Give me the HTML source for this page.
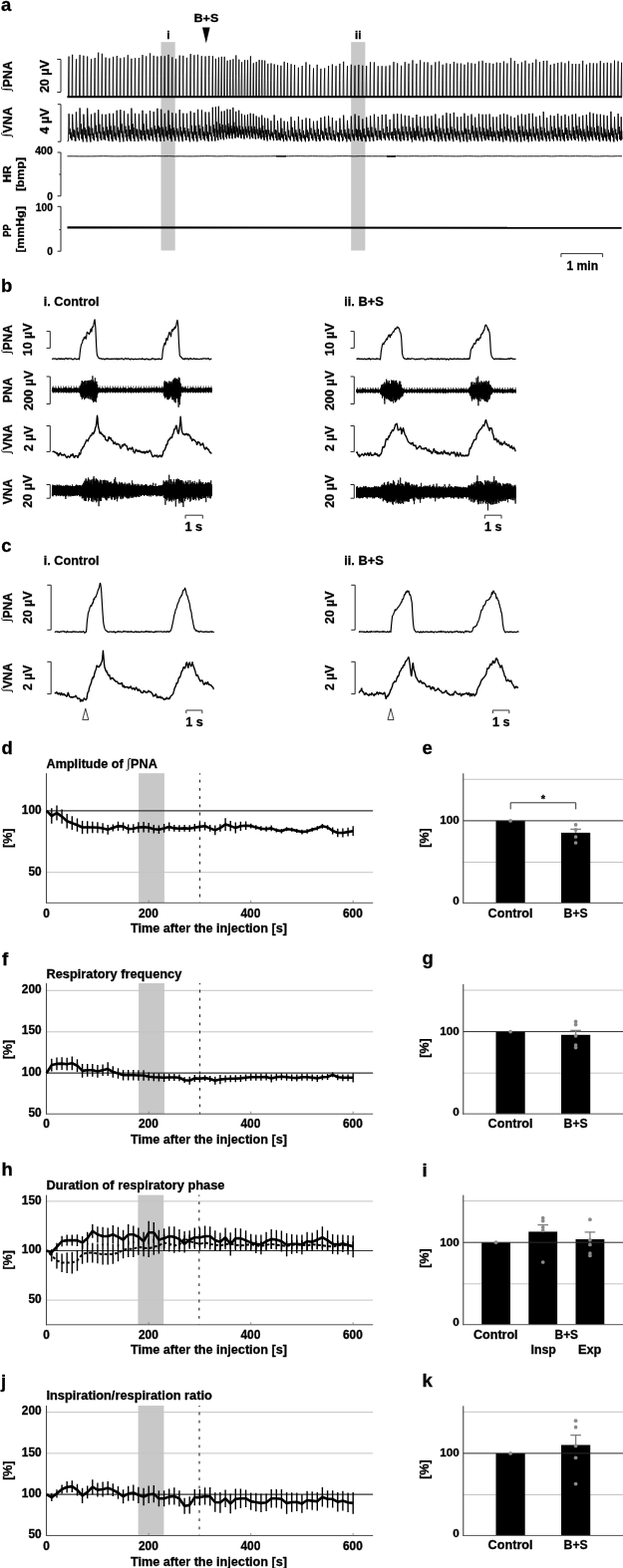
<!DOCTYPE html>
<html lang="en">
<head>
<meta charset="utf-8">
<title>Figure</title>
<style>
html,body{margin:0;padding:0;background:#fff;}
body{width:625px;height:1574px;overflow:hidden;}
svg{display:block;}
svg text{font-family:"Liberation Sans", Arial, Helvetica, sans-serif;font-weight:bold;stroke:#000;stroke-width:0.3px;}
</style>
</head>
<body>
<svg width="625" height="1574" viewBox="0 0 625 1574">
<rect x="0" y="0" width="625" height="1574" fill="#fff"/>
<rect x="161.5" y="42.2" width="14.2" height="209.3" fill="#c8c8c8"/>
<rect x="352.2" y="42.2" width="14.2" height="209.3" fill="#c8c8c8"/>
<text x="0.9" y="11.3" font-size="18.5">a</text>
<text x="194.5" y="22" font-size="11.8" textLength="24.8" lengthAdjust="spacingAndGlyphs">B+S</text>
<path d="M203 27.5H210.6L206.8 43.5Z" fill="#000" stroke="none" stroke-width="0"/>
<text x="167.3" y="38.8" font-size="11.8">i</text>
<text x="356" y="38.8" font-size="11.8">ii</text>
<text x="12.1" y="91.2" font-size="12.3" transform="rotate(-90 12.1 91.2)"><tspan font-family="'Liberation Serif', serif" font-weight="normal" stroke-width="0.15" dy="-2.0">∫</tspan><tspan dy="2.0" dx="0.4">PNA</tspan></text>
<text x="49.2" y="93.1" font-size="12.5" transform="rotate(-90 49.2 93.1)">20 µV</text>
<path d="M57.3 59.5H61V92.5H57.3" fill="none" stroke="#222" stroke-width="1"/>
<text x="12.1" y="137.2" font-size="12.3" transform="rotate(-90 12.1 137.2)"><tspan font-family="'Liberation Serif', serif" font-weight="normal" stroke-width="0.15" dy="-2.0">∫</tspan><tspan dy="2.0" dx="0.4">VNA</tspan></text>
<text x="49.2" y="134.5" font-size="12.5" transform="rotate(-90 49.2 134.5)">4 µV</text>
<path d="M57.8 104.7H61V142.2H57.8" fill="none" stroke="#222" stroke-width="1"/>
<path d="M57.6 153H61V196.8H57.6M59.3 175H61" fill="none" stroke="#222" stroke-width="1"/>
<text x="52.8" y="155.3" font-size="10.2" textLength="17.6" lengthAdjust="spacingAndGlyphs" text-anchor="end">400</text>
<text x="52.8" y="200.5" font-size="10.2" text-anchor="end">0</text>
<text x="11.4" y="183.2" font-size="11.3" transform="rotate(-90 11.4 183.2)" textLength="17" lengthAdjust="spacingAndGlyphs">HR</text>
<text x="24.3" y="192" font-size="11.3" transform="rotate(-90 24.3 192)" textLength="34" lengthAdjust="spacingAndGlyphs">[bmp]</text>
<path d="M57.6 207.3H61V252.2H57.6M59.3 230.6H61" fill="none" stroke="#222" stroke-width="1"/>
<text x="52.8" y="212.3" font-size="10.2" textLength="17" lengthAdjust="spacingAndGlyphs" text-anchor="end">100</text>
<text x="52.8" y="256.2" font-size="10.2" text-anchor="end">0</text>
<text x="11.4" y="237.8" font-size="11.3" transform="rotate(-90 11.4 237.8)" textLength="12.5" lengthAdjust="spacingAndGlyphs">PP</text>
<text x="24.3" y="253.5" font-size="11.3" transform="rotate(-90 24.3 253.5)" textLength="46.5" lengthAdjust="spacingAndGlyphs">[mmHg]</text>
<polyline points="67.5,97.1 68.5,97.1 68.7,76.9 69.1,56.6 69.3,96.8 72.1,97.1 72.3,76 72.7,54.8 72.9,96.8 75.9,97.1 76.1,78.2 76.5,59.3 76.7,96.8 79.5,97.1 79.7,76.1 80.1,55.1 80.4,96.8 83.3,97.1 83.5,76.5 83.9,55.8 84.2,96.8 87.1,97.1 87.3,76.8 87.7,56.6 88,96.8 90.9,97.1 91.1,78.1 91.5,59.2 91.7,96.8 94.6,97.1 94.8,77.6 95.2,58.1 95.4,96.8 98.1,97.1 98.3,74.9 98.7,52.7 99,96.8 101.8,97.1 102,75.4 102.4,53.8 102.6,96.8 105.5,97.1 105.7,77.4 106.1,57.7 106.3,96.8 109.2,97.1 109.4,77.8 109.8,58.5 110.1,96.8 113,97.1 113.2,77 113.6,56.9 113.9,96.8 116.7,97.1 116.9,76.5 117.3,56 117.5,96.8 120.2,97.1 120.4,77.8 120.8,58.4 121.1,96.8 123.9,97.1 124.1,77.3 124.5,57.6 124.7,96.8 127.7,97.1 127.9,76.1 128.3,55.2 128.6,96.8 131.3,97.1 131.5,78 131.9,58.8 132.2,96.8 135,97.1 135.2,77.7 135.6,58.3 135.9,96.8 138.8,97.1 139,77.6 139.4,58.1 139.7,96.8 142.4,97.1 142.6,76.1 143,55.1 143.2,96.8 146.1,97.1 146.3,76.7 146.7,56.4 147,96.8 150,97.1 150.2,75.3 150.6,53.4 150.8,96.8 153.6,97.1 153.8,76.5 154.2,55.9 154.4,96.8 157.3,97.1 157.5,76.8 157.9,56.6 158.1,96.8 161.1,97.1 161.3,76.7 161.7,56.3 162,96.8 164.7,97.1 164.9,76.7 165.3,56.3 165.5,96.8 168.4,97.1 168.6,76 169,54.9 169.3,96.8 172.2,97.1 172.4,77.2 172.8,57.4 173,96.8 175.9,97.1 176.1,78.1 176.5,59.1 176.8,96.8 179.6,97.1 179.8,76.4 180.2,55.6 180.5,96.8 183.2,97.1 183.4,76.5 183.8,55.9 184.1,96.8 186.9,97.1 187.1,77.5 187.5,57.9 187.8,96.8 190.6,97.1 190.8,75.6 191.2,54.1 191.4,96.8 194.3,97.1 194.5,76.2 194.9,55.3 195.1,96.8 197.9,97.1 198.1,75.9 198.5,54.8 198.8,96.8 201.7,97.1 201.9,76.7 202.3,56.2 202.6,96.8 205.5,97.1 205.7,76.8 206.1,56.5 206.4,96.8 209.2,97.1 209.4,76.6 209.8,56 210,96.8 212.8,97.1 213,76.6 213.4,56.2 213.6,96.8 215.9,97.1 216.1,78 216.5,58.9 216.8,96.8 218.8,97.1 219,77.4 219.4,57.6 219.7,96.8 221.7,97.1 221.9,77 222.3,56.9 222.5,96.8 224.6,97.1 224.8,77 225.2,56.9 225.5,96.8 227.5,97.1 227.7,78.9 228.1,60.8 228.3,96.8 230.4,97.1 230.6,78.6 231,60.1 231.2,96.8 233.3,97.1 233.5,78.2 233.9,59.3 234.2,96.8 236.2,97.1 236.4,76.3 236.8,55.5 237.1,96.8 239.2,97.1 239.4,78.4 239.8,59.7 240.1,96.8 242,97.1 242.2,79.7 242.6,62.3 242.9,96.8 245,97.1 245.2,78.7 245.6,60.2 245.9,96.8 247.9,97.1 248.1,78.7 248.5,60.3 248.7,96.8 250.8,97.1 251,76.7 251.4,56.3 251.6,96.8 253.7,97.1 253.9,80.2 254.3,63.3 254.6,96.8 256.6,97.1 256.8,79.6 257.2,62.1 257.5,96.8 259.5,97.1 259.7,78.6 260.1,60.1 260.3,96.8 262.3,97.1 262.5,78.7 262.9,60.3 263.1,96.8 265.1,97.1 265.3,78.9 265.7,60.7 266,96.8 268.2,97.1 268.4,80.5 268.8,63.9 269.1,96.8 271.4,97.1 271.6,80.3 272,63.5 272.2,96.8 274.6,97.1 274.8,80.7 275.2,64.4 275.4,96.8 278,97.1 278.2,81.2 278.6,65.3 278.8,96.8 281.3,97.1 281.5,81.5 281.9,65.8 282.2,96.8 284.6,97.1 284.8,79.5 285.2,61.9 285.4,96.8 287.9,97.1 288.1,80 288.5,63 288.8,96.8 291.5,97.1 291.7,80.7 292.1,64.3 292.3,96.8 295,97.1 295.2,81.1 295.6,65 295.8,96.8 298.8,97.1 299,82.4 299.4,67.7 299.6,96.8 302.6,97.1 302.8,81.6 303.2,66 303.4,96.8 306.4,97.1 306.6,79.8 307,62.4 307.2,96.8 310.1,97.1 310.3,81 310.7,64.8 310.9,96.8 313.9,97.1 314.1,82.7 314.5,68.4 314.8,96.8 317.6,97.1 317.8,81 318.2,64.9 318.4,96.8 321.3,97.1 321.5,83 321.9,68.9 322.1,96.8 325.1,97.1 325.3,82.8 325.7,68.5 325.9,96.8 329,97.1 329.2,81.6 329.6,66 329.8,96.8 332.8,97.1 333,80.8 333.4,64.5 333.7,96.8 336.5,97.1 336.7,81.7 337.1,66.2 337.4,96.8 340.3,97.1 340.5,80.5 340.9,63.9 341.2,96.8 344.1,97.1 344.3,79.5 344.7,61.8 345,96.8 347.9,97.1 348.1,81.5 348.5,66 348.8,96.8 351.7,97.1 351.9,81 352.3,64.8 352.5,96.8 355.5,97.1 355.7,81.5 356.1,65.8 356.3,96.8 359.3,97.1 359.5,81 359.9,65 360.1,96.8 363.2,97.1 363.4,81.4 363.8,65.7 364.1,96.8 367.1,97.1 367.3,81.6 367.7,66.1 368,96.8 371,97.1 371.2,79.7 371.6,62.3 371.8,96.8 374.8,97.1 375,79.8 375.4,62.5 375.6,96.8 378.7,97.1 378.9,81.7 379.3,66.3 379.6,96.8 382.6,97.1 382.8,81.7 383.2,66.2 383.5,96.8 386.5,97.1 386.7,81.7 387.1,66.4 387.4,96.8 390.4,97.1 390.6,81.4 391,65.6 391.3,96.8 394.4,97.1 394.6,79.6 395,62.1 395.2,96.8 398.1,97.1 398.3,80.2 398.7,63.4 398.9,96.8 402,97.1 402.2,81.5 402.6,65.8 402.8,96.8 405.7,97.1 405.9,79.6 406.3,62.2 406.6,96.8 409.5,97.1 409.7,80.4 410.1,63.8 410.4,96.8 413.4,97.1 413.6,78.7 414,60.4 414.3,96.8 417.3,97.1 417.5,80.5 417.9,63.9 418.2,96.8 421,97.1 421.2,78.7 421.6,60.4 421.9,96.8 424.9,97.1 425.1,79.7 425.5,62.4 425.7,96.8 428.5,97.1 428.7,79.8 429.1,62.5 429.4,96.8 432.3,97.1 432.5,81.2 432.9,65.3 433.1,96.8 436.2,97.1 436.4,79.7 436.8,62.4 437,96.8 439.9,97.1 440.1,79.4 440.5,61.6 440.7,96.8 443.6,97.1 443.8,81 444.2,64.8 444.5,96.8 447.3,97.1 447.5,80.3 447.9,63.4 448.2,96.8 451.1,97.1 451.3,80.6 451.7,64.2 451.9,96.8 454.8,97.1 455,79.6 455.4,62 455.6,96.8 458.2,97.1 458.4,80.3 458.8,63.6 459.1,96.8 461.8,97.1 462,80.4 462.4,63.6 462.6,96.8 465.4,97.1 465.6,80.9 466,64.8 466.2,96.8 468.8,97.1 469,79.9 469.4,62.6 469.7,96.8 472.4,97.1 472.6,80.2 473,63.4 473.3,96.8 476.1,97.1 476.3,80.5 476.7,63.9 476.9,96.8 479.8,97.1 480,79.4 480.4,61.6 480.6,96.8 483.5,97.1 483.7,79 484.1,60.9 484.4,96.8 487,97.1 487.2,80.1 487.6,63 487.8,96.8 490.5,97.1 490.7,80.2 491.1,63.3 491.4,96.8 494.2,97.1 494.4,80.5 494.8,63.9 495,96.8 497.7,97.1 497.9,79.9 498.3,62.7 498.5,96.8 501.2,97.1 501.4,80.1 501.8,63.1 502,96.8 504.8,97.1 505,79.3 505.4,61.5 505.6,96.8 508.3,97.1 508.5,80.3 508.9,63.5 509.1,96.8 512,97.1 512.2,77.6 512.6,58.2 512.8,96.8 515.7,97.1 515.9,79.1 516.3,61.1 516.5,96.8 519.1,97.1 519.3,80.6 519.7,64.1 520,96.8 522.8,97.1 523,79.8 523.4,62.5 523.6,96.8 526.4,97.1 526.6,79 527,60.8 527.3,96.8 530.2,97.1 530.4,80.5 530.8,63.8 531,96.8 533.7,97.1 533.9,80 534.3,62.9 534.6,96.8 537.2,97.1 537.4,78.4 537.8,59.6 538.1,96.8 540.9,97.1 541.1,79.6 541.5,62.2 541.8,96.8 544.7,97.1 544.9,79 545.3,61 545.5,96.8 548.2,97.1 548.4,79 548.8,60.9 549,96.8 551.7,97.1 551.9,81 552.3,64.9 552.6,96.8 555.4,97.1 555.6,80.5 556,63.9 556.3,96.8 559.1,97.1 559.3,80.1 559.7,63 560,96.8 562.6,97.1 562.8,79.7 563.2,62.4 563.5,96.8 566.3,97.1 566.5,80.3 566.9,63.4 567.1,96.8 570,97.1 570.2,79.2 570.6,61.4 570.8,96.8 573.6,97.1 573.8,80.5 574.2,64 574.4,96.8 577.1,97.1 577.3,80.6 577.7,64.1 577.9,96.8 580.5,97.1 580.7,80.6 581.1,64.1 581.4,96.8 584.1,97.1 584.3,79 584.7,60.9 584.9,96.8 587.8,97.1 588,80.9 588.4,64.7 588.6,96.8 591.2,97.1 591.4,80.2 591.8,63.2 592.1,96.8 594.7,97.1 594.9,80.2 595.3,63.4 595.5,96.8 598.2,97.1 598.4,80.3 598.8,63.5 599.1,96.8 601.7,97.1 601.9,79.2 602.3,61.2 602.6,96.8 605.2,97.1 605.4,80.2 605.8,63.3 606.1,96.8 608.7,97.1 608.9,79.9 609.3,62.8 609.5,96.8 612.3,97.1 612.5,80.3 612.9,63.4 613.1,96.8 615.9,97.1 616.1,78.9 616.5,60.7 616.8,96.8 619.5,97.1 619.7,79.2 620.1,61.4 620.4,96.8 623,97.1 623.2,80 623.6,62.8 623.8,96.8 624,97.1" fill="none" stroke="#000" stroke-width="0.8" stroke-linejoin="round"/>
<line x1="67.5" y1="97.2" x2="624" y2="97.2" stroke="#000" stroke-width="2"/>
<polyline points="67.5,141.8 68.5,141.5 69.1,114.2 69.6,126.3 69.9,134.9 70.3,129.2 70.7,139 71.1,132.7 71.6,139.4 71.8,134.7 72.1,141 72.7,114.7 73.2,126.6 73.6,137.2 74,129.8 74.4,137.7 74.9,131 75.3,141.5 75.6,136 75.9,141.6 76.4,112.4 77,126.2 77.3,135.6 77.7,128 78.1,138.3 78.6,132.5 79,139.4 79.3,135.6 79.5,141.1 80.1,108.4 80.7,125.1 81,134.8 81.4,124.4 81.9,139.2 82.3,129.7 82.8,140.1 83,135.7 83.3,142.4 83.9,114.7 84.5,126.8 84.8,135.5 85.2,128.2 85.7,138.5 86.1,130.2 86.6,140 86.9,135.4 87.1,142.5 87.7,108.6 88.3,125.5 88.6,135.8 89,126.6 89.4,137.4 89.9,128.3 90.3,140.4 90.6,134 90.9,142.6 91.5,114.7 92,130.1 92.3,136 92.7,128.7 93.2,139.1 93.6,133.8 94,140.4 94.3,136.1 94.6,141.2 95.1,113.3 95.6,127.7 96,134.7 96.3,125.7 96.8,138 97.2,132.5 97.6,139.8 97.9,136.6 98.1,142 98.7,110.2 99.2,127.6 99.6,133.6 99.9,124.7 100.4,139.2 100.8,132.1 101.3,139.2 101.5,135.7 101.8,141 102.4,114.7 102.9,126.7 103.2,135.2 103.6,127.8 104.1,139.8 104.5,131.8 104.9,139.5 105.2,135.2 105.5,140.9 106.1,114.8 106.6,128 107,135.9 107.3,127.3 107.8,138.2 108.2,130.5 108.7,140.8 109,135.5 109.2,141.7 109.8,113.8 110.4,126.6 110.7,135 111.1,126.3 111.6,139.3 112,130.8 112.5,141.5 112.7,135.3 113,142.1 113.6,113.8 114.1,128.7 114.5,136.8 114.8,126.3 115.3,139.3 115.7,133.2 116.2,139.9 116.4,135.5 116.7,141.2 117.2,110.8 117.7,127.8 118.1,135.6 118.5,127.7 118.9,137.9 119.3,130.7 119.7,139.5 120,134.4 120.2,142.5 120.8,110.1 121.3,124.5 121.7,133.5 122.1,124.2 122.5,137.8 122.9,131.5 123.4,139.6 123.6,134.7 123.9,142.3 124.5,111.4 125,125.3 125.4,133.7 125.8,126.7 126.2,137.7 126.7,130 127.2,140.9 127.4,135.7 127.7,141.8 128.3,114.3 128.8,129.2 129.1,137 129.5,126 129.9,139.4 130.4,130.1 130.8,140.9 131.1,136 131.3,141.9 131.9,108.6 132.4,123.5 132.8,135 133.2,124.2 133.6,138.8 134,128 134.5,139.7 134.7,135 135,142 135.6,113.8 136.1,128.6 136.5,136.3 136.9,129.3 137.4,138.2 137.8,130.3 138.3,139.8 138.6,135.3 138.8,142.1 139.4,114.4 139.9,126.4 140.3,134.5 140.6,129.9 141,139.4 141.5,131 141.9,140.1 142.1,136.8 142.4,141.3 143,110.8 143.5,126.1 143.9,136 144.3,124.3 144.7,139.6 145.1,130.9 145.6,139.5 145.9,135.9 146.1,141.5 146.7,114.3 147.3,128.3 147.7,135 148,129.6 148.5,139.1 149,130.5 149.4,139.6 149.7,134.4 150,141.1 150.5,111.1 151,126.6 151.4,136 151.8,128 152.2,137 152.6,130.1 153.1,140.1 153.3,134.7 153.6,141.6 154.2,112.1 154.7,128 155.1,134.7 155.4,126.3 155.9,137.9 156.3,129.7 156.8,140.6 157,135 157.3,142.3 157.9,108.8 158.4,124.2 158.8,133.8 159.2,126.5 159.7,138 160.1,128 160.6,140.5 160.8,134.2 161.1,142.1 161.7,109.7 162.2,127.4 162.5,135.3 162.9,127.4 163.3,137.3 163.8,129.6 164.2,139.1 164.4,135.8 164.7,141.8 165.3,113.8 165.8,127.8 166.2,136.6 166.6,127.4 167,137.4 167.4,131.3 167.9,139.3 168.1,135 168.4,140.9 169,110.7 169.5,128.2 169.9,135.1 170.3,125.5 170.7,139.1 171.2,129.2 171.7,139.8 171.9,136.3 172.2,142.1 172.8,113.2 173.3,125.8 173.7,135.6 174.1,128.2 174.5,137.5 175,130.8 175.4,140.5 175.7,135.8 175.9,141.5 176.5,113.8 177,129.8 177.4,135.1 177.8,128.9 178.2,137.5 178.7,131.6 179.1,140.4 179.4,135.9 179.6,142.2 180.2,110.1 180.7,126.8 181.1,135.8 181.4,127.5 181.9,137.5 182.3,131.7 182.7,140.3 183,134.1 183.2,142.2 183.8,113.7 184.3,128.3 184.7,134.3 185.1,128.1 185.5,137.1 186,131.2 186.4,140.6 186.7,136.1 186.9,140.9 187.5,113.8 188,128.1 188.4,136.6 188.8,129 189.2,138 189.6,132 190.1,140.9 190.3,136.8 190.6,142.4 191.2,111.6 191.7,126 192.1,134.3 192.4,125.9 192.9,138.9 193.3,132.5 193.8,140.2 194,135.7 194.3,141.7 194.9,113.1 195.4,127.2 195.7,135.3 196.1,126.2 196.6,138.7 197,132.2 197.4,140.7 197.7,136.2 197.9,142.3 198.6,109.8 199.1,126.1 199.5,135.9 199.8,125.5 200.3,138.6 200.8,129.1 201.2,139.2 201.5,136.1 201.7,140.9 202.4,110.4 202.9,126.6 203.3,136.2 203.6,127.2 204.1,139.5 204.5,132.3 205,140.1 205.3,134.1 205.5,141.3 206.1,112.5 206.6,127.7 207,136.6 207.3,125.2 207.8,139.2 208.2,132.3 208.7,140.8 208.9,134.2 209.2,142.1 209.7,112.6 210.3,127.8 210.6,135 211,126.6 211.4,136.9 211.8,133.3 212.3,141.1 212.5,136.8 212.8,141.6 213.3,107.7 213.7,126.1 214,133.4 214.4,125.4 214.7,136.9 215.1,129.1 215.5,141 215.7,134.1 215.9,141.7 216.4,107.3 216.8,123.6 217.1,133.4 217.4,122.5 217.7,137.8 218.1,130.6 218.4,139.3 218.6,134 218.8,141 219.3,106.7 219.7,125.7 220,134.6 220.3,124 220.6,137.5 220.9,127.1 221.3,139.6 221.5,134.4 221.7,139.9 222.2,111.7 222.6,124.4 222.9,133.4 223.2,125.2 223.5,138.3 223.9,130.2 224.2,139.5 224.4,133.9 224.6,140.4 225.1,111.3 225.5,126.8 225.8,133.1 226.1,125.6 226.4,137.4 226.7,131.8 227.1,138.4 227.3,133.7 227.5,139.4 228,109.6 228.4,125.3 228.6,134.8 228.9,123.9 229.3,136.4 229.6,127.6 230,138.6 230.2,134.8 230.4,139.2 230.9,109.9 231.3,124.1 231.6,133.6 231.9,126.3 232.2,136.1 232.6,129 232.9,139 233.1,132 233.3,139.3 233.8,107.9 234.2,123 234.5,133.4 234.8,122.7 235.1,134.7 235.5,127.2 235.8,138.3 236,131.4 236.2,138.7 236.7,111.9 237.1,125.8 237.4,132.2 237.7,126.7 238.1,137.3 238.5,128.7 238.8,137.6 239,133.6 239.2,138.2 239.7,110.7 240.1,125.6 240.4,133.8 240.6,126.1 241,135.5 241.3,130.2 241.6,137.8 241.8,131.9 242,139.1 242.5,114.3 242.9,126.9 243.2,134.5 243.5,127.5 243.9,135.2 244.2,129.7 244.6,138.5 244.8,133.5 245,139.7 245.5,115.5 245.9,127 246.2,133.2 246.5,127.3 246.8,135.6 247.1,129.6 247.5,138.2 247.7,134.7 247.9,138.3 248.4,114.9 248.8,126.9 249,133.4 249.3,126.7 249.7,135.4 250,131.4 250.4,137.1 250.6,132.3 250.8,139.5 251.2,113.7 251.7,125.4 251.9,132.6 252.2,126.8 252.6,137.3 252.9,129 253.3,138 253.5,132.8 253.7,139.1 254.2,114.2 254.6,126.3 254.9,134.2 255.2,126.9 255.5,135.4 255.9,129.9 256.2,139.1 256.4,134.7 256.6,139.7 257.1,116.4 257.5,126.5 257.8,134.2 258.1,129.5 258.4,135.8 258.7,133.1 259.1,139.2 259.3,135 259.5,138.9 259.9,117.6 260.3,127.9 260.6,135.6 260.9,128.4 261.2,138 261.5,130.7 261.9,139.4 262.1,136 262.3,139.4 262.7,115.6 263.1,126.8 263.4,133.4 263.7,126.1 264,137.9 264.4,131.2 264.7,139.5 264.9,134 265.1,141 265.6,118.4 266.1,131.4 266.4,134.4 266.7,130.5 267.1,137.9 267.4,130.5 267.8,139.6 268,134.9 268.2,141.6 268.7,118.7 269.2,130.7 269.5,134.6 269.8,130.5 270.2,136.7 270.5,134.4 270.9,140 271.1,136.3 271.4,140.4 271.9,121.2 272.3,131.3 272.6,136.5 273,132.5 273.4,138.2 273.7,133.6 274.1,139.4 274.4,136.9 274.6,141.2 275.1,115.4 275.6,129.7 275.9,134.9 276.3,130.1 276.7,138.6 277.1,130.8 277.5,141.1 277.7,137.1 278,141 278.5,121 279,130.4 279.3,137.3 279.6,133.2 280,140.4 280.4,133.6 280.8,139.7 281.1,137.5 281.3,141.2 281.8,118.6 282.3,130.6 282.6,138.1 282.9,128.8 283.3,138.5 283.7,134.8 284.1,139.8 284.3,135.6 284.6,142.2 285.1,121.5 285.6,130.2 285.9,136.1 286.2,132.2 286.7,140.2 287.1,135.5 287.5,140.6 287.7,138.6 287.9,141.6 288.5,122 289,131.4 289.4,137.6 289.7,130.7 290.1,138.4 290.6,136.6 291,140.3 291.2,137.4 291.5,141.3 292,117.3 292.5,129 292.9,136.6 293.2,127.8 293.6,137.4 294.1,133.5 294.5,140.3 294.7,135.2 295,142 295.6,121.3 296.1,132.6 296.5,137.3 296.9,130.4 297.3,140.4 297.8,133.2 298.2,141.4 298.5,136.2 298.8,142.2 299.4,116.9 299.9,129.3 300.3,136.1 300.7,129.6 301.1,139.3 301.6,133.1 302,141 302.3,135.1 302.6,142.2 303.2,120.1 303.7,130.7 304.1,138.4 304.5,131.1 304.9,138.6 305.4,135.5 305.8,140.5 306.1,137.2 306.4,142.3 307,118.4 307.5,129 307.8,137.8 308.2,130.4 308.7,138.6 309.1,132.7 309.6,141.8 309.8,138 310.1,141.4 310.7,118.9 311.2,132.2 311.6,135.3 312,128.5 312.5,139 312.9,133.9 313.4,139.5 313.6,135.8 313.9,141.2 314.5,121.7 315,130.5 315.4,136.3 315.7,130.3 316.2,139 316.6,133.1 317,141.5 317.3,137.1 317.6,142 318.2,121.3 318.7,132.7 319,136.9 319.4,129.6 319.9,139.8 320.3,135.4 320.8,141.7 321,137.9 321.3,141.4 321.9,118 322.4,128.9 322.8,135.3 323.2,131.2 323.6,139.1 324.1,132.4 324.5,139.7 324.8,135.9 325.1,141.2 325.7,116.8 326.2,127.5 326.6,136 327,128.7 327.5,139.4 328,133 328.4,140.5 328.7,137.7 329,141 329.6,116.2 330.1,128 330.5,135.9 330.9,127.3 331.3,139.5 331.8,133.7 332.3,140 332.5,137.4 332.8,141.2 333.4,118 333.9,130.4 334.3,137.1 334.7,130.8 335.1,140.4 335.6,134.9 336,140.4 336.3,136.4 336.5,141.6 337.2,121.3 337.7,130.3 338.1,136.2 338.4,132.8 338.9,137.9 339.4,133 339.8,141.2 340.1,137.5 340.3,142.3 340.9,118.6 341.5,129.2 341.9,135.8 342.2,130.3 342.7,137.8 343.1,134.2 343.6,141.7 343.9,137.6 344.1,140.9 344.7,115.6 345.3,128.4 345.6,137.2 346,130.1 346.5,138.9 346.9,133 347.4,139.9 347.7,135.3 347.9,142.4 348.5,120.8 349,130.5 349.4,138.7 349.8,129.3 350.2,140.2 350.7,134.3 351.1,139.7 351.4,137.7 351.7,142.1 352.3,116.6 352.8,130 353.2,136.8 353.6,130.3 354,138.4 354.5,134.5 354.9,140.5 355.2,135.6 355.5,141.3 356.1,114.6 356.6,128 357,136.4 357.4,129.4 357.8,138 358.3,130.1 358.8,140.6 359,136.1 359.3,141.3 359.9,116.2 360.5,130.3 360.9,137 361.3,130.5 361.7,139.5 362.2,133.3 362.7,140.7 362.9,137.2 363.2,142 363.8,119.4 364.4,131.8 364.8,137.7 365.2,129.1 365.6,138.6 366.1,135.5 366.6,141.3 366.9,135.8 367.1,142.3 367.7,117.6 368.3,131.2 368.7,136.5 369.1,128.1 369.5,138.1 370,131.2 370.4,139.8 370.7,135.2 371,142.1 371.6,116.1 372.1,128.7 372.5,137.3 372.9,127.5 373.3,137.8 373.8,133 374.3,140.6 374.5,135 374.8,141.9 375.4,114.7 376,128.7 376.4,135.5 376.7,128.7 377.2,137.3 377.7,131.2 378.2,140.8 378.4,136.1 378.7,140.9 379.3,117.1 379.9,128.7 380.3,137.8 380.7,131.2 381.1,139.8 381.6,131.2 382.1,139.5 382.4,135.5 382.6,141.2 383.3,115 383.8,127.3 384.2,135.2 384.6,129.3 385,138.7 385.5,133.6 386,139.4 386.2,134.6 386.5,141 387.1,114.8 387.7,129.2 388.1,136.2 388.5,127.1 388.9,137.8 389.4,133 389.9,139.3 390.2,137.2 390.4,141.1 391.1,119.9 391.6,131.4 392,135.8 392.4,132.8 392.9,139 393.4,132.2 393.8,139.9 394.1,137.1 394.4,141.3 395,114.5 395.5,127.7 395.9,136 396.2,128.7 396.7,139.2 397.1,131.3 397.5,140.1 397.8,136.9 398.1,141.6 398.7,114.1 399.2,130 399.6,134.7 400,129.3 400.5,139.7 401,132.1 401.4,140.9 401.7,134.4 402,142 402.6,114.5 403.1,128.4 403.5,136 403.9,126.8 404.3,139.6 404.8,132.1 405.2,140.7 405.5,134.8 405.7,141.2 406.3,115.8 406.9,129.8 407.3,134.7 407.6,127.3 408.1,137.8 408.6,132 409,141.4 409.3,134.6 409.5,140.9 410.2,116.1 410.7,128.5 411.1,135.5 411.5,127.6 412,138.7 412.4,131.9 412.9,139.9 413.2,136.5 413.4,142.5 414.1,118.1 414.6,128.9 415,138 415.4,128.6 415.8,140.3 416.3,131.5 416.8,139.4 417,135.4 417.3,141.2 417.9,115 418.4,127.5 418.8,136.4 419.2,126.5 419.6,138.7 420.1,131.7 420.5,139.6 420.8,137.1 421,141.3 421.6,117.1 422.2,130.2 422.6,137.4 422.9,128.4 423.4,137.7 423.9,134.8 424.3,140.4 424.6,136.5 424.9,142.3 425.5,116.4 426,128.8 426.3,137 426.7,129.2 427.1,137.5 427.6,132.7 428,141.4 428.3,136.3 428.5,140.8 429.1,116.7 429.7,130.1 430,136 430.4,128.6 430.9,138.4 431.3,132.4 431.8,140.2 432,135.7 432.3,140.9 432.9,116.2 433.5,127.9 433.8,136 434.2,130.5 434.7,138.5 435.2,132.8 435.6,141.5 435.9,137.1 436.2,141.9 436.8,114.5 437.3,128.5 437.7,134.9 438,126.7 438.5,137.2 438.9,130.3 439.4,140.7 439.6,136.1 439.9,142.3 440.5,118.8 441,130.1 441.4,136.9 441.8,128.6 442.2,140.1 442.6,131.8 443.1,140 443.4,136.6 443.6,141.8 444.2,115.7 444.7,130.5 445.1,134.7 445.5,129.5 445.9,138.5 446.4,133.7 446.8,140.9 447.1,137 447.3,142.2 447.9,113.2 448.5,126 448.8,135.6 449.2,128.6 449.7,139.2 450.1,133.2 450.6,140.2 450.8,134 451.1,141.3 451.7,114 452.2,128.5 452.5,134.3 452.9,127.3 453.4,138.9 453.8,130.3 454.2,140 454.5,134.6 454.8,142.2 455.3,112.9 455.8,127.9 456.1,135.5 456.5,129.2 456.9,137.6 457.3,132.2 457.7,139.4 458,135.8 458.2,140.8 458.8,117.3 459.3,131.2 459.6,135.8 460,131.5 460.4,139.4 460.8,133.7 461.3,141 461.5,137.9 461.8,142.6 462.4,117 462.9,128.7 463.2,135.1 463.6,131.1 464,137.6 464.4,132.8 464.9,141.4 465.1,135.7 465.4,142 465.9,113.7 466.4,128.5 466.8,134.6 467.1,128.6 467.5,139.5 467.9,130.3 468.3,141.5 468.6,137 468.8,142.5 469.4,116.3 469.9,130.8 470.3,135 470.6,130 471.1,140.1 471.5,133.9 471.9,139.6 472.2,135.9 472.4,141.5 473,114.6 473.5,127.8 473.9,134.6 474.3,126.2 474.7,138 475.1,131.7 475.6,140.6 475.8,137.2 476.1,141.4 476.7,117.7 477.2,131.2 477.6,137.5 477.9,128.2 478.4,139.4 478.8,131.5 479.3,141.7 479.5,135.8 479.8,141.6 480.4,114.3 480.9,128.1 481.3,134.9 481.6,127.5 482.1,137.9 482.5,132.4 483,140.2 483.2,136 483.5,142 484.1,114.8 484.6,130.2 484.9,136 485.3,128.5 485.7,138.9 486.1,132.3 486.5,140.2 486.8,135.1 487,141.2 487.6,114.8 488.1,128.9 488.4,137 488.8,129.5 489.2,139.4 489.6,130.9 490,139.3 490.3,135 490.5,141 491.1,114.5 491.6,126.6 492,137.3 492.3,127.6 492.8,137.2 493.2,132 493.7,140.9 493.9,135.7 494.2,141.7 494.7,117.4 495.2,127.9 495.6,137.1 495.9,131.4 496.3,137.5 496.7,133.3 497.2,141.4 497.4,136.9 497.7,140.9 498.2,117.3 498.7,129.4 499.1,135 499.4,130.9 499.8,138.9 500.3,132.2 500.7,141.2 500.9,135.5 501.2,141.7 501.8,114.9 502.3,126.8 502.6,136.8 503,129.1 503.4,137.7 503.9,131.8 504.3,140 504.5,137.2 504.8,142.5 505.4,113.9 505.8,128.9 506.2,136.5 506.5,127.1 507,139.5 507.4,131.1 507.8,141.2 508.1,136.3 508.3,141.1 508.9,114.9 509.4,128.8 509.8,136.3 510.1,129.1 510.6,137.3 511,131.1 511.5,140.6 511.7,136.9 512,142.4 512.6,116.7 513.1,131.1 513.5,135 513.8,130.1 514.3,138.5 514.7,131.3 515.2,139.9 515.4,135.9 515.7,142.1 516.2,118.1 516.7,129.8 517.1,136.1 517.4,131.4 517.8,140.4 518.2,133.1 518.7,140.2 518.9,136.9 519.1,142.4 519.7,115.6 520.2,127.8 520.6,134.9 521,126.7 521.4,137.7 521.8,130.7 522.3,141.5 522.5,136.6 522.8,142.5 523.3,114.4 523.9,128.6 524.2,136.4 524.6,126.7 525,137.9 525.5,132.4 525.9,141.2 526.2,135.1 526.4,141.3 527,115.2 527.6,127.7 527.9,136.2 528.3,130.2 528.8,140 529.2,132.5 529.7,139.3 529.9,135.3 530.2,142.5 530.8,113.9 531.2,126.4 531.6,136.6 532,129.4 532.4,137.2 532.8,133.4 533.2,140.6 533.5,136.7 533.7,142 534.3,113.8 534.8,129.3 535.1,136.4 535.5,127.4 535.9,138.1 536.3,133.6 536.7,139.8 537,135.3 537.2,141.4 537.8,117.2 538.3,129.8 538.7,135.5 539.1,129.2 539.5,139.2 540,132.5 540.4,141.2 540.7,136.4 540.9,142.1 541.5,116 542.1,129.1 542.4,136 542.8,127.6 543.2,140.2 543.7,131.2 544.1,140.2 544.4,136.4 544.7,141.3 545.2,112.1 545.7,125.4 546.1,135.9 546.4,128.7 546.8,138.1 547.3,133.1 547.7,139.9 547.9,136.4 548.2,142 548.7,118.1 549.2,131.5 549.6,135.9 550,131.4 550.4,139.3 550.8,132.6 551.2,139.5 551.5,137.1 551.7,141.8 552.3,115.7 552.8,127.5 553.2,134.6 553.6,127.1 554,139.1 554.5,130.9 554.9,140 555.2,136.3 555.4,141.7 556,116.3 556.5,128.7 556.9,137 557.3,128.7 557.7,138.1 558.2,134.6 558.6,139.7 558.9,136.6 559.1,141.4 559.7,114.1 560.2,128.9 560.5,136.5 560.9,127.8 561.3,137.9 561.7,130.3 562.1,141.3 562.4,137.1 562.6,141.4 563.2,116.3 563.7,129.6 564.1,137 564.4,130.4 564.9,139.5 565.3,133.3 565.8,140.8 566,134.7 566.3,142.1 566.9,114.9 567.4,127.6 567.7,135.1 568.1,128 568.6,138.7 569,130.2 569.4,141.1 569.7,136.5 570,141.2 570.5,116.6 571,127.9 571.4,136 571.8,131.1 572.2,138.5 572.6,134.4 573.1,139.8 573.3,135.5 573.6,141.1 574.1,114.8 574.6,126.7 575,136.4 575.3,127.7 575.7,139.2 576.2,131 576.6,140 576.8,137 577.1,141 577.6,114.3 578.1,127.7 578.5,134.6 578.8,126.3 579.2,138.7 579.6,130.3 580.1,139.7 580.3,134.5 580.5,141.6 581.1,117.3 581.6,128.2 581.9,135.9 582.3,129.3 582.7,137.9 583.2,131.5 583.6,139.7 583.8,137.7 584.1,141.6 584.7,115.8 585.2,129.8 585.5,136.9 585.9,129.6 586.4,139.9 586.8,132.6 587.2,139.7 587.5,136.4 587.8,142.3 588.3,115.1 588.8,127.4 589.1,136.5 589.5,126.5 589.9,138.2 590.3,131.6 590.7,139.5 591,136.9 591.2,141.3 591.8,112.7 592.3,128.1 592.6,136.6 593,127.6 593.4,137.9 593.8,132 594.2,140.1 594.4,135.6 594.7,141.3 595.2,113.7 595.7,128.4 596.1,135.6 596.5,128.1 596.9,137.8 597.3,132.7 597.7,139.6 598,135.6 598.2,140.8 598.8,114.6 599.3,129.4 599.6,136 600,126.5 600.4,139.6 600.8,132.8 601.2,141.4 601.5,136.4 601.7,142.2 602.3,114.7 602.8,127.7 603.1,135.7 603.5,127.7 603.9,138 604.3,133.8 604.7,140.5 605,135.9 605.2,141.4 605.8,115.5 606.2,127.6 606.6,137.4 606.9,129.6 607.3,138.6 607.8,132.7 608.2,141.3 608.4,135.6 608.7,141.7 609.2,116.2 609.7,128.8 610.1,137.2 610.5,130.6 610.9,139.8 611.3,133.3 611.8,140.6 612,135.2 612.3,142.3 612.9,111.9 613.4,127 613.7,136 614.1,128.5 614.5,137.6 615,131.3 615.4,141.4 615.7,134.4 615.9,142.5 616.5,117 617,130.9 617.4,135 617.7,129.7 618.1,139.3 618.6,133.7 619,140.8 619.3,136.5 619.5,141.9 620.1,114 620.5,126.3 620.9,134.7 621.2,127.1 621.7,139.8 622.1,131.7 622.5,140.7 622.7,137.1 623,141.1 623.2,117.3 623.3,128.7 623.4,137.7 623.5,130.4 623.6,137.8 623.7,131.3 623.9,139.8 623.9,137.7" fill="none" stroke="#000" stroke-width="0.9" stroke-linejoin="round"/>
<polyline points="67.5,156.8 73.5,156.8 79.5,156.9 85.5,156.9 91.5,156.9 97.5,156.8 103.5,156.7 109.5,156.8 115.5,156.9 121.5,156.9 127.5,156.8 133.5,156.8 139.5,156.9 145.5,156.8 151.5,156.7 157.5,156.7 163.5,156.8 169.5,156.7 175.5,156.9 181.5,156.8 187.5,156.9 193.5,156.9 199.5,156.8 205.5,156.7 211.5,156.7 217.5,156.9 223.5,156.8 229.5,156.7 235.5,156.8 241.5,156.9 247.5,156.9 253.5,156.9 259.5,156.9 265.5,156.8 271.5,156.8 277.5,156.7 283.5,156.8 289.5,156.8 295.5,156.7 301.5,156.7 307.5,156.8 313.5,156.7 319.5,156.8 325.5,156.8 331.5,156.9 337.5,156.7 343.5,156.7 349.5,156.7 355.5,156.9 361.5,156.7 367.5,156.8 373.5,156.8 379.5,156.8 385.5,156.8 391.5,156.8 397.5,156.7 403.5,156.8 409.5,156.8 415.5,156.7 421.5,156.8 427.5,156.8 433.5,156.7 439.5,156.7 445.5,156.8 451.5,156.8 457.5,156.9 463.5,156.8 469.5,156.7 475.5,156.8 481.5,156.9 487.5,156.7 493.5,156.8 499.5,156.7 505.5,156.8 511.5,156.7 517.5,156.9 523.5,156.8 529.5,156.8 535.5,156.8 541.5,156.8 547.5,156.7 553.5,156.9 559.5,156.7 565.5,156.7 571.5,156.8 577.5,156.7 583.5,156.8 589.5,156.7 595.5,156.9 601.5,156.9 607.5,156.7 613.5,156.9 619.5,156.7 624,156.8" fill="none" stroke="#1a1a1a" stroke-width="1" stroke-linejoin="round"/>
<line x1="277" y1="156.9" x2="287" y2="156.9" stroke="#000" stroke-width="1.2"/>
<line x1="388" y1="157" x2="397" y2="157" stroke="#000" stroke-width="1.4"/>
<line x1="67.5" y1="228.4" x2="623.6" y2="228.8" stroke="#000" stroke-width="2.1"/>
<path d="M562.9 258.1V254.6H604.6V258.1" fill="none" stroke="#333" stroke-width="1"/>
<text x="568.5" y="271.3" font-size="12.3" textLength="31.5" lengthAdjust="spacingAndGlyphs">1 min</text>
<text x="0.9" y="292.7" font-size="18.5">b</text>
<text x="43.7" y="306.8" font-size="12.7" textLength="55.8" lengthAdjust="spacingAndGlyphs">i. Control</text>
<text x="345.2" y="306.8" font-size="12.7" textLength="39.6" lengthAdjust="spacingAndGlyphs">ii. B+S</text>
<text x="32.5" y="357.2" font-size="12.4" transform="rotate(-90 32.5 357.2)">10 µV</text>
<path d="M46.6 332.6H50.3V349.4H46.6" fill="none" stroke="#222" stroke-width="1"/>
<text x="32.5" y="412" font-size="12.6" transform="rotate(-90 32.5 412)">200 µV</text>
<path d="M46.6 378H50.3V405.5H46.6" fill="none" stroke="#222" stroke-width="1"/>
<text x="32.5" y="453" font-size="12.3" transform="rotate(-90 32.5 453)">2 µV</text>
<path d="M46.6 427.5H50.3V453.4H46.6" fill="none" stroke="#222" stroke-width="1"/>
<text x="32.5" y="509.7" font-size="12.5" transform="rotate(-90 32.5 509.7)">20 µV</text>
<path d="M46.6 486.5H50.3V500.2H46.6" fill="none" stroke="#222" stroke-width="1"/>
<text x="334.8" y="357.2" font-size="12.4" transform="rotate(-90 334.8 357.2)">10 µV</text>
<path d="M351.6 332.6H355.3V349.4H351.6" fill="none" stroke="#222" stroke-width="1"/>
<text x="334.8" y="412" font-size="12.6" transform="rotate(-90 334.8 412)">200 µV</text>
<path d="M351.6 378H355.3V405.5H351.6" fill="none" stroke="#222" stroke-width="1"/>
<text x="334.8" y="453" font-size="12.3" transform="rotate(-90 334.8 453)">2 µV</text>
<path d="M351.6 427.5H355.3V453.4H351.6" fill="none" stroke="#222" stroke-width="1"/>
<text x="334.8" y="509.7" font-size="12.5" transform="rotate(-90 334.8 509.7)">20 µV</text>
<path d="M351.6 486.5H355.3V500.2H351.6" fill="none" stroke="#222" stroke-width="1"/>
<text x="12" y="355.1" font-size="12" transform="rotate(-90 12 355.1)"><tspan font-family="'Liberation Serif', serif" font-weight="normal" stroke-width="0.15" dy="-2.0">∫</tspan><tspan dy="2.0" dx="0.4">PNA</tspan></text>
<text x="12" y="404.2" font-size="12" transform="rotate(-90 12 404.2)">PNA</text>
<text x="12" y="455.2" font-size="12" transform="rotate(-90 12 455.2)"><tspan font-family="'Liberation Serif', serif" font-weight="normal" stroke-width="0.15" dy="-2.0">∫</tspan><tspan dy="2.0" dx="0.4">VNA</tspan></text>
<text x="12" y="506.2" font-size="12" transform="rotate(-90 12 506.2)">VNA</text>
<polyline points="52.3,360.8 52.7,360.4 53.1,359.9 53.5,359.8 53.9,360.2 54.3,360.2 54.7,360.1 55.1,360.2 55.5,360.2 55.9,359.9 56.3,360.2 56.7,360.7 57.1,360.8 57.5,360.7 57.9,360.2 58.3,360.1 58.7,359.9 59.1,360.2 59.5,360.3 59.9,359.8 60.3,360 60.7,360.6 61.1,360.7 61.5,360.1 61.9,359.9 62.3,360.3 62.7,360.4 63.1,360.1 63.5,360.1 63.9,360.4 64.3,360.9 64.7,360.5 65.1,359.9 65.5,360 65.9,359.6 66.3,359.6 66.7,359.9 67.1,360.3 67.5,360.5 67.9,359.9 68.3,360.1 68.7,360.4 69.1,359.9 69.5,359.8 69.9,360 70.3,360 70.7,360.1 71.1,359.8 71.5,359.8 71.9,360.5 72.3,360.7 72.7,360.7 73.1,360.8 73.5,360.9 73.9,360.4 74.3,360.2 74.7,360.1 75.1,359.8 75.5,359.8 75.9,360.1 76.3,360.8 76.7,360.5 77.1,360.6 77.5,360.5 77.9,360.2 78.3,360.4 78.7,360.1 79.1,360.2 79.5,360.8 79.9,357.5 80.3,353.3 80.7,350.4 81.1,348 81.5,346 81.9,345 82.3,344.5 82.7,343.5 83.1,341 83.5,341.3 83.9,340.5 84.3,338.7 84.7,339.6 85.1,338.2 85.5,338 85.9,340 86.3,340.1 86.7,338 87.1,334.5 87.5,333.3 87.9,334.2 88.3,334.5 88.7,334.3 89.1,335.2 89.5,335.6 89.9,334 90.3,333.9 90.7,332.1 91.1,330.2 91.5,332.4 91.9,333 92.3,329.6 92.7,328 93.1,328.3 93.5,328.1 93.9,326.4 94.3,323.5 94.7,321.8 95.1,320.8 95.5,324.7 95.9,329.6 96.3,339 96.7,347.6 97.1,353.5 97.5,356.7 97.9,357.3 98.3,358.3 98.7,359.1 99.1,359.3 99.5,359.6 99.9,359.9 100.3,359.8 100.7,360 101.1,359.7 101.5,360 101.9,360.4 102.3,360.3 102.7,360.3 103.1,360.2 103.5,360 103.9,360.1 104.3,360.7 104.7,360.9 105.1,360.4 105.5,360.3 105.9,360.3 106.3,360.1 106.7,360.4 107.1,360.4 107.5,359.8 107.9,359.8 108.3,360.1 108.7,360.3 109.1,360.6 109.5,360.4 109.9,360.3 110.3,360.5 110.7,360.4 111.1,360.4 111.5,360.6 111.9,360.2 112.3,360.3 112.7,360.3 113.1,360.1 113.5,360.3 113.9,360.4 114.3,360.2 114.7,360.1 115.1,360.3 115.5,360.5 115.9,360.3 116.3,360.1 116.7,360.3 117.1,360 117.5,360.6 117.9,360.9 118.3,360 118.7,360.3 119.1,360.4 119.5,360.2 119.9,360.6 120.3,360.3 120.7,360.1 121.1,360.1 121.5,360.2 121.9,359.9 122.3,359.7 122.7,360 123.1,360.5 123.5,360.7 123.9,360.8 124.3,360.8 124.7,360.3 125.1,360.2 125.5,359.8 125.9,359.7 126.3,359.9 126.7,360.1 127.1,360.5 127.5,360.3 127.9,360.1 128.3,359.8 128.7,359.9 129.1,360.3 129.5,360.4 129.9,360.2 130.3,360.6 130.7,361 131.1,360.5 131.5,360.2 131.9,360.1 132.3,360.3 132.7,360.3 133.1,360.4 133.5,360.6 133.9,360.8 134.3,360.8 134.7,360.5 135.1,360.4 135.5,360.3 135.9,360.1 136.3,360.6 136.7,360.6 137.1,360.6 137.5,360.6 137.9,360.3 138.3,360.6 138.7,360.5 139.1,360.4 139.5,360.3 139.9,360.1 140.3,360.2 140.7,360.1 141.1,360.5 141.5,360.6 141.9,360.6 142.3,360.1 142.7,359.7 143.1,360.4 143.5,360.4 143.9,360.5 144.3,360.7 144.7,360.4 145.1,360.3 145.5,361 145.9,360.9 146.3,360.4 146.7,360.3 147.1,360.2 147.5,360.1 147.9,360 148.3,360.8 148.7,361 149.1,360.7 149.5,360.7 149.9,360.9 150.3,360.8 150.7,360.9 151.1,361 151.5,360.6 151.9,360.7 152.3,360.2 152.7,359.7 153.1,360.2 153.5,360.2 153.9,360.1 154.3,360.1 154.7,360 155.1,360.7 155.5,361 155.9,360.4 156.3,360.6 156.7,360.5 157.1,360.4 157.5,360.6 157.9,360.7 158.3,360.3 158.7,360.2 159.1,360.5 159.5,360.1 159.9,360.3 160.3,360.3 160.7,360.5 161.1,360.8 161.5,360.6 161.9,360.5 162.3,360.5 162.7,359 163.1,354.2 163.5,351.1 163.9,349 164.3,346.9 164.7,345.9 165.1,344.4 165.5,344.4 165.9,346.1 166.3,343.3 166.7,340.2 167.1,339.6 167.5,339.6 167.9,341.6 168.3,340.1 168.7,337.7 169.1,336.6 169.5,335 169.9,333.3 170.3,334.3 170.7,334.9 171.1,336 171.5,337.8 171.9,334.5 172.3,331.7 172.7,330.8 173.1,332.1 173.5,332.2 173.9,330.1 174.3,330.6 174.7,330.7 175.1,328.6 175.5,328.1 175.9,329.3 176.3,328.7 176.7,326.9 177.1,324.7 177.5,322.9 177.9,321.3 178.3,323.4 178.7,327.2 179.1,336 179.5,345 179.9,350.9 180.3,356.8 180.7,357.3 181.1,358.1 181.5,358.3 181.9,358.4 182.3,358.9 182.7,359.8 183.1,360.1 183.5,360.2 183.9,360.6 184.3,360.2 184.7,360 185.1,360.8 185.5,360.6 185.9,359.7 186.3,359.8 186.7,360.2 187.1,360.3 187.5,360.2 187.9,360.1 188.3,359.8 188.7,360 189.1,360.8 189.5,360.9 189.9,360.3 190.3,360 190.7,359.7 191.1,359.7 191.5,360.3 191.9,360.1 192.3,360.2 192.7,360.4 193.1,360.5 193.5,360.5 193.9,360.4 194.3,359.9 194.7,359.6 195.1,360 195.5,360.3 195.9,360.4 196.3,360.6 196.7,360.4 197.1,360.1 197.5,360.3 197.9,360.3 198.3,360.4 198.7,360.3 199.1,360.5 199.5,360.5 199.9,360.5 200.3,360.5 200.7,360.6 201.1,360.3 201.5,360.1 201.9,360.3 202.3,360.3 202.7,360.6 203.1,360.3 203.5,359.8 203.9,359.8 204.3,360.1 204.7,360 205.1,359.9 205.5,360 205.9,359.8 206.3,360 206.7,360.3 207.1,360.2 207.5,360.1 207.9,360.2 208.3,360.2 208.7,359.7 209.1,359.6 209.5,360.2 209.9,360.6 210.3,361 210.7,360.9 211.1,360.5 211.5,360.1 211.9,360.1 212.3,360.5" fill="none" stroke="#000" stroke-width="1.2" stroke-linejoin="round"/>
<polyline points="357.5,360.4 357.9,360.2 358.3,360.2 358.7,360.4 359.1,359.9 359.5,359.8 359.9,360.3 360.3,360.5 360.7,360.1 361.1,360.2 361.5,360.4 361.9,360.4 362.3,360.5 362.7,360.1 363.1,360.1 363.5,360.2 363.9,360.5 364.3,360.8 364.7,360.5 365.1,360.1 365.5,360.1 365.9,360.3 366.3,360.1 366.7,360.5 367.1,360.9 367.5,360.7 367.9,360.4 368.3,360.4 368.7,360.4 369.1,359.9 369.5,360.3 369.9,360.4 370.3,359.8 370.7,359.6 371.1,360.2 371.5,360.9 371.9,360.9 372.3,360.4 372.7,360.4 373.1,360.2 373.5,360.2 373.9,360.1 374.3,360 374.7,360.3 375.1,360.4 375.5,360.4 375.9,360.5 376.3,360.5 376.7,360.4 377.1,360.6 377.5,360.1 377.9,359.9 378.3,360.3 378.7,360.1 379.1,360.2 379.5,360 379.9,360.1 380.3,360.5 380.7,360.5 381.1,360.9 381.5,360.9 381.9,357.4 382.3,353.2 382.7,350.6 383.1,348.4 383.5,346.4 383.9,345.6 384.3,344.4 384.7,345.6 385.1,345.7 385.5,343.8 385.9,343.5 386.3,342.9 386.7,342.1 387.1,341.8 387.5,340.2 387.9,340.1 388.3,341 388.7,340 389.1,338.2 389.5,337.7 389.9,336.3 390.3,336 390.7,336.8 391.1,338.4 391.5,338.6 391.9,335.9 392.3,336.2 392.7,336.4 393.1,335 393.5,334.5 393.9,333.8 394.3,332.9 394.7,333 395.1,333.2 395.5,331.8 395.9,330.9 396.3,330 396.7,329.7 397.1,330.3 397.5,329.9 397.9,329.2 398.3,328 398.7,328.6 399.1,329.1 399.5,328.5 399.9,329 400.3,329.7 400.7,330.6 401.1,332.7 401.5,333.4 401.9,334.2 402.3,336.2 402.7,339.7 403.1,347.1 403.5,354.8 403.9,356.3 404.3,357.9 404.7,359 405.1,359.3 405.5,360 405.9,360.1 406.3,359.8 406.7,360.2 407.1,360.6 407.5,360.6 407.9,360.7 408.3,360.4 408.7,359.7 409.1,360.1 409.5,360.4 409.9,360 410.3,359.8 410.7,360.3 411.1,360.6 411.5,360.4 411.9,360.5 412.3,360.3 412.7,359.9 413.1,359.9 413.5,359.9 413.9,360 414.3,360 414.7,360.1 415.1,360.2 415.5,360.2 415.9,360.4 416.3,360.7 416.7,360.9 417.1,360.7 417.5,360.4 417.9,360.2 418.3,360.4 418.7,360.8 419.1,360.5 419.5,360.3 419.9,360.4 420.3,360.2 420.7,360.3 421.1,360.3 421.5,360.4 421.9,360.2 422.3,359.8 422.7,360.1 423.1,360.1 423.5,360.2 423.9,360.1 424.3,360 424.7,360 425.1,360 425.5,360.4 425.9,360.9 426.3,361 426.7,360.9 427.1,360.7 427.5,360.8 427.9,360.7 428.3,360.2 428.7,360 429.1,360.1 429.5,360.6 429.9,360.4 430.3,360.1 430.7,360.1 431.1,360.1 431.5,360.1 431.9,359.9 432.3,360.3 432.7,360.2 433.1,359.7 433.5,360.2 433.9,360.6 434.3,360.5 434.7,360.2 435.1,360.3 435.5,360.3 435.9,360.4 436.3,360.4 436.7,360 437.1,360 437.5,360.2 437.9,360.6 438.3,360.9 438.7,360.6 439.1,359.9 439.5,359.7 439.9,360.5 440.3,360.7 440.7,360.3 441.1,360.8 441.5,360.6 441.9,360.1 442.3,360.1 442.7,359.9 443.1,360.2 443.5,360.7 443.9,360.1 444.3,360.1 444.7,360.5 445.1,360.3 445.5,360.4 445.9,360.1 446.3,360 446.7,360 447.1,360.5 447.5,361.2 447.9,360.8 448.3,360.1 448.7,360.3 449.1,360.5 449.5,360.6 449.9,361.1 450.3,361.1 450.7,360.6 451.1,360 451.5,359.9 451.9,360.1 452.3,360.1 452.7,360.4 453.1,360.7 453.5,360.4 453.9,360.2 454.3,360.4 454.7,360.7 455.1,360.2 455.5,359.9 455.9,360.3 456.3,360.1 456.7,360.1 457.1,360.3 457.5,360.7 457.9,360.7 458.3,360.2 458.7,359.9 459.1,360.2 459.5,360.3 459.9,360.1 460.3,360.4 460.7,360.5 461.1,360.2 461.5,360.2 461.9,360.5 462.3,360.5 462.7,360.3 463.1,360.4 463.5,360.3 463.9,360.3 464.3,360.3 464.7,360.5 465.1,360.6 465.5,360 465.9,359.9 466.3,360.5 466.7,360.5 467.1,360.2 467.5,360.4 467.9,360.3 468.3,360.1 468.7,360.4 469.1,360.6 469.5,360.3 469.9,359.8 470.3,360.4 470.7,360.5 471.1,360.1 471.5,358.2 471.9,354.6 472.3,351.5 472.7,350.5 473.1,349.7 473.5,348.4 473.9,349.2 474.3,348.4 474.7,346.8 475.1,346.2 475.5,344.6 475.9,344.7 476.3,345.1 476.7,345.1 477.1,344.9 477.5,342.8 477.9,341.1 478.3,342 478.7,341.7 479.1,339.8 479.5,340.4 479.9,341.5 480.3,341.5 480.7,340.3 481.1,339 481.5,339.2 481.9,339.6 482.3,337.5 482.7,335.7 483.1,335.6 483.5,335.6 483.9,334 484.3,334.2 484.7,334 485.1,331.5 485.5,331.9 485.9,330.8 486.3,328.7 486.7,327 487.1,326.2 487.5,326.2 487.9,326.5 488.3,327.9 488.7,328 489.1,329.5 489.5,331.3 489.9,330.1 490.3,331.4 490.7,332.9 491.1,333.8 491.5,337.9 491.9,344.9 492.3,352.3 492.7,355.2 493.1,357.2 493.5,358.1 493.9,358.7 494.3,359.4 494.7,359.8 495.1,360 495.5,360.7 495.9,360.7 496.3,360.4 496.7,360.1 497.1,360.2 497.5,360.3 497.9,360.2 498.3,360.1 498.7,360.4 499.1,360.3 499.5,360.1 499.9,360.3 500.3,360.5 500.7,360.2 501.1,359.8 501.5,360.4 501.9,360.6 502.3,360.1 502.7,360.1 503.1,360.7 503.5,360.5 503.9,360 504.3,360 504.7,360.6 505.1,360.5 505.5,360.3 505.9,360.6 506.3,360.6 506.7,360.4 507.1,360.4 507.5,360.5 507.9,360.5 508.3,360.6 508.7,360.4 509.1,360 509.5,360.1 509.9,360.4 510.3,359.8 510.7,359.9 511.1,360.4 511.5,360.3 511.9,359.8 512.3,359.6 512.7,359.9 513.1,360 513.5,359.7 513.9,359.9 514.3,360.5 514.7,360.5 515.1,360.4 515.5,360.3 515.9,360.5 516.3,360.6 516.7,360.3 517.1,360.3 517.5,360.5" fill="none" stroke="#000" stroke-width="1.2" stroke-linejoin="round"/>
<polyline points="52.3,392.9 52.5,390.5 52.7,393.2 52.9,388.8 53.1,393.2 53.3,390 53.5,392.7 53.7,389.9 53.9,393.8 54.1,389.5 54.3,393.6 54.5,389.9 54.7,393.8 54.9,389.5 55.1,392.8 55.3,389.8 55.5,392.7 55.7,390.4 55.9,393 56.1,390.4 56.3,393.6 56.5,389.5 56.7,393.1 56.9,390.2 57.1,392.8 57.3,390.5 57.5,393.5 57.7,389.8 57.9,392.7 58.1,390 58.3,393.1 58.5,389.5 58.7,393.5 58.9,389.8 59.1,393.3 59.3,389.4 59.5,393.9 59.7,390.1 59.9,392.9 60.1,389.6 60.3,393.2 60.5,390.1 60.7,392.7 60.9,390.2 61.1,392.7 61.3,390.2 61.5,393.6 61.7,389.4 61.9,393.6 62.1,389.9 62.3,393.4 62.5,390.1 62.7,392.8 62.9,390 63.1,393.6 63.3,390.5 63.5,392.7 63.7,389.6 63.9,393 64.1,389.7 64.3,393.6 64.5,389.4 64.7,393.1 64.9,390.1 65.1,393.7 65.3,389.6 65.5,393.5 65.7,388.6 65.9,393.4 66.1,389.4 66.3,393.1 66.5,389.6 66.7,393.8 66.9,389.5 67.1,394.2 67.3,390.1 67.5,393.2 67.7,390.5 67.9,392.7 68.1,389.6 68.3,393.2 68.5,389.8 68.7,393.6 68.9,390 69.1,393.1 69.3,390.4 69.5,393.6 69.7,389.5 69.9,394.4 70.1,389.5 70.3,393.5 70.5,389.7 70.7,392.9 70.9,389.6 71.1,393.1 71.3,390 71.5,393 71.7,389.8 71.9,393.5 72.1,389.8 72.3,393 72.5,390.3 72.7,393.7 72.9,390.2 73.1,393.2 73.3,390.4 73.5,393 73.7,390.5 73.9,393.1 74.1,389.7 74.3,393.9 74.5,389.8 74.7,393 74.9,389.7 75.1,393.4 75.3,389.5 75.5,393.3 75.7,389.4 75.9,393.2 76.1,390.2 76.3,393.3 76.5,389.4 76.7,393.6 76.9,389.9 77.1,393.3 77.3,389.7 77.5,393.2 77.7,389.9 77.9,393.9 78.1,389.4 78.3,393.7 78.5,390.4 78.7,393.3 78.9,390.1 79.1,393.8 79.3,390.2 79.5,393.8 79.7,390.3 79.9,393.2 80.1,388.9 80.3,394.5 80.5,387.1 80.7,395.8 80.9,387.8 81.1,398 81.3,385.3 81.5,398.5 81.7,386.6 81.9,396.6 82.1,382.4 82.3,400.9 82.5,382.2 82.7,397.8 82.9,387 83.1,398.8 83.3,383.4 83.5,399.4 83.7,387 83.9,397.2 84.1,383.5 84.3,396.2 84.5,382.7 84.7,401.2 84.9,385.9 85.1,396.3 85.3,382 85.5,400.1 85.7,384.8 85.9,398.6 86.1,382.3 86.3,397.9 86.5,386.9 86.7,399.3 86.9,385.5 87.1,399.7 87.3,382 87.5,398 87.7,385.8 87.9,396.3 88.1,382.6 88.3,396.5 88.5,381.9 88.7,399.9 88.9,382.1 89.1,400.5 89.3,386.1 89.5,397.1 89.7,381.8 89.9,397.7 90.1,382.7 90.3,397.2 90.5,382.2 90.7,400.4 90.9,385.2 91.1,401.2 91.3,381.1 91.5,398.8 91.7,384.4 91.9,397.1 92.1,383.3 92.3,397.6 92.5,382 92.7,402.1 92.9,377.3 93.1,401.8 93.3,381.5 93.5,403.9 93.7,382 93.9,403.6 94.1,383.2 94.3,398.5 94.5,384.2 94.7,403.1 94.9,384.1 95.1,403 95.3,379.3 95.5,401.3 95.7,384.7 95.9,401.9 96.1,383 96.3,403.9 96.5,384.2 96.7,399.1 96.9,382.8 97.1,399.5 97.3,386.3 97.5,397.1 97.7,385.9 97.9,395.6 98.1,389.3 98.3,394.5 98.5,389 98.7,394 98.9,390.2 99.1,393.8 99.3,389.4 99.5,393.8 99.7,389.4 99.9,393.6 100.1,390 100.3,393.8 100.5,390.2 100.7,393.4 100.9,389.8 101.1,393.2 101.3,390.2 101.5,393.7 101.7,389.8 101.9,393 102.1,390.1 102.3,393.1 102.5,390.2 102.7,393.7 102.9,389.9 103.1,392.7 103.3,389.6 103.5,393.3 103.7,389.6 103.9,393.3 104.1,390.2 104.3,393.7 104.5,390.3 104.7,393 104.9,390 105.1,393.7 105.3,389.9 105.5,393.1 105.7,389.9 105.9,394.3 106.1,390.4 106.3,393.6 106.5,389.1 106.7,393.3 106.9,390.1 107.1,393.7 107.3,389.4 107.5,393.9 107.7,390.3 107.9,392.9 108.1,389.7 108.3,393.6 108.5,389.5 108.7,393 108.9,390.3 109.1,392.7 109.3,390.1 109.5,393.3 109.7,389.5 109.9,392.7 110.1,390.5 110.3,393.5 110.5,389.7 110.7,392.8 110.9,390.4 111.1,392.7 111.3,389.7 111.5,393 111.7,390.3 111.9,393.5 112.1,390.4 112.3,393.3 112.5,390.4 112.7,392.7 112.9,389.7 113.1,393.6 113.3,390 113.5,393.1 113.7,388.8 113.9,392.7 114.1,390.2 114.3,393.8 114.5,389.4 114.7,392.7 114.9,390.6 115.1,393.6 115.3,390 115.5,393.6 115.7,389.8 115.9,393.2 116.1,389.7 116.3,393.4 116.5,390.5 116.7,393.2 116.9,389.4 117.1,393.6 117.3,389.7 117.5,393.4 117.7,389.5 117.9,393 118.1,390.1 118.3,393.4 118.5,389.5 118.7,393 118.9,390.4 119.1,393 119.3,390 119.5,392.8 119.7,389.8 119.9,393.8 120.1,390.1 120.3,393.8 120.5,389.3 120.7,393.3 120.9,389.3 121.1,393.5 121.3,389.9 121.5,393.6 121.7,390 121.9,393.5 122.1,390.3 122.3,392.7 122.5,389.8 122.7,393.3 122.9,390 123.1,392.8 123.3,389.4 123.5,392.8 123.7,389.3 123.9,393 124.1,390.2 124.3,393.8 124.5,389.3 124.7,393.5 124.9,389.4 125.1,392.9 125.3,389.5 125.5,393.4 125.7,389.6 125.9,394.2 126.1,390.4 126.3,393.6 126.5,389.8 126.7,392.8 126.9,390.3 127.1,393 127.3,390 127.5,392.9 127.7,390.2 127.9,393.3 128.1,390.4 128.3,393.6 128.5,390 128.7,393.1 128.9,389.8 129.1,392.8 129.3,389.4 129.5,392.8 129.7,389.9 129.9,393.9 130.1,390.4 130.3,393.5 130.5,389.3 130.7,393.9 130.9,390.1 131.1,393.4 131.3,389.4 131.5,393.4 131.7,389.5 131.9,394.4 132.1,390.5 132.3,393.1 132.5,389.4 132.7,393.2 132.9,390 133.1,393 133.3,390.4 133.5,393.5 133.7,390.1 133.9,393.8 134.1,390.5 134.3,393.7 134.5,390.4 134.7,393.7 134.9,390 135.1,393.6 135.3,390 135.5,392.8 135.7,389.4 135.9,393.4 136.1,390.3 136.3,393.4 136.5,390.3 136.7,393.1 136.9,389.8 137.1,393.4 137.3,390.4 137.5,392.9 137.7,390 137.9,393.3 138.1,389.5 138.3,394.2 138.5,389.5 138.7,393.1 138.9,390.3 139.1,393 139.3,390.5 139.5,393.8 139.7,389.8 139.9,393.7 140.1,390.3 140.3,393.5 140.5,389.6 140.7,393.5 140.9,389.3 141.1,393.4 141.3,389.3 141.5,393.3 141.7,390.6 141.9,392.6 142.1,389.9 142.3,393.1 142.5,390.4 142.7,393.1 142.9,389.8 143.1,393.3 143.3,390.1 143.5,393.6 143.7,390.5 143.9,393.8 144.1,389.7 144.3,393.2 144.5,389.7 144.7,393.8 144.9,389.7 145.1,393.5 145.3,389.7 145.5,393.8 145.7,389.4 145.9,393 146.1,390.5 146.3,393 146.5,390.1 146.7,392.9 146.9,390 147.1,393.8 147.3,390.3 147.5,393.1 147.7,389.5 147.9,392.8 148.1,390.1 148.3,393.3 148.5,389.6 148.7,393.7 148.9,390.2 149.1,393.8 149.3,390 149.5,392.8 149.7,390.4 149.9,393.2 150.1,389.5 150.3,392.7 150.5,390.3 150.7,393.6 150.9,389.5 151.1,392.9 151.3,390.5 151.5,393.5 151.7,389.6 151.9,392.7 152.1,389.9 152.3,392.8 152.5,389.8 152.7,392.8 152.9,389.9 153.1,393.3 153.3,389.4 153.5,392.7 153.7,389.9 153.9,392.9 154.1,389.5 154.3,392.9 154.5,390.2 154.7,393.2 154.9,389.5 155.1,393 155.3,390 155.5,393.2 155.7,389.9 155.9,393.2 156.1,389.5 156.3,392.9 156.5,389.9 156.7,392.8 156.9,388.5 157.1,393.9 157.3,389.3 157.5,393.5 157.7,390.3 157.9,393.8 158.1,390.2 158.3,393.4 158.5,389.6 158.7,392.8 158.9,390.3 159.1,393.2 159.3,389.4 159.5,393 159.7,390.2 159.9,393.1 160.1,389.3 160.3,393.2 160.5,390 160.7,393.6 160.9,390.3 161.1,393 161.3,389.4 161.5,393.8 161.7,390.3 161.9,393.1 162.1,389.8 162.3,393.3 162.5,390.3 162.7,393.2 162.9,389.6 163.1,392.8 163.3,390.1 163.5,393.6 163.7,389.7 163.9,393.5 164.1,388.3 164.3,396.3 164.5,387.6 164.7,397.8 164.9,383.5 165.1,397.3 165.3,382.2 165.5,399.9 165.7,386.6 165.9,398.7 166.1,385.3 166.3,398.5 166.5,383.3 166.7,397.7 166.9,384.1 167.1,397.2 167.3,384.9 167.5,400.7 167.7,383.3 167.9,397.9 168.1,385.8 168.3,399.2 168.5,384.7 168.7,401.3 168.9,385.6 169.1,400.9 169.3,385.9 169.5,400.3 169.7,382.5 169.9,397 170.1,384.8 170.3,399.9 170.5,384.9 170.7,396.6 170.9,383 171.1,398.7 171.3,386.1 171.5,396.3 171.7,384.3 171.9,397.7 172.1,382.7 172.3,396.9 172.5,387 172.7,401.1 172.9,384.8 173.1,400.9 173.3,383.7 173.5,401.4 173.7,381.3 173.9,397 174.1,384.9 174.3,397.8 174.5,380.4 174.7,401.3 174.9,380.2 175.1,403.6 175.3,380.7 175.5,403.2 175.7,379.3 175.9,401.7 176.1,379.9 176.3,404.4 176.5,382.4 176.7,399 176.9,381 177.1,397.8 177.3,383.5 177.5,400.1 177.7,380 177.9,397.6 178.1,383.4 178.3,399.6 178.5,381 178.7,403.7 178.9,382.3 179.1,408.8 179.3,378.7 179.5,401 179.7,383.5 179.9,398.9 180.1,379.4 180.3,406.3 180.5,383.8 180.7,400.3 180.9,384.6 181.1,395.8 181.3,385.2 181.5,397.5 181.7,387.7 181.9,394 182.1,388.9 182.3,393.6 182.5,389.9 182.7,393.2 182.9,388.5 183.1,393.7 183.3,389.6 183.5,393.8 183.7,390.4 183.9,392.9 184.1,390.5 184.3,392.6 184.5,388.9 184.7,393.2 184.9,389.8 185.1,393.7 185.3,390.2 185.5,392.9 185.7,389.5 185.9,392.7 186.1,388.4 186.3,393.1 186.5,390.5 186.7,392.9 186.9,390.5 187.1,393.7 187.3,390.5 187.5,392.7 187.7,389.8 187.9,392.9 188.1,390.1 188.3,393.6 188.5,390 188.7,393.6 188.9,390.2 189.1,392.8 189.3,390.5 189.5,393.7 189.7,390.4 189.9,392.7 190.1,390.4 190.3,393.3 190.5,389.7 190.7,393.3 190.9,389.8 191.1,393.3 191.3,389.6 191.5,393.4 191.7,390.3 191.9,393.1 192.1,389.3 192.3,393.2 192.5,388.9 192.7,392.9 192.9,389.7 193.1,393.5 193.3,390.4 193.5,393.8 193.7,389.4 193.9,393.1 194.1,389.7 194.3,393.8 194.5,389.5 194.7,393.3 194.9,390.5 195.1,393.2 195.3,389.8 195.5,393.7 195.7,390.3 195.9,394 196.1,389.8 196.3,393.5 196.5,390.5 196.7,393.7 196.9,390.4 197.1,393.7 197.3,389.5 197.5,393.4 197.7,389.9 197.9,393.1 198.1,390.1 198.3,393.8 198.5,389.7 198.7,393.2 198.9,390.1 199.1,393.9 199.3,389.4 199.5,393.8 199.7,389.4 199.9,393.1 200.1,389.5 200.3,393.5 200.5,389.4 200.7,393.6 200.9,389.5 201.1,393.6 201.3,389.8 201.5,393.5 201.7,390.5 201.9,393.1 202.1,389.5 202.3,392.8 202.5,390.1 202.7,393.4 202.9,390 203.1,392.7 203.3,390.3 203.5,393.5 203.7,389.9 203.9,393.4 204.1,389.4 204.3,393.8 204.5,390.2 204.7,393.8 204.9,389.9 205.1,393.4 205.3,390.4 205.5,393.1 205.7,389.4 205.9,393.8 206.1,390 206.3,392.9 206.5,389.4 206.7,393.3 206.9,389.4 207.1,392.7 207.3,389.8 207.5,393 207.7,390.6 207.9,393.3 208.1,389.4 208.3,393.2 208.5,389.7 208.7,393.5 208.9,389.5 209.1,393.6 209.3,390.2 209.5,393.6 209.7,389.6 209.9,393.2 210.1,389.6 210.3,392.7 210.5,389.7 210.7,393.1 210.9,389.4 211.1,393.5 211.3,389.7 211.5,393.7 211.7,389.7 211.9,393.2 212.1,389.4 212.3,393.6" fill="none" stroke="#000" stroke-width="0.8" stroke-linejoin="round"/>
<line x1="52.3" y1="391.6" x2="212.5" y2="391.6" stroke="#000" stroke-width="3.4"/>
<polyline points="357.5,393.4 357.7,390.8 357.9,393.5 358.1,391 358.3,393.3 358.5,390.6 358.7,394.2 358.9,391.5 359.1,394.3 359.3,391.4 359.5,393.6 359.7,390.9 359.9,394.2 360.1,390.7 360.3,393.3 360.5,391 360.7,393.8 360.9,391 361.1,394.1 361.3,391.4 361.5,394.1 361.7,391.5 361.9,393.4 362.1,391.4 362.3,393.6 362.5,390.8 362.7,394.4 362.9,390.7 363.1,394.1 363.3,390.8 363.5,394 363.7,391.2 363.9,394.1 364.1,389.7 364.3,393.9 364.5,390.6 364.7,394.1 364.9,390.7 365.1,393.7 365.3,391.1 365.5,393.7 365.7,390.5 365.9,393.4 366.1,390.5 366.3,393.7 366.5,391.1 366.7,393.7 366.9,391.2 367.1,393.7 367.3,391.5 367.5,393.3 367.7,390.8 367.9,393.9 368.1,391.1 368.3,393.6 368.5,391.3 368.7,393.3 368.9,391 369.1,393.7 369.3,391.5 369.5,393.9 369.7,390.7 369.9,393.4 370.1,391.3 370.3,393.9 370.5,391 370.7,393.8 370.9,391.1 371.1,394.2 371.3,390.9 371.5,393.9 371.7,391.1 371.9,393.8 372.1,390.6 372.3,393.5 372.5,390.6 372.7,393.3 372.9,390.9 373.1,393.3 373.3,390.8 373.5,393.9 373.7,390.6 373.9,394.2 374.1,391.1 374.3,394 374.5,390.6 374.7,393.9 374.9,391.2 375.1,393.6 375.3,391.2 375.5,394.3 375.7,391.1 375.9,394.2 376.1,390.6 376.3,394 376.5,391.5 376.7,394.2 376.9,389.8 377.1,393.3 377.3,390.9 377.5,393.7 377.7,390.9 377.9,393.9 378.1,390.9 378.3,393.6 378.5,391.5 378.7,394.1 378.9,390.6 379.1,393.5 379.3,391.3 379.5,393.6 379.7,391.1 379.9,394.2 380.1,391.3 380.3,393.7 380.5,390.9 380.7,393.8 380.9,391.2 381.1,394.1 381.3,391.4 381.5,393.8 381.7,390.3 381.9,395.8 382.1,389.8 382.3,395 382.5,386.8 382.7,395.7 382.9,386.9 383.1,397.1 383.3,385.8 383.5,399.7 383.7,388 383.9,398.3 384.1,386.6 384.3,397.4 384.5,388.2 384.7,396.6 384.9,385.1 385.1,397.1 385.3,386.5 385.5,401.7 385.7,383.5 385.9,405.6 386.1,387.2 386.3,398.4 386.5,386.7 386.7,399.4 386.9,385.1 387.1,399 387.3,383.9 387.5,400.4 387.7,380.6 387.9,397.7 388.1,383.7 388.3,400.5 388.5,386.2 388.7,399.1 388.9,382.2 389.1,399 389.3,385.8 389.5,400.6 389.7,384.1 389.9,397.2 390.1,384.3 390.3,401.7 390.5,382 390.7,401.3 390.9,386.9 391.1,398.7 391.3,385 391.5,401.1 391.7,386.9 391.9,403 392.1,385.5 392.3,403.2 392.5,381.6 392.7,401.8 392.9,384.4 393.1,398.3 393.3,381.8 393.5,402.8 393.7,382.2 393.9,397.6 394.1,382.9 394.3,397.9 394.5,382.1 394.7,404.6 394.9,381.6 395.1,399.8 395.3,383.8 395.5,401.9 395.7,386 395.9,401 396.1,382.7 396.3,400.3 396.5,385.1 396.7,404 396.9,382 397.1,403.1 397.3,383.6 397.5,401.9 397.7,381.8 397.9,398 398.1,387.4 398.3,401.6 398.5,384 398.7,397.8 398.9,384.6 399.1,400.1 399.3,386 399.5,398.6 399.7,386.6 399.9,400.5 400.1,386.8 400.3,401.3 400.5,382.7 400.7,401.1 400.9,386.1 401.1,399.3 401.3,385.2 401.5,398.4 401.7,382.7 401.9,399.4 402.1,387.4 402.3,396.7 402.5,386 402.7,398.3 402.9,389.4 403.1,397.1 403.3,389.6 403.5,397.8 403.7,389.6 403.9,397.9 404.1,390.5 404.3,395.6 404.5,390.5 404.7,393.7 404.9,390.9 405.1,393.3 405.3,390.8 405.5,393.6 405.7,391.2 405.9,393.4 406.1,391.4 406.3,393.8 406.5,391.4 406.7,393.8 406.9,390.6 407.1,393.7 407.3,391.4 407.5,394.1 407.7,390.9 407.9,394.6 408.1,391.4 408.3,393.6 408.5,391.1 408.7,393.7 408.9,391.3 409.1,393.5 409.3,391.4 409.5,394 409.7,391.4 409.9,393.6 410.1,391.1 410.3,393.3 410.5,391.4 410.7,393.9 410.9,390.7 411.1,393.5 411.3,390.8 411.5,393.6 411.7,390.9 411.9,393.9 412.1,391.3 412.3,393.7 412.5,390.1 412.7,393.9 412.9,390.9 413.1,393.3 413.3,390.6 413.5,394.2 413.7,391.4 413.9,393.7 414.1,390.6 414.3,393.7 414.5,391.1 414.7,394 414.9,391.4 415.1,394.2 415.3,391.5 415.5,393.3 415.7,391.2 415.9,393.5 416.1,391 416.3,393.4 416.5,390.9 416.7,393.8 416.9,390.7 417.1,393.5 417.3,391.4 417.5,393.8 417.7,391.3 417.9,393.7 418.1,391.4 418.3,393.9 418.5,390.7 418.7,394.2 418.9,390.6 419.1,393.9 419.3,391 419.5,394.1 419.7,390.8 419.9,393.4 420.1,390.5 420.3,393.4 420.5,391 420.7,393.8 420.9,391.1 421.1,394.3 421.3,390.6 421.5,393.4 421.7,390.9 421.9,393.8 422.1,390.7 422.3,394.2 422.5,390.7 422.7,393.3 422.9,390.6 423.1,393.4 423.3,391.2 423.5,393.6 423.7,390.7 423.9,393.5 424.1,391.4 424.3,394.3 424.5,391.5 424.7,393.6 424.9,391.1 425.1,393.5 425.3,391.3 425.5,393.4 425.7,390.7 425.9,393.5 426.1,390.9 426.3,393.6 426.5,391.5 426.7,394 426.9,390.7 427.1,393.7 427.3,391.5 427.5,394.3 427.7,390.9 427.9,393.9 428.1,390.6 428.3,394.2 428.5,390.6 428.7,393.7 428.9,391.3 429.1,393.8 429.3,390.8 429.5,393.8 429.7,391.2 429.9,393.9 430.1,390.9 430.3,394.3 430.5,390.9 430.7,393.7 430.9,390.6 431.1,394 431.3,391.1 431.5,393.7 431.7,390.5 431.9,394.3 432.1,391.5 432.3,394.1 432.5,391.2 432.7,393.7 432.9,391.2 433.1,393.9 433.3,391.4 433.5,393.5 433.7,391.3 433.9,393.8 434.1,391.4 434.3,393.6 434.5,390.7 434.7,393.8 434.9,390.5 435.1,394 435.3,391.4 435.5,393.7 435.7,391 435.9,394.2 436.1,390.6 436.3,393.3 436.5,390.6 436.7,394 436.9,390.9 437.1,394.2 437.3,391.1 437.5,394 437.7,390.7 437.9,394.1 438.1,391 438.3,394.5 438.5,390.6 438.7,393.5 438.9,390.8 439.1,394.1 439.3,391.4 439.5,394.1 439.7,391.4 439.9,393.3 440.1,391.1 440.3,394.2 440.5,390.6 440.7,393.9 440.9,390.7 441.1,393.5 441.3,390.9 441.5,393.4 441.7,391.3 441.9,394.2 442.1,390.6 442.3,394 442.5,391.1 442.7,394.2 442.9,391.4 443.1,393.8 443.3,390.9 443.5,393.3 443.7,390.7 443.9,393.5 444.1,390.6 444.3,394.2 444.5,390.7 444.7,394.9 444.9,391.2 445.1,393.4 445.3,391.2 445.5,393.7 445.7,390.6 445.9,394.1 446.1,390.7 446.3,394.7 446.5,390.7 446.7,393.7 446.9,390.6 447.1,394.3 447.3,391.1 447.5,394.2 447.7,390.8 447.9,393.9 448.1,391 448.3,394.2 448.5,391.2 448.7,393.4 448.9,391.5 449.1,394.1 449.3,391 449.5,393.5 449.7,391.2 449.9,393.9 450.1,390.8 450.3,393.3 450.5,390.9 450.7,393.9 450.9,390.7 451.1,393.5 451.3,391.4 451.5,394 451.7,391.1 451.9,393.4 452.1,391.1 452.3,394.1 452.5,391.2 452.7,393.5 452.9,390.7 453.1,393.3 453.3,391.4 453.5,393.3 453.7,390.7 453.9,393.6 454.1,391.3 454.3,393.3 454.5,390.8 454.7,393.4 454.9,390.6 455.1,393.4 455.3,390.7 455.5,393.8 455.7,391.5 455.9,393.5 456.1,391.2 456.3,393.6 456.5,391.2 456.7,393.9 456.9,391.4 457.1,393.3 457.3,390.3 457.5,393.6 457.7,390.8 457.9,393.5 458.1,390.8 458.3,394.2 458.5,390.6 458.7,393.5 458.9,390.8 459.1,393.4 459.3,391 459.5,394.2 459.7,391.2 459.9,394 460.1,391.1 460.3,394.1 460.5,390.8 460.7,393.7 460.9,390.6 461.1,393.4 461.3,390.6 461.5,393.7 461.7,391.5 461.9,394.2 462.1,390.9 462.3,393.6 462.5,390.6 462.7,393.5 462.9,391.2 463.1,393.8 463.3,390.2 463.5,393.7 463.7,390.7 463.9,393.8 464.1,390.9 464.3,393.8 464.5,390.6 464.7,393.3 464.9,390.8 465.1,393.9 465.3,391.3 465.5,394.3 465.7,390.6 465.9,393.8 466.1,390.5 466.3,393.7 466.5,391.1 466.7,394 466.9,391.3 467.1,393.7 467.3,390.8 467.5,393.5 467.7,391.1 467.9,393.4 468.1,390.6 468.3,393.9 468.5,391.4 468.7,393.8 468.9,391.5 469.1,393.7 469.3,390.7 469.5,393.9 469.7,391.1 469.9,393.9 470.1,390.6 470.3,393.5 470.5,390.6 470.7,394.5 470.9,390 471.1,394.3 471.3,389.4 471.5,397 471.7,388.7 471.9,397.4 472.1,387.8 472.3,395.8 472.5,387 472.7,397.3 472.9,383.8 473.1,400.4 473.3,383.9 473.5,402.5 473.7,383.4 473.9,401.1 474.1,385.9 474.3,399.6 474.5,386.7 474.7,398.8 474.9,387.9 475.1,400.4 475.3,383.6 475.5,399 475.7,386 475.9,401.3 476.1,386.6 476.3,400 476.5,386.8 476.7,398.5 476.9,384 477.1,399.7 477.3,385.6 477.5,398.3 477.7,387.5 477.9,397.1 478.1,379.2 478.3,400.8 478.5,383.5 478.7,400.5 478.9,387.5 479.1,400.9 479.3,386.9 479.5,402.6 479.7,377.7 479.9,407.3 480.1,385.2 480.3,400.9 480.5,387.2 480.7,402.3 480.9,383.4 481.1,399.1 481.3,384.7 481.5,398.3 481.7,383.9 481.9,403 482.1,386 482.3,397.6 482.5,387 482.7,400.2 482.9,382.3 483.1,397.6 483.3,384.6 483.5,399.8 483.7,383.4 483.9,401 484.1,383.9 484.3,400.4 484.5,384.3 484.7,397.9 484.9,384.6 485.1,399 485.3,385.1 485.5,400.9 485.7,382.6 485.9,401.6 486.1,385.9 486.3,402.7 486.5,384 486.7,398.4 486.9,383.4 487.1,402.9 487.3,383.7 487.5,402.7 487.7,382 487.9,402.8 488.1,386.8 488.3,399.7 488.5,386 488.7,403.7 488.9,383.1 489.1,403.2 489.3,383.8 489.5,399.2 489.7,383.9 489.9,400.4 490.1,383.6 490.3,401.3 490.5,382.3 490.7,397.3 490.9,386.2 491.1,400.6 491.3,386.4 491.5,398.7 491.7,385.9 491.9,397.2 492.1,386.9 492.3,395.5 492.5,388.2 492.7,395.4 492.9,388.5 493.1,395 493.3,389.3 493.5,395.5 493.7,389.5 493.9,394.1 494.1,389.9 494.3,393.4 494.5,391.1 494.7,393.6 494.9,390.5 495.1,393.8 495.3,390.8 495.5,393.6 495.7,391.4 495.9,393.3 496.1,391.4 496.3,393.6 496.5,390.8 496.7,393.7 496.9,390.8 497.1,393.9 497.3,391.2 497.5,393.8 497.7,390.4 497.9,393.9 498.1,391 498.3,394.2 498.5,390.9 498.7,394.1 498.9,390.6 499.1,393.3 499.3,390.9 499.5,393.7 499.7,390.6 499.9,393.9 500.1,390.6 500.3,393.4 500.5,391.5 500.7,394 500.9,390.6 501.1,393.7 501.3,391.3 501.5,393.3 501.7,390.8 501.9,393.8 502.1,391 502.3,393.8 502.5,391.3 502.7,394.2 502.9,391.1 503.1,393.7 503.3,390.7 503.5,394.1 503.7,390.5 503.9,393.5 504.1,390.8 504.3,393.8 504.5,390.8 504.7,395.1 504.9,390.8 505.1,393.4 505.3,391.1 505.5,394.2 505.7,391.3 505.9,394.1 506.1,390.9 506.3,393.5 506.5,390.8 506.7,393.3 506.9,391.3 507.1,393.5 507.3,391.3 507.5,393.5 507.7,391.3 507.9,394.3 508.1,391.2 508.3,393.6 508.5,390.8 508.7,393.7 508.9,391 509.1,394.1 509.3,391.4 509.5,393.8 509.7,391.5 509.9,393.5 510.1,391.3 510.3,393.6 510.5,391.2 510.7,393.6 510.9,390.5 511.1,393.9 511.3,391.2 511.5,393.8 511.7,390.6 511.9,394.1 512.1,391.1 512.3,393.4 512.5,391.5 512.7,393.3 512.9,389.8 513.1,393.4 513.3,390.8 513.5,394.3 513.7,390.9 513.9,394.1 514.1,390.7 514.3,394.2 514.5,390.8 514.7,393.7 514.9,391.2 515.1,393.8 515.3,391.2 515.5,394.2 515.7,391.5 515.9,393.5 516.1,391.1 516.3,393.8 516.5,390.9 516.7,394.1 516.9,391.2 517.1,394.1 517.3,391.2" fill="none" stroke="#000" stroke-width="0.8" stroke-linejoin="round"/>
<line x1="357.5" y1="392.4" x2="517.5" y2="392.4" stroke="#000" stroke-width="2.8"/>
<path d="M53.3 387.4V394.8M55.9 387.4V394.8M58.5 387.4V394.8M61.1 387.4V394.8M63.7 387.4V394.8M66.3 387.4V394.8M68.9 387.4V394.8M71.5 387.4V394.8M74.1 387.4V394.8M76.7 387.4V394.8M79.3 387.4V394.8M81.9 387.4V394.8M84.5 387.4V394.8M87.1 387.4V394.8M89.7 387.4V394.8M92.3 387.4V394.8M94.9 387.4V394.8M97.5 387.4V394.8M100.1 387.4V394.8M102.7 387.4V394.8M105.3 387.4V394.8M107.9 387.4V394.8M110.5 387.4V394.8M113.1 387.4V394.8M115.7 387.4V394.8M118.3 387.4V394.8M120.9 387.4V394.8M123.5 387.4V394.8M126.1 387.4V394.8M128.7 387.4V394.8M131.3 387.4V394.8M133.9 387.4V394.8M136.5 387.4V394.8M139.1 387.4V394.8M141.7 387.4V394.8M144.3 387.4V394.8M146.9 387.4V394.8M149.5 387.4V394.8M152.1 387.4V394.8M154.7 387.4V394.8M157.3 387.4V394.8M159.9 387.4V394.8M162.5 387.4V394.8M165.1 387.4V394.8M167.7 387.4V394.8M170.3 387.4V394.8M172.9 387.4V394.8M175.5 387.4V394.8M178.1 387.4V394.8M180.7 387.4V394.8M183.3 387.4V394.8M185.9 387.4V394.8M188.5 387.4V394.8M191.1 387.4V394.8M193.7 387.4V394.8M196.3 387.4V394.8M198.9 387.4V394.8M201.5 387.4V394.8M204.1 387.4V394.8M206.7 387.4V394.8M209.3 387.4V394.8M211.9 387.4V394.8" fill="none" stroke="#000" stroke-width="0.7"/>
<path d="M358.6 388.8V395.1M361.2 388.8V395.1M363.8 388.8V395.1M366.4 388.8V395.1M369 388.8V395.1M371.6 388.8V395.1M374.2 388.8V395.1M376.8 388.8V395.1M379.4 388.8V395.1M382 388.8V395.1M384.6 388.8V395.1M387.2 388.8V395.1M389.8 388.8V395.1M392.4 388.8V395.1M395 388.8V395.1M397.6 388.8V395.1M400.2 388.8V395.1M402.8 388.8V395.1M405.4 388.8V395.1M408 388.8V395.1M410.6 388.8V395.1M413.2 388.8V395.1M415.8 388.8V395.1M418.4 388.8V395.1M421 388.8V395.1M423.6 388.8V395.1M426.2 388.8V395.1M428.8 388.8V395.1M431.4 388.8V395.1M434 388.8V395.1M436.6 388.8V395.1M439.2 388.8V395.1M441.8 388.8V395.1M444.4 388.8V395.1M447 388.8V395.1M449.6 388.8V395.1M452.2 388.8V395.1M454.8 388.8V395.1M457.4 388.8V395.1M460 388.8V395.1M462.6 388.8V395.1M465.2 388.8V395.1M467.8 388.8V395.1M470.4 388.8V395.1M473 388.8V395.1M475.6 388.8V395.1M478.2 388.8V395.1M480.8 388.8V395.1M483.4 388.8V395.1M486 388.8V395.1M488.6 388.8V395.1M491.2 388.8V395.1M493.8 388.8V395.1M496.4 388.8V395.1M499 388.8V395.1M501.6 388.8V395.1M504.2 388.8V395.1M506.8 388.8V395.1M509.4 388.8V395.1M512 388.8V395.1M514.6 388.8V395.1M517.2 388.8V395.1" fill="none" stroke="#000" stroke-width="0.7"/>
<polyline points="52.7,452.9 53.1,453.4 53.5,453.2 53.9,453.4 54.3,453.6 54.7,453.4 55.1,454.3 55.5,454.3 55.9,454.2 56.3,454.4 56.7,455.6 57.1,454.9 57.5,454.8 57.9,455.4 58.3,457.6 58.7,457.3 59.1,457.1 59.5,455.5 59.9,455.8 60.3,454.7 60.7,454.8 61.1,455.7 61.5,456.6 61.9,457.1 62.3,456.6 62.7,456.5 63.1,456.5 63.5,457.1 63.9,456.5 64.3,456.5 64.7,456.1 65.1,456.7 65.5,457.2 65.9,457.8 66.3,458.8 66.7,458.8 67.1,459.6 67.5,458.7 67.9,458.5 68.3,457.8 68.7,458.2 69.1,458.6 69.5,459 69.9,459 70.3,458.7 70.7,457.4 71.1,456.5 71.5,457 71.9,457.4 72.3,456.9 72.7,455.9 73.1,455.7 73.5,457.4 73.9,457.8 74.3,459.3 74.7,458.9 75.1,459 75.5,457.4 75.9,457.7 76.3,457.6 76.7,457.6 77.1,457.6 77.5,458.1 77.9,459.4 78.3,459.2 78.7,457.5 79.1,457 79.5,454.8 79.9,456.3 80.3,455.8 80.7,455.9 81.1,453.7 81.5,451.1 81.9,451.1 82.3,450.8 82.7,450.3 83.1,448.7 83.5,448.9 83.9,448.3 84.3,447.8 84.7,446.1 85.1,445.6 85.5,445 85.9,443.7 86.3,442.8 86.7,441.7 87.1,441.7 87.5,442.6 87.9,442.6 88.3,442.7 88.7,441.1 89.1,440.3 89.5,439.8 89.9,439 90.3,438.2 90.7,437.2 91.1,437.1 91.5,437.3 91.9,436.8 92.3,435.2 92.7,434.8 93.1,434.7 93.5,435.8 93.9,434.3 94.3,434.8 94.7,432.8 95.1,432.7 95.5,429.9 95.9,429.1 96.3,427.9 96.7,425.2 97.1,421.3 97.5,417.3 97.9,419.5 98.3,425.6 98.7,428.8 99.1,430.2 99.5,431.4 99.9,434.3 100.3,435.1 100.7,434.3 101.1,433.9 101.5,434.6 101.9,435.9 102.3,436 102.7,435.8 103.1,436.4 103.5,437.6 103.9,438.1 104.3,437.6 104.7,437.3 105.1,438.2 105.5,439.5 105.9,441.4 106.3,441.7 106.7,441.8 107.1,441.8 107.5,442.5 107.9,442.8 108.3,442.3 108.7,440.6 109.1,438.8 109.5,438.7 109.9,439.3 110.3,440.6 110.7,439.9 111.1,439.6 111.5,440.7 111.9,441.8 112.3,442.3 112.7,442.2 113.1,442.5 113.5,443.8 113.9,445.3 114.3,445.5 114.7,444.8 115.1,444 115.5,443.9 115.9,445.3 116.3,445.6 116.7,446.3 117.1,445.7 117.5,445.8 117.9,445.3 118.3,446.1 118.7,445.9 119.1,445.9 119.5,446.3 119.9,446.6 120.3,448.7 120.7,449.2 121.1,450.2 121.5,449.5 121.9,449.1 122.3,447.2 122.7,447.4 123.1,446.5 123.5,447.9 123.9,446.5 124.3,446.6 124.7,445.9 125.1,445.8 125.5,446 125.9,446.8 126.3,447.6 126.7,447.6 127.1,447.6 127.5,448.6 127.9,450.5 128.3,451.7 128.7,451.9 129.1,450.6 129.5,450.4 129.9,449.9 130.3,450.1 130.7,450 131.1,450.5 131.5,451.2 131.9,450.3 132.3,449.9 132.7,449 133.1,450.2 133.5,451.2 133.9,453.4 134.3,453.9 134.7,454.1 135.1,454.8 135.5,453.8 135.9,452.9 136.3,451.1 136.7,451.8 137.1,452.5 137.5,452.7 137.9,452 138.3,453.3 138.7,453.3 139.1,453.3 139.5,452.3 139.9,452.1 140.3,452.6 140.7,453.6 141.1,453.8 141.5,454 141.9,453.2 142.3,453.5 142.7,454 143.1,454.5 143.5,454.5 143.9,453.5 144.3,453.3 144.7,454.2 145.1,454.9 145.5,455 145.9,453.5 146.3,454.2 146.7,453.4 147.1,453.7 147.5,452.8 147.9,453.6 148.3,454.3 148.7,453.9 149.1,453.5 149.5,452.9 149.9,452.2 150.3,452.2 150.7,452.2 151.1,453.7 151.5,454 151.9,455.5 152.3,456.3 152.7,457.6 153.1,458.3 153.5,458.6 153.9,458.1 154.3,458.2 154.7,457.3 155.1,457.4 155.5,457.1 155.9,457.6 156.3,458.1 156.7,457.3 157.1,457.1 157.5,457 157.9,457.9 158.3,459 158.7,458.6 159.1,458.2 159.5,457.7 159.9,458.1 160.3,457.4 160.7,457 161.1,457.9 161.5,458 161.9,458.7 162.3,457.3 162.7,458 163.1,456.5 163.5,455.6 163.9,452.9 164.3,452.5 164.7,452.3 165.1,451.7 165.5,451.4 165.9,449.5 166.3,449.5 166.7,446.5 167.1,446.9 167.5,445.8 167.9,446.1 168.3,443.5 168.7,442.2 169.1,441.9 169.5,441.2 169.9,441.5 170.3,440.2 170.7,440.3 171.1,439.1 171.5,439 171.9,439.6 172.3,439.5 172.7,438.9 173.1,436.4 173.5,435.7 173.9,435.3 174.3,433.6 174.7,431.2 175.1,430.6 175.5,430.8 175.9,430.7 176.3,428.3 176.7,427.2 177.1,427.2 177.5,429.1 177.9,432 178.3,433.7 178.7,435 179.1,435.2 179.5,433.3 179.9,430.6 180.3,427.5 180.7,423.9 181.1,418.3 181.5,422.2 181.9,426.9 182.3,431.6 182.7,433.5 183.1,434.4 183.5,435.7 183.9,435.8 184.3,435.8 184.7,436.1 185.1,436 185.5,436.7 185.9,435.7 186.3,436.1 186.7,435.5 187.1,435.3 187.5,436.2 187.9,436.3 188.3,437 188.7,435.6 189.1,436.4 189.5,436.5 189.9,436.5 190.3,437.5 190.7,437.8 191.1,439.8 191.5,439 191.9,440.2 192.3,441.4 192.7,442.5 193.1,441.9 193.5,441 193.9,441.1 194.3,441.5 194.7,441.5 195.1,441.6 195.5,442.4 195.9,442.8 196.3,443.1 196.7,443.7 197.1,444.1 197.5,446.3 197.9,445.8 198.3,445.4 198.7,443.5 199.1,443.9 199.5,444 199.9,443.9 200.3,445.1 200.7,445.2 201.1,447.1 201.5,446.4 201.9,446.5 202.3,446.4 202.7,446 203.1,445.8 203.5,444.9 203.9,446 204.3,447.6 204.7,448.8 205.1,449.9 205.5,450.5 205.9,451 206.3,450.3 206.7,449.5 207.1,449.1 207.5,450.1 207.9,450 208.3,451.1 208.7,450.7 209.1,451.6 209.5,451.4 209.9,452.8 210.3,453.4 210.7,454.2 211.1,454.1 211.5,454.4 211.9,455 212.3,455.5" fill="none" stroke="#000" stroke-width="1.4" stroke-linejoin="round"/>
<polyline points="357.7,455 358.1,453.6 358.5,454.5 358.9,456 359.3,456.7 359.7,457.2 360.1,456.2 360.5,458.6 360.9,457.9 361.3,458 361.7,457.1 362.1,456.6 362.5,456.7 362.9,455.9 363.3,455.8 363.7,456.1 364.1,456.6 364.5,456.8 364.9,457.5 365.3,456.2 365.7,455.6 366.1,455 366.5,455.1 366.9,456.4 367.3,456.3 367.7,456.9 368.1,456.1 368.5,455.3 368.9,454.7 369.3,455.1 369.7,456.3 370.1,457.4 370.5,457.1 370.9,455.3 371.3,454.7 371.7,454.3 372.1,455.6 372.5,457 372.9,457.1 373.3,456.8 373.7,456.8 374.1,457.1 374.5,456.7 374.9,456.7 375.3,456 375.7,456.1 376.1,454.6 376.5,455.1 376.9,456 377.3,456.4 377.7,456.4 378.1,455.4 378.5,456.9 378.9,457.6 379.3,457.7 379.7,456.9 380.1,457 380.5,457.9 380.9,457.4 381.3,456.3 381.7,456 382.1,456.1 382.5,455.1 382.9,453.9 383.3,451.9 383.7,449.9 384.1,448.5 384.5,448.6 384.9,449.1 385.3,449 385.7,448.5 386.1,447.3 386.5,444.9 386.9,442.9 387.3,441 387.7,440.8 388.1,440.4 388.5,441 388.9,441.4 389.3,439.8 389.7,439.5 390.1,437.7 390.5,438.6 390.9,437.4 391.3,436.3 391.7,435.5 392.1,434.3 392.5,434.5 392.9,432.9 393.3,432.5 393.7,431.6 394.1,432.5 394.5,432.5 394.9,431.7 395.3,430.7 395.7,429.5 396.1,428.5 396.5,426.4 396.9,426 397.3,425.9 397.7,425.9 398.1,425.2 398.5,427.2 398.9,429.6 399.3,431.9 399.7,431.8 400.1,431.5 400.5,431.3 400.9,431.4 401.3,430.9 401.7,429.1 402.1,429.9 402.5,431.5 402.9,435.6 403.3,434.4 403.7,433.1 404.1,430.5 404.5,429.7 404.9,431.3 405.3,432.9 405.7,434.4 406.1,435.8 406.5,436.7 406.9,437.2 407.3,438.2 407.7,438.8 408.1,440 408.5,440.8 408.9,441.9 409.3,443.1 409.7,443.6 410.1,444 410.5,444.3 410.9,444.6 411.3,444.9 411.7,445.3 412.1,445 412.5,445.9 412.9,445.7 413.3,444.6 413.7,444.6 414.1,444.2 414.5,447 414.9,446.3 415.3,447 415.7,447.1 416.1,447.6 416.5,447.3 416.9,447 417.3,448.4 417.7,449.8 418.1,450.9 418.5,450.4 418.9,449.9 419.3,449.6 419.7,449.5 420.1,448.6 420.5,448.3 420.9,447.7 421.3,447.9 421.7,447.9 422.1,448.5 422.5,449.9 422.9,450.5 423.3,450.7 423.7,450.5 424.1,450.2 424.5,450.1 424.9,450.7 425.3,451 425.7,450.8 426.1,449.8 426.5,449.4 426.9,449.8 427.3,449.6 427.7,450.7 428.1,450.9 428.5,452.2 428.9,452.4 429.3,452.8 429.7,452 430.1,451 430.5,451.7 430.9,453.2 431.3,453.5 431.7,452.7 432.1,452.9 432.5,453.6 432.9,455.1 433.3,454.6 433.7,455 434.1,453.6 434.5,453.1 434.9,451.8 435.3,450.4 435.7,451.4 436.1,452.9 436.5,454.3 436.9,454.3 437.3,453 437.7,454.2 438.1,453.8 438.5,455.6 438.9,453.8 439.3,454.5 439.7,454.3 440.1,455.7 440.5,454.7 440.9,454.8 441.3,455.1 441.7,455.6 442.1,454.7 442.5,453.9 442.9,453.6 443.3,454.5 443.7,455.2 444.1,455.9 444.5,455.4 444.9,454 445.3,452.9 445.7,452.3 446.1,453.2 446.5,454.5 446.9,455.1 447.3,454.9 447.7,454.3 448.1,454.8 448.5,455.8 448.9,455.2 449.3,454.7 449.7,454.3 450.1,455.6 450.5,456.6 450.9,456.3 451.3,456.8 451.7,455.9 452.1,455.8 452.5,454.3 452.9,454 453.3,454.1 453.7,454.3 454.1,455 454.5,455.1 454.9,454.6 455.3,453.7 455.7,454.1 456.1,454.6 456.5,456.2 456.9,456.2 457.3,458.1 457.7,457.5 458.1,456.1 458.5,454.1 458.9,454.6 459.3,456.5 459.7,457.8 460.1,457.7 460.5,457.7 460.9,456.3 461.3,455.8 461.7,454.5 462.1,455.6 462.5,456.8 462.9,457.6 463.3,457.8 463.7,457.1 464.1,457 464.5,456.7 464.9,457.7 465.3,457.9 465.7,457.9 466.1,457.4 466.5,457.6 466.9,456.9 467.3,457.4 467.7,457.1 468.1,457.7 468.5,456.9 468.9,457.5 469.3,457.6 469.7,457 470.1,456.5 470.5,454.7 470.9,451.8 471.3,450.2 471.7,449.6 472.1,450.2 472.5,449.2 472.9,448.3 473.3,447.6 473.7,445.7 474.1,445.2 474.5,444.2 474.9,443.6 475.3,442.3 475.7,441.4 476.1,441.6 476.5,441.3 476.9,441.5 477.3,441 477.7,440.7 478.1,437.9 478.5,436.2 478.9,434.9 479.3,434.9 479.7,434.5 480.1,433.4 480.5,432.7 480.9,432 481.3,431.8 481.7,431.4 482.1,430.6 482.5,430.3 482.9,429.9 483.3,429.6 483.7,428.7 484.1,427.8 484.5,426.7 484.9,427.1 485.3,427.1 485.7,427.7 486.1,426 486.5,424.6 486.9,422.7 487.3,421.8 487.7,421.8 488.1,423.9 488.5,424.9 488.9,426.4 489.3,427.8 489.7,428.6 490.1,429.3 490.5,430.7 490.9,432 491.3,432.1 491.7,429.8 492.1,429.7 492.5,429.7 492.9,429.6 493.3,430.4 493.7,431.5 494.1,434.8 494.5,435.5 494.9,436.6 495.3,438.6 495.7,441 496.1,441.4 496.5,441.4 496.9,440.5 497.3,441.7 497.7,440.1 498.1,441.3 498.5,441.3 498.9,443.9 499.3,443 499.7,443 500.1,442 500.5,443.1 500.9,443.6 501.3,445.6 501.7,446 502.1,444.8 502.5,444.2 502.9,444.2 503.3,446.5 503.7,446.8 504.1,446.3 504.5,445.4 504.9,445.3 505.3,445 505.7,444.8 506.1,443.3 506.5,444.3 506.9,444.9 507.3,446.2 507.7,445.8 508.1,445.5 508.5,445.9 508.9,446.6 509.3,447.4 509.7,447 510.1,446.7 510.5,446.3 510.9,447.8 511.3,448.1 511.7,449 512.1,449.4 512.5,449.6 512.9,448.8 513.3,447.4 513.7,448.6 514.1,449.8 514.5,450.7 514.9,449.7 515.3,449.6 515.7,449.1 516.1,450.4 516.5,451 516.9,452.3 517.3,453.3" fill="none" stroke="#000" stroke-width="1.4" stroke-linejoin="round"/>
<polyline points="52.3,497.7 52.5,488.9 52.7,497.8 52.9,486.5 53.1,498.3 53.3,488.2 53.5,497.1 53.7,487.1 53.9,497.2 54.1,487.3 54.3,495.2 54.5,488.7 54.7,495.3 54.9,486.9 55.1,496.3 55.3,487.5 55.5,495.9 55.7,488.6 55.9,495.1 56.1,488.5 56.3,498.2 56.5,489 56.7,496.2 56.9,486.7 57.1,495.2 57.3,489.5 57.5,497.2 57.7,486.8 57.9,495.1 58.1,487.2 58.3,497.8 58.5,489.5 58.7,497.3 58.9,488 59.1,496.7 59.3,486.5 59.5,495.1 59.7,488.9 59.9,497.5 60.1,488.6 60.3,496 60.5,487.4 60.7,498.1 60.9,488.9 61.1,496.6 61.3,487.3 61.5,496.4 61.7,487.7 61.9,497.6 62.1,489.5 62.3,497.4 62.5,487.9 62.7,495.6 62.9,489.4 63.1,495.9 63.3,489.2 63.5,498.2 63.7,487.5 63.9,495.9 64.1,487.8 64.3,496.9 64.5,489.5 64.7,497.9 64.9,488.4 65.1,495.6 65.3,489.1 65.5,498.7 65.7,487.4 65.9,501 66.1,486.8 66.3,496.7 66.5,489.3 66.7,498.1 66.9,488.5 67.1,495.8 67.3,486.8 67.5,495.5 67.7,488.9 67.9,497.1 68.1,487.8 68.3,498.3 68.5,488.2 68.7,495.5 68.9,487.2 69.1,495.8 69.3,489.1 69.5,496.5 69.7,488.6 69.9,498.3 70.1,489.2 70.3,497.9 70.5,487.5 70.7,495.5 70.9,489.4 71.1,498.3 71.3,489.1 71.5,495.4 71.7,488.8 71.9,497.2 72.1,487.9 72.3,497.4 72.5,486.5 72.7,497.6 72.9,488.9 73.1,497.9 73.3,489 73.5,497.4 73.7,489.2 73.9,495.8 74.1,489.5 74.3,497.6 74.5,489.1 74.7,495.5 74.9,489 75.1,497.7 75.3,489.6 75.5,495.9 75.7,487.5 75.9,497.6 76.1,489 76.3,497.1 76.5,486.7 76.7,496.9 76.9,486.7 77.1,495.1 77.3,487 77.5,497.8 77.7,489.4 77.9,495.7 78.1,486.9 78.3,497 78.5,488.5 78.7,497 78.9,489.4 79.1,496.9 79.3,487.4 79.5,498.2 79.7,487.2 79.9,496.3 80.1,487.1 80.3,495.6 80.5,487.1 80.7,498.4 80.9,488.9 81.1,497.5 81.3,488.1 81.5,497.4 81.7,487.5 81.9,497.9 82.1,487.6 82.3,500.3 82.5,487.7 82.7,500.1 82.9,486.7 83.1,500.1 83.3,486 83.5,499.3 83.7,484.7 83.9,497.9 84.1,486.8 84.3,502.2 84.5,485.3 84.7,498.2 84.9,482.8 85.1,502.7 85.3,482.6 85.5,501.5 85.7,486.9 85.9,502.8 86.1,480.2 86.3,502.8 86.5,484 86.7,497.4 86.9,481.4 87.1,498.2 87.3,483.2 87.5,499.5 87.7,486.3 87.9,498.3 88.1,483.2 88.3,499.3 88.5,479.5 88.7,503.3 88.9,486 89.1,498.3 89.3,484.8 89.5,501.9 89.7,481.3 89.9,498.6 90.1,484.3 90.3,499.4 90.5,485.9 90.7,499.6 90.9,482.1 91.1,498.2 91.3,481.6 91.5,503 91.7,482.7 91.9,499.6 92.1,486 92.3,503.7 92.5,486.6 92.7,500.9 92.9,481.2 93.1,498.8 93.3,480.6 93.5,499.2 93.7,482.3 93.9,503.7 94.1,478.1 94.3,501.7 94.5,481.6 94.7,499.3 94.9,480.5 95.1,498.5 95.3,482.6 95.5,502.1 95.7,483.6 95.9,499.1 96.1,485.1 96.3,503 96.5,480.3 96.7,504.3 96.9,481.7 97.1,499.6 97.3,481.6 97.5,500 97.7,481.6 97.9,503.1 98.1,482.3 98.3,499.7 98.5,485.9 98.7,498.5 98.9,483.8 99.1,508.2 99.3,484.9 99.5,501.6 99.7,485.9 99.9,503.1 100.1,482.6 100.3,500.9 100.5,481.6 100.7,502.9 100.9,485.3 101.1,497.7 101.3,483.2 101.5,503 101.7,482 101.9,497.6 102.1,486.4 102.3,498.5 102.5,485.7 102.7,499.3 102.9,486.9 103.1,499.6 103.3,482 103.5,498.1 103.7,482.8 103.9,497.6 104.1,487.1 104.3,499.8 104.5,481.8 104.7,498.6 104.9,481.9 105.1,497.5 105.3,482.3 105.5,500.6 105.7,482.8 105.9,500 106.1,486.1 106.3,502.1 106.5,485.6 106.7,501.4 106.9,482.1 107.1,502.4 107.3,484.7 107.5,498.5 107.7,483.1 107.9,497.4 108.1,482.6 108.3,500.3 108.5,487.6 108.7,500 108.9,484.9 109.1,498.2 109.3,484.3 109.5,497 109.7,486.5 109.9,500 110.1,484.1 110.3,498.3 110.5,485.4 110.7,497.3 110.9,484.1 111.1,497.3 111.3,483.5 111.5,499.7 111.7,486.5 111.9,501.3 112.1,487.1 112.3,501.6 112.5,485.4 112.7,499.9 112.9,486.3 113.1,498.2 113.3,486.5 113.5,498.8 113.7,484.9 113.9,497 114.1,486 114.3,498.6 114.5,481.2 114.7,501.4 114.9,484 115.1,502 115.3,485.9 115.5,497.8 115.7,479.1 115.9,501 116.1,483.3 116.3,497.8 116.5,485.7 116.7,498.3 116.9,485.8 117.1,500.4 117.3,484.4 117.5,503.3 117.7,486.5 117.9,497.7 118.1,485.8 118.3,500.4 118.5,487.3 118.7,496.7 118.9,487.7 119.1,497.2 119.3,485.9 119.5,498.3 119.7,483.7 119.9,497.5 120.1,486.4 120.3,496.6 120.5,488 120.7,500.6 120.9,484.9 121.1,496.9 121.3,484.5 121.5,498.3 121.7,487.7 121.9,501.2 122.1,487.8 122.3,497 122.5,484.3 122.7,499.8 122.9,488.1 123.1,499.3 123.3,486.4 123.5,500.5 123.7,485.6 123.9,499.4 124.1,486.3 124.3,496.3 124.5,486.7 124.7,497.6 124.9,486 125.1,498.5 125.3,484.5 125.5,496.9 125.7,488.3 125.9,498.4 126.1,488.1 126.3,499.4 126.5,487.7 126.7,497.2 126.9,485.9 127.1,499.7 127.3,485.6 127.5,498.5 127.7,486.8 127.9,500.5 128.1,486 128.3,500.1 128.5,488.1 128.7,499.5 128.9,485.6 129.1,496.7 129.3,484.8 129.5,500.3 129.7,487.9 129.9,496.8 130.1,488.7 130.3,498 130.5,485.5 130.7,498.7 130.9,488.4 131.1,499.9 131.3,487.5 131.5,497.8 131.7,487.4 131.9,497.9 132.1,486.6 132.3,498.4 132.5,482.4 132.7,499.7 132.9,485.7 133.1,499.3 133.3,487.7 133.5,497 133.7,485.5 133.9,499.4 134.1,487.6 134.3,496.6 134.5,488.1 134.7,498.3 134.9,486.5 135.1,498.6 135.3,487.4 135.5,498.2 135.7,485.9 135.9,496.3 136.1,489.2 136.3,498.8 136.5,488.2 136.7,499.2 136.9,486.4 137.1,497.2 137.3,489.2 137.5,498.4 137.7,488 137.9,497.6 138.1,485.7 138.3,497.6 138.5,487.5 138.7,496.6 138.9,487.1 139.1,499 139.3,487.4 139.5,498.5 139.7,486.3 139.9,498.9 140.1,488.4 140.3,496 140.5,488.4 140.7,495.4 140.9,488.7 141.1,497.4 141.3,487.1 141.5,497.6 141.7,486.5 141.9,497.8 142.1,486.6 142.3,496.6 142.5,489.1 142.7,495.9 142.9,486.5 143.1,496.3 143.3,488.8 143.5,495.6 143.7,487.9 143.9,495.7 144.1,487.3 144.3,496.2 144.5,487.4 144.7,498 144.9,487.6 145.1,495.2 145.3,488.9 145.5,496.2 145.7,486.8 145.9,495.9 146.1,486.2 146.3,496.9 146.5,486.8 146.7,496.7 146.9,486.3 147.1,497.1 147.3,488.6 147.5,498 147.7,487.3 147.9,497.5 148.1,488.8 148.3,495.9 148.5,488.5 148.7,497 148.9,489.3 149.1,497.6 149.3,488.2 149.5,497.6 149.7,487.5 149.9,498.4 150.1,488.5 150.3,495.4 150.5,486.8 150.7,495.5 150.9,488.2 151.1,496.6 151.3,488.9 151.5,498.4 151.7,486.7 151.9,497.3 152.1,487.5 152.3,496.9 152.5,488.9 152.7,495.8 152.9,487.4 153.1,495.3 153.3,488 153.5,498 153.7,484.7 153.9,495.2 154.1,489 154.3,496.2 154.5,489.6 154.7,497 154.9,489.5 155.1,495.1 155.3,489.5 155.5,496.8 155.7,488.2 155.9,496.1 156.1,485.4 156.3,495.3 156.5,489.3 156.7,498.2 156.9,488.5 157.1,495.8 157.3,489 157.5,498.2 157.7,488.2 157.9,496.9 158.1,489 158.3,495.9 158.5,487.7 158.7,497.7 158.9,488 159.1,495.1 159.3,488.1 159.5,496.4 159.7,487.2 159.9,497.8 160.1,488.2 160.3,496.5 160.5,487.6 160.7,498.2 160.9,488.6 161.1,497.1 161.3,487.1 161.5,497.8 161.7,487.2 161.9,496.8 162.1,488.5 162.3,497.6 162.5,487.5 162.7,498.1 162.9,486.9 163.1,495.9 163.3,487.4 163.5,495.8 163.7,486 163.9,497 164.1,482.4 164.3,499.5 164.5,487 164.7,499.4 164.9,483.6 165.1,499.2 165.3,485.7 165.5,500.7 165.7,483.8 165.9,506.8 166.1,485.3 166.3,501 166.5,482.3 166.7,500.5 166.9,486.2 167.1,497.2 167.3,483.4 167.5,502.5 167.7,484 167.9,501.8 168.1,482.2 168.3,499.2 168.5,487.4 168.7,498.7 168.9,484.2 169.1,500.3 169.3,485.6 169.5,503.3 169.7,476.7 169.9,498.1 170.1,486.2 170.3,502 170.5,486.4 170.7,502.9 170.9,481.1 171.1,499.8 171.3,485.9 171.5,500.7 171.7,481.3 171.9,502.1 172.1,486.1 172.3,503.6 172.5,486.1 172.7,498.5 172.9,483.3 173.1,501.8 173.3,486.6 173.5,498.4 173.7,485.7 173.9,500.5 174.1,483.8 174.3,502.7 174.5,481.1 174.7,499.7 174.9,483.7 175.1,501 175.3,486.8 175.5,499.8 175.7,486.5 175.9,501.5 176.1,484.3 176.3,508.5 176.5,481.6 176.7,501.7 176.9,481.1 177.1,500.4 177.3,486.7 177.5,500.5 177.7,482.2 177.9,500.4 178.1,480.4 178.3,500.9 178.5,481.2 178.7,499.4 178.9,485 179.1,499.2 179.3,481.8 179.5,503.5 179.7,481 179.9,505.4 180.1,483.1 180.3,503 180.5,483.6 180.7,499.9 180.9,482 181.1,500 181.3,482 181.5,504.4 181.7,482.1 181.9,498.9 182.1,484.9 182.3,504.1 182.5,482 182.7,504.3 182.9,482.4 183.1,501 183.3,485.6 183.5,505 183.7,486.2 183.9,509 184.1,483.5 184.3,499.8 184.5,485.4 184.7,499.8 184.9,486 185.1,499.2 185.3,486.5 185.5,503.2 185.7,486.4 185.9,498.5 186.1,483.5 186.3,499.9 186.5,482.7 186.7,500.7 186.9,486.8 187.1,498.6 187.3,486.1 187.5,498.6 187.7,484.5 187.9,499.1 188.1,483.9 188.3,501.7 188.5,486 188.7,500.6 188.9,482.2 189.1,497.6 189.3,487.4 189.5,499.7 189.7,486 189.9,498.6 190.1,486.1 190.3,500.9 190.5,487.3 190.7,503.7 190.9,482.1 191.1,499.7 191.3,486.9 191.5,502.6 191.7,484.6 191.9,498.6 192.1,486.5 192.3,498.6 192.5,485.7 192.7,497.5 192.9,484.2 193.1,501.4 193.3,483.3 193.5,501.2 193.7,487.4 193.9,500.1 194.1,487.6 194.3,502 194.5,485.1 194.7,501.5 194.9,486.2 195.1,500.8 195.3,482.8 195.5,498.8 195.7,486.2 195.9,500.2 196.1,487.8 196.3,500.3 196.5,485.8 196.7,502.3 196.9,487.7 197.1,497 197.3,484.4 197.5,497.6 197.7,484.3 197.9,499.4 198.1,486.2 198.3,499.3 198.5,487.6 198.7,498.1 198.9,485.3 199.1,500.7 199.3,486.7 199.5,502.3 199.7,483.8 199.9,501.8 200.1,481.3 200.3,499.8 200.5,485.5 200.7,498.9 200.9,484.5 201.1,499.7 201.3,483.5 201.5,500.9 201.7,486 201.9,500.9 202.1,487.8 202.3,500.7 202.5,484.7 202.7,497.7 202.9,484.5 203.1,498.3 203.3,486.4 203.5,497.2 203.7,484 203.9,500.2 204.1,487.6 204.3,499.8 204.5,486 204.7,498.8 204.9,487.2 205.1,499.6 205.3,485.5 205.5,499.5 205.7,487.8 205.9,498.1 206.1,485.7 206.3,499.3 206.5,484 206.7,504.1 206.9,486.7 207.1,496.7 207.3,485.8 207.5,498.1 207.7,484.9 207.9,498.3 208.1,486 208.3,498.1 208.5,484.4 208.7,499.8 208.9,484.3 209.1,497.6 209.3,485.1 209.5,496.5 209.7,487.4 209.9,498.6 210.1,484.2 210.3,500.2 210.5,485.1 210.7,499.6 210.9,488.4 211.1,498.2 211.3,487.6 211.5,500.3 211.7,482.3 211.9,498.4 212.1,486.1 212.3,497.9" fill="none" stroke="#000" stroke-width="0.8" stroke-linejoin="round"/>
<line x1="52.3" y1="492.4" x2="212.5" y2="492.4" stroke="#000" stroke-width="9"/>
<polyline points="357.5,498.8 357.7,488.7 357.9,500.1 358.1,490 358.3,498.1 358.5,488 358.7,498.8 358.9,490.3 359.1,498.9 359.3,490.6 359.5,499.8 359.7,490.2 359.9,498.9 360.1,491.3 360.3,499.4 360.5,490.6 360.7,500.3 360.9,490.1 361.1,499.6 361.3,488.7 361.5,500.1 361.7,491 361.9,498.1 362.1,489.7 362.3,499.4 362.5,490.5 362.7,499.5 362.9,489.1 363.1,497.7 363.3,490.2 363.5,500.1 363.7,491.1 363.9,499.6 364.1,491.1 364.3,499.6 364.5,488.8 364.7,498.4 364.9,487.9 365.1,498.6 365.3,490.7 365.5,498.3 365.7,488.9 365.9,498.3 366.1,491.2 366.3,498.1 366.5,487.9 366.7,498 366.9,489.8 367.1,499.6 367.3,488.1 367.5,497.6 367.7,490.6 367.9,497.5 368.1,490.6 368.3,500.5 368.5,490.5 368.7,497.4 368.9,489.6 369.1,498.6 369.3,488.8 369.5,499.2 369.7,489.2 369.9,497.6 370.1,489.5 370.3,497.5 370.5,489.3 370.7,498.6 370.9,489.9 371.1,499.6 371.3,491.1 371.5,498 371.7,490.8 371.9,498.8 372.1,489.4 372.3,499.2 372.5,490.6 372.7,498.5 372.9,489.7 373.1,498.7 373.3,489.4 373.5,497.8 373.7,491.2 373.9,500.4 374.1,491.1 374.3,499.6 374.5,489.6 374.7,497.4 374.9,489.5 375.1,498.5 375.3,489.5 375.5,500.3 375.7,487.9 375.9,499.3 376.1,490.1 376.3,498.6 376.5,488.7 376.7,499.2 376.9,491 377.1,499.3 377.3,488 377.5,497.9 377.7,490 377.9,497.3 378.1,488.5 378.3,498 378.5,490.8 378.7,497.6 378.9,490.4 379.1,497.1 379.3,488.8 379.5,500 379.7,488.2 379.9,498.1 380.1,489.7 380.3,499.6 380.5,489.1 380.7,498 380.9,490 381.1,500.3 381.3,488.6 381.5,497.5 381.7,490.3 381.9,500.9 382.1,489.2 382.3,498.4 382.5,489.3 382.7,499.5 382.9,487.2 383.1,498.5 383.3,486.4 383.5,499.9 383.7,487.9 383.9,498.9 384.1,488.7 384.3,503.3 384.5,487.4 384.7,501.7 384.9,486.7 385.1,502.1 385.3,485 385.5,501.1 385.7,484.3 385.9,499.9 386.1,486.7 386.3,501.1 386.5,488 386.7,502.3 386.9,489 387.1,501.8 387.3,486.7 387.5,503.2 387.7,487.7 387.9,500.3 388.1,488.2 388.3,504.8 388.5,486.7 388.7,504.8 388.9,483.9 389.1,501.8 389.3,486.8 389.5,503.2 389.7,483.5 389.9,504.1 390.1,486.3 390.3,502.3 390.5,487.6 390.7,503.1 390.9,488.7 391.1,502.9 391.3,488.5 391.5,502.7 391.7,485.2 391.9,504.3 392.1,485.6 392.3,503.5 392.5,485.5 392.7,501.2 392.9,486.9 393.1,502.4 393.3,486.4 393.5,503.3 393.7,486.1 393.9,505.9 394.1,484.8 394.3,506.7 394.5,482.1 394.7,501.2 394.9,485.6 395.1,502.7 395.3,483.5 395.5,503.7 395.7,483.9 395.9,502.6 396.1,487.1 396.3,500.8 396.5,486.8 396.7,502.5 396.9,488.1 397.1,505.3 397.3,488.1 397.5,500 397.7,487.3 397.9,501.3 398.1,486.8 398.3,499.9 398.5,486 398.7,504.4 398.9,485.2 399.1,504.4 399.3,488 399.5,505.7 399.7,481.8 399.9,503.5 400.1,485.9 400.3,505.1 400.5,486.4 400.7,501.9 400.9,487.9 401.1,505.2 401.3,488.1 401.5,500.3 401.7,479.5 401.9,505.9 402.1,488.1 402.3,501.6 402.5,487.9 402.7,502.3 402.9,485 403.1,505.1 403.3,485.9 403.5,504.8 403.7,486.2 403.9,502.7 404.1,485.8 404.3,501.1 404.5,486.8 404.7,505.8 404.9,488.4 405.1,503.4 405.3,488.1 405.5,502.6 405.7,487.9 405.9,499.4 406.1,486 406.3,501.9 406.5,485.1 406.7,503.5 406.9,483.5 407.1,501.6 407.3,485.5 407.5,503.1 407.7,483.9 407.9,502.8 408.1,488.4 408.3,502.6 408.5,484.9 408.7,503.5 408.9,487 409.1,502.5 409.3,484.6 409.5,501.4 409.7,487.3 409.9,503.8 410.1,484.6 410.3,503.5 410.5,484.8 410.7,499.8 410.9,486.8 411.1,500.9 411.3,487.6 411.5,500 411.7,487.8 411.9,500.8 412.1,489.8 412.3,499.9 412.5,488.8 412.7,500 412.9,486.2 413.1,500.7 413.3,489.2 413.5,499.4 413.7,485.9 413.9,498.8 414.1,488.5 414.3,500.3 414.5,487.7 414.7,502.6 414.9,488.4 415.1,499.5 415.3,486.6 415.5,506.1 415.7,490.2 415.9,502.5 416.1,487.2 416.3,498.7 416.5,490 416.7,498.2 416.9,487.8 417.1,499.2 417.3,488.3 417.5,498.6 417.7,486.4 417.9,500.3 418.1,487 418.3,499.2 418.5,486.8 418.7,499.6 418.9,489 419.1,501 419.3,489 419.5,501.3 419.7,489.1 419.9,498 420.1,488.8 420.3,500.7 420.5,490.3 420.7,498.3 420.9,488.1 421.1,501.5 421.3,490.3 421.5,504.7 421.7,489.2 421.9,500.5 422.1,488.4 422.3,501.2 422.5,484.8 422.7,498.8 422.9,489.9 423.1,499.5 423.3,489.4 423.5,498.3 423.7,489.2 423.9,499.1 424.1,488.6 424.3,501 424.5,489.1 424.7,501 424.9,488 425.1,498.6 425.3,489.1 425.5,500.6 425.7,489.8 425.9,498 426.1,487.6 426.3,498.1 426.5,487.9 426.7,497.5 426.9,490.6 427.1,499.9 427.3,487.8 427.5,498.2 427.7,489.8 427.9,498.9 428.1,489.5 428.3,499.4 428.5,487.8 428.7,499.4 428.9,488 429.1,499.1 429.3,491.1 429.5,498.8 429.7,488.9 429.9,498.9 430.1,487.6 430.3,497.3 430.5,489.1 430.7,498.4 430.9,488.8 431.1,500.3 431.3,486.8 431.5,498.5 431.7,488.9 431.9,498 432.1,489.1 432.3,500.4 432.5,489.4 432.7,499.2 432.9,489.5 433.1,498.7 433.3,487.9 433.5,497.6 433.7,490.9 433.9,499.5 434.1,488.3 434.3,498.5 434.5,488.6 434.7,499.5 434.9,486.1 435.1,500.1 435.3,488.9 435.5,498.6 435.7,488 435.9,497.8 436.1,489.7 436.3,498.6 436.5,490.9 436.7,503.3 436.9,491.1 437.1,499.8 437.3,488.5 437.5,497.4 437.7,490.1 437.9,497.8 438.1,485.5 438.3,499.3 438.5,490.6 438.7,498.6 438.9,488.3 439.1,500.5 439.3,490.1 439.5,498.7 439.7,490.6 439.9,497.7 440.1,489.6 440.3,500.7 440.5,488 440.7,497.2 440.9,490.8 441.1,498 441.3,488.6 441.5,499.9 441.7,491.3 441.9,498.4 442.1,491.3 442.3,497.1 442.5,488.6 442.7,498 442.9,488.9 443.1,499.6 443.3,489.6 443.5,497.5 443.7,489.8 443.9,499.3 444.1,488.8 444.3,497.2 444.5,488.2 444.7,500.2 444.9,491 445.1,500.8 445.3,490.4 445.5,498.6 445.7,490.5 445.9,499.6 446.1,486.1 446.3,498.3 446.5,490.3 446.7,497.9 446.9,491.2 447.1,499 447.3,488.6 447.5,499.6 447.7,491.3 447.9,498.9 448.1,491.3 448.3,498.4 448.5,489.9 448.7,498.9 448.9,490.5 449.1,499.3 449.3,490.7 449.5,499.1 449.7,488.2 449.9,498 450.1,490.6 450.3,498.8 450.5,491.1 450.7,498.9 450.9,485.8 451.1,498.9 451.3,489 451.5,497.9 451.7,490 451.9,498.1 452.1,490.1 452.3,500.2 452.5,488.3 452.7,498.2 452.9,488.1 453.1,499 453.3,489 453.5,497.8 453.7,488.9 453.9,499.7 454.1,490.8 454.3,497.3 454.5,489.4 454.7,499.4 454.9,491.1 455.1,500.4 455.3,491.2 455.5,500.2 455.7,491.2 455.9,499.5 456.1,488.3 456.3,497.7 456.5,490.9 456.7,499 456.9,488.1 457.1,497.5 457.3,488.3 457.5,498.3 457.7,490.4 457.9,499.6 458.1,489.3 458.3,498 458.5,488.6 458.7,499.1 458.9,489.8 459.1,497.6 459.3,488.5 459.5,500.3 459.7,489.1 459.9,500.3 460.1,490.4 460.3,500.4 460.5,488.8 460.7,499.9 460.9,490.8 461.1,498.6 461.3,488.8 461.5,498.8 461.7,489.2 461.9,497.2 462.1,489.4 462.3,500.3 462.5,488.8 462.7,500.1 462.9,489.6 463.1,499.4 463.3,491.1 463.5,499.7 463.7,490.6 463.9,500.2 464.1,491.3 464.3,497.8 464.5,490.7 464.7,500.4 464.9,488.7 465.1,498.4 465.3,489.7 465.5,497.1 465.7,489.4 465.9,497.9 466.1,490.3 466.3,497.2 466.5,490.2 466.7,498.9 466.9,489.3 467.1,497.2 467.3,489.8 467.5,497.8 467.7,489.5 467.9,500.4 468.1,490.3 468.3,499.1 468.5,490.6 468.7,498.6 468.9,490.1 469.1,498.6 469.3,490.8 469.5,497.5 469.7,488.6 469.9,499 470.1,487.2 470.3,499.8 470.5,487 470.7,502.1 470.9,489.2 471.1,500.6 471.3,487.7 471.5,500 471.7,487.8 471.9,500.1 472.1,489.5 472.3,503.5 472.5,486.7 472.7,500.7 472.9,488.1 473.1,500.3 473.3,485.5 473.5,498.9 473.7,489.5 473.9,503.6 474.1,487.1 474.3,501 474.5,487.5 474.7,500.1 474.9,486.4 475.1,504.6 475.3,486.2 475.5,500.3 475.7,484.2 475.9,503 476.1,488.7 476.3,503.7 476.5,488.8 476.7,501.8 476.9,485.4 477.1,501.2 477.3,484.1 477.5,499.6 477.7,488 477.9,502.1 478.1,482.9 478.3,500.7 478.5,487.9 478.7,500.8 478.9,477.3 479.1,503.9 479.3,483.3 479.5,505.5 479.7,484.2 479.9,506.3 480.1,483 480.3,501.2 480.5,486.7 480.7,505.7 480.9,486.4 481.1,502 481.3,482.9 481.5,503 481.7,486.3 481.9,502.3 482.1,486.6 482.3,505.7 482.5,483.1 482.7,502.8 482.9,484.3 483.1,502.8 483.3,485.5 483.5,502.4 483.7,484.3 483.9,502.1 484.1,488.4 484.3,505.6 484.5,485.2 484.7,503.9 484.9,487.3 485.1,504.2 485.3,486.8 485.5,500.1 485.7,488.5 485.9,502.7 486.1,486.4 486.3,501.3 486.5,482.1 486.7,501.8 486.9,487.6 487.1,505 487.3,483.7 487.5,504.5 487.7,484 487.9,506.1 488.1,482.5 488.3,503.3 488.5,486.8 488.7,504 488.9,484.4 489.1,502.7 489.3,482.6 489.5,512.3 489.7,488.5 489.9,502.7 490.1,482.5 490.3,505 490.5,486.7 490.7,499.9 490.9,484.6 491.1,505.5 491.3,483.4 491.5,505.9 491.7,488.4 491.9,501.3 492.1,485.9 492.3,500.9 492.5,486.7 492.7,506.5 492.9,483.6 493.1,506.4 493.3,485.3 493.5,500.6 493.7,484 493.9,503.8 494.1,487.2 494.3,506.1 494.5,486 494.7,506.4 494.9,483.7 495.1,502.8 495.3,482.4 495.5,504.2 495.7,478.1 495.9,506.1 496.1,486.1 496.3,502.7 496.5,484.5 496.7,499.7 496.9,483.5 497.1,506 497.3,482.1 497.5,504.9 497.7,483.6 497.9,503.7 498.1,482.7 498.3,501.5 498.5,487.9 498.7,505.6 498.9,487.3 499.1,501 499.3,484.7 499.5,500.5 499.7,487.2 499.9,503.9 500.1,485.1 500.3,501.2 500.5,487.9 500.7,505.1 500.9,484.5 501.1,502.1 501.3,486.7 501.5,502.7 501.7,485 501.9,502.7 502.1,485.8 502.3,501.4 502.5,486.1 502.7,503.1 502.9,487.6 503.1,503.4 503.3,487.8 503.5,500.6 503.7,489.3 503.9,501 504.1,488.2 504.3,502.8 504.5,485.2 504.7,501.9 504.9,486.1 505.1,502.7 505.3,487.5 505.5,501.1 505.7,485.8 505.9,498.7 506.1,489.4 506.3,502.7 506.5,486.4 506.7,499.2 506.9,485.8 507.1,502.5 507.3,485.8 507.5,502.3 507.7,489.7 507.9,501.4 508.1,489.4 508.3,500.6 508.5,485.3 508.7,501.2 508.9,487.7 509.1,498.4 509.3,485.2 509.5,504.3 509.7,487.2 509.9,500.7 510.1,485.6 510.3,500.9 510.5,487.8 510.7,500.5 510.9,487 511.1,501 511.3,485.4 511.5,500.2 511.7,487.1 511.9,498.5 512.1,485.8 512.3,501.5 512.5,488.3 512.7,501 512.9,486.6 513.1,500 513.3,488.3 513.5,498.7 513.7,489.5 513.9,501.8 514.1,487.4 514.3,499.7 514.5,489.7 514.7,502.2 514.9,488.8 515.1,498.4 515.3,488.3 515.5,499.4 515.7,488.9 515.9,502.3 516.1,487.1 516.3,499.8 516.5,488.2 516.7,500.7 516.9,486.7 517.1,505.6 517.3,488.5" fill="none" stroke="#000" stroke-width="0.8" stroke-linejoin="round"/>
<line x1="357.5" y1="494.2" x2="517.5" y2="494.2" stroke="#000" stroke-width="9.4"/>
<path d="M186 520.6V517.2H203.3V520.6" fill="none" stroke="#333" stroke-width="1"/>
<text x="185.5" y="533" font-size="12.3" textLength="17.5" lengthAdjust="spacingAndGlyphs">1 s</text>
<path d="M486.3 520.6V517.2H503V520.6" fill="none" stroke="#333" stroke-width="1"/>
<text x="486" y="533" font-size="12.3" textLength="17.5" lengthAdjust="spacingAndGlyphs">1 s</text>
<text x="1.3" y="553.5" font-size="18.5">c</text>
<text x="43.7" y="566.7" font-size="12.7" textLength="55.8" lengthAdjust="spacingAndGlyphs">i. Control</text>
<text x="345.2" y="566.7" font-size="12.7" textLength="39.6" lengthAdjust="spacingAndGlyphs">ii. B+S</text>
<text x="32.5" y="626.2" font-size="12.4" transform="rotate(-90 32.5 626.2)">20 µV</text>
<path d="M47.3 587.3H51.2V632.3H47.3" fill="none" stroke="#222" stroke-width="1"/>
<text x="32.5" y="692.9" font-size="12.1" transform="rotate(-90 32.5 692.9)">2 µV</text>
<path d="M47.3 664.3H51.2V696.6H47.3" fill="none" stroke="#222" stroke-width="1"/>
<text x="334.8" y="626.2" font-size="12.4" transform="rotate(-90 334.8 626.2)">20 µV</text>
<path d="M352.3 587.3H356.2V632.3H352.3" fill="none" stroke="#222" stroke-width="1"/>
<text x="334.8" y="692.9" font-size="12.1" transform="rotate(-90 334.8 692.9)">2 µV</text>
<path d="M352.3 664.3H356.2V696.6H352.3" fill="none" stroke="#222" stroke-width="1"/>
<text x="12" y="624.1" font-size="12" transform="rotate(-90 12 624.1)"><tspan font-family="'Liberation Serif', serif" font-weight="normal" stroke-width="0.15" dy="-2.0">∫</tspan><tspan dy="2.0" dx="0.4">PNA</tspan></text>
<text x="12" y="694.6" font-size="12" transform="rotate(-90 12 694.6)"><tspan font-family="'Liberation Serif', serif" font-weight="normal" stroke-width="0.15" dy="-2.0">∫</tspan><tspan dy="2.0" dx="0.4">VNA</tspan></text>
<polyline points="54.8,634.2 55.2,634.4 55.6,634.2 56,634.1 56.4,634 56.8,633.8 57.2,634.1 57.6,634.4 58,634.4 58.4,634.1 58.8,634.4 59.2,634.8 59.6,634.4 60,634.2 60.4,634.3 60.8,634.1 61.2,634.3 61.6,634 62,633.9 62.4,634 62.8,633.8 63.2,633.9 63.6,633.7 64,633.5 64.4,633.9 64.8,634.4 65.2,634.5 65.6,634.3 66,634.2 66.4,634.7 66.8,634.8 67.2,634.2 67.6,633.5 68,633.9 68.4,634.5 68.8,634.5 69.2,634.4 69.6,634.5 70,634.3 70.4,634.3 70.8,634.3 71.2,634.2 71.6,634.5 72,634.8 72.4,634.3 72.8,634 73.2,633.9 73.6,634.1 74,634 74.4,633.8 74.8,634.3 75.2,634.5 75.6,634.4 76,634.1 76.4,634.1 76.8,634.3 77.2,634.5 77.6,634.4 78,634.5 78.4,634.6 78.8,634.4 79.2,634.3 79.6,634 80,634 80.4,634.3 80.8,634.3 81.2,634.1 81.6,634.4 82,634.6 82.4,634.3 82.8,634.2 83.2,634 83.6,633.6 84,634 84.4,634.9 84.8,635.2 85.2,635.2 85.6,634.9 86,634.2 86.4,634.3 86.8,631.7 87.2,625.8 87.6,621.9 88,619.1 88.4,615.6 88.8,614.5 89.2,613.6 89.6,612.2 90,610.4 90.4,609.3 90.8,608.5 91.2,607.5 91.6,608.5 92,608 92.4,606.3 92.8,605 93.2,605.5 93.6,604 94,601.2 94.4,602 94.8,601.3 95.2,599.5 95.6,599.4 96,599.5 96.4,598.8 96.8,597.1 97.2,596.3 97.6,595.3 98,593.4 98.4,592.2 98.8,591.7 99.2,590.8 99.6,588.8 100,587.3 100.4,585.4 100.8,585.9 101.2,589 101.6,592 102,598.7 102.4,605.3 102.8,612.1 103.2,617.7 103.6,623.4 104,626.6 104.4,628.4 104.8,630.2 105.2,631.2 105.6,632 106,632.7 106.4,633.2 106.8,633.2 107.2,633.3 107.6,633.9 108,634.4 108.4,634.2 108.8,634.5 109.2,634.6 109.6,634.2 110,634.2 110.4,634.1 110.8,634 111.2,634 111.6,634.1 112,634.5 112.4,634.3 112.8,634.4 113.2,634.3 113.6,634.2 114,634.3 114.4,633.9 114.8,634.1 115.2,634.7 115.6,635.2 116,634.9 116.4,634.3 116.8,634.7 117.2,634.3 117.6,634.3 118,634.2 118.4,633.6 118.8,633.9 119.2,634.1 119.6,634.3 120,634.2 120.4,633.9 120.8,634.1 121.2,634.2 121.6,634.4 122,634.5 122.4,634.5 122.8,634.3 123.2,634.3 123.6,633.9 124,633.5 124.4,633.9 124.8,634 125.2,633.7 125.6,634.1 126,634.2 126.4,634 126.8,633.8 127.2,634 127.6,634.5 128,634.2 128.4,633.8 128.8,634.4 129.2,634.5 129.6,634.1 130,634.1 130.4,634.3 130.8,634.5 131.2,634.1 131.6,633.7 132,634.1 132.4,634.4 132.8,634.3 133.2,634.3 133.6,634.5 134,634.5 134.4,634.8 134.8,634.6 135.2,634 135.6,633.8 136,634 136.4,634.4 136.8,634.2 137.2,633.9 137.6,634.4 138,634.7 138.4,634.5 138.8,634.1 139.2,634 139.6,634.4 140,634.7 140.4,634.7 140.8,634.6 141.2,634.1 141.6,633.8 142,634.2 142.4,634.2 142.8,634.1 143.2,634.1 143.6,634.4 144,634.4 144.4,634.3 144.8,634.5 145.2,634.3 145.6,634.2 146,633.7 146.4,633.6 146.8,634.3 147.2,634.3 147.6,633.6 148,634 148.4,634.1 148.8,634.2 149.2,634.5 149.6,633.9 150,633.8 150.4,634.4 150.8,634.6 151.2,634.2 151.6,634.2 152,634.2 152.4,634 152.8,634.2 153.2,634.6 153.6,634.5 154,634.6 154.4,634.8 154.8,634.1 155.2,634 155.6,634.6 156,634.1 156.4,633.7 156.8,634.2 157.2,634.1 157.6,634 158,634.1 158.4,633.9 158.8,633.9 159.2,634 159.6,634.1 160,634.1 160.4,634 160.8,633.8 161.2,633.8 161.6,634.1 162,634 162.4,634.2 162.8,634.2 163.2,634.4 163.6,634.5 164,634 164.4,633.9 164.8,634.1 165.2,634.3 165.6,634 166,634 166.4,634.3 166.8,634.3 167.2,634.5 167.6,633.9 168,633.6 168.4,634 168.8,634.1 169.2,634.7 169.6,634.3 170,633.7 170.4,633.9 170.8,633.7 171.2,633.2 171.6,632.1 172,631.2 172.4,629.5 172.8,627.7 173.2,625.8 173.6,623.9 174,622 174.4,619.7 174.8,617.2 175.2,616.3 175.6,615 176,612.7 176.4,611.6 176.8,611 177.2,610.2 177.6,608.4 178,606.7 178.4,606.2 178.8,604.8 179.2,603.9 179.6,603.3 180,601.2 180.4,600.5 180.8,599.9 181.2,599.4 181.6,598.5 182,597.5 182.4,597.9 182.8,596.3 183.2,594.5 183.6,593.2 184,592.2 184.4,592 184.8,592.2 185.2,591.5 185.6,590.2 186,591.5 186.4,592.9 186.8,594.6 187.2,597.1 187.6,597.8 188,597.8 188.4,599.5 188.8,601.4 189.2,602.2 189.6,604.1 190,605.2 190.4,607.1 190.8,610.1 191.2,612.3 191.6,613.6 192,614.6 192.4,618 192.8,620.7 193.2,622.3 193.6,624.4 194,626.9 194.4,628.5 194.8,630.3 195.2,631.6 195.6,631.8 196,632.1 196.4,633 196.8,633.5 197.2,632.8 197.6,632.8 198,633.5 198.4,633.6 198.8,634.1 199.2,634.3 199.6,633.8 200,634.1 200.4,634.3 200.8,634 201.2,633.5 201.6,633.5 202,634 202.4,634.2 202.8,634.2 203.2,634.1 203.6,634.2 204,634.4 204.4,634.2 204.8,634.3 205.2,634.3 205.6,634.3 206,633.9 206.4,633.9 206.8,634.2 207.2,634.2 207.6,634.3 208,634.2 208.4,634.2 208.8,634.6 209.2,634.6 209.6,634.3 210,634.2 210.4,634.5 210.8,634.3 211.2,634.1 211.6,634.1 212,633.8 212.4,634.1 212.8,634.6 213.2,634.3 213.6,634.1 214,634.3 214.4,634.7 214.8,634.6" fill="none" stroke="#000" stroke-width="1.2" stroke-linejoin="round"/>
<polyline points="360,633.9 360.4,634.1 360.8,634.4 361.2,634 361.6,633.9 362,634.2 362.4,634.2 362.8,634.1 363.2,634.2 363.6,634.1 364,634.2 364.4,634.3 364.8,634.5 365.2,634.1 365.6,634.2 366,634.6 366.4,634.6 366.8,634.7 367.2,634.2 367.6,634.3 368,634.3 368.4,633.7 368.8,634.1 369.2,634.5 369.6,634.6 370,634.4 370.4,634.4 370.8,634.1 371.2,634 371.6,634.7 372,634.2 372.4,633.6 372.8,634.1 373.2,634 373.6,634 374,634.2 374.4,634.2 374.8,634.1 375.2,634 375.6,634.1 376,634.2 376.4,633.8 376.8,634.4 377.2,634.5 377.6,634 378,633.7 378.4,633.9 378.8,634.1 379.2,633.8 379.6,634.2 380,634.5 380.4,634.2 380.8,634.2 381.2,634.4 381.6,634.3 382,634 382.4,634.1 382.8,634 383.2,634 383.6,634.3 384,633.9 384.4,633.7 384.8,634.5 385.2,634.3 385.6,633.8 386,634.2 386.4,634.2 386.8,634.4 387.2,634.5 387.6,634.6 388,634.4 388.4,633.9 388.8,633.9 389.2,634.3 389.6,634.4 390,634.6 390.4,634.4 390.8,633.9 391.2,633.8 391.6,634.1 392,634.5 392.4,630.1 392.8,625.6 393.2,621.9 393.6,618.3 394,617.9 394.4,617.2 394.8,616.4 395.2,615.3 395.6,614.5 396,613 396.4,611.8 396.8,612.8 397.2,612.3 397.6,612.1 398,611.7 398.4,610.6 398.8,610.6 399.2,609.5 399.6,609.4 400,609 400.4,608 400.8,608 401.2,606.9 401.6,606.3 402,605.8 402.4,604.5 402.8,604.6 403.2,603.5 403.6,601.4 404,601.8 404.4,601.3 404.8,600.5 405.2,598.5 405.6,596.9 406,596.9 406.4,596.8 406.8,595.4 407.2,594 407.6,594.9 408,594.5 408.4,593 408.8,593.2 409.2,594.1 409.6,593.6 410,593.1 410.4,594.8 410.8,596.3 411.2,597.5 411.6,597.1 412,598.4 412.4,600.6 412.8,603 413.2,604.4 413.6,610.4 414,618.3 414.4,624 414.8,628 415.2,630.7 415.6,632.2 416,632.7 416.4,633.2 416.8,633.9 417.2,634.4 417.6,634.4 418,634.4 418.4,634.3 418.8,634 419.2,634.2 419.6,634.1 420,634.4 420.4,634.6 420.8,635 421.2,634.9 421.6,634.1 422,634.4 422.4,634.6 422.8,634.2 423.2,634.5 423.6,634.9 424,634.3 424.4,633.9 424.8,634.4 425.2,634.4 425.6,634.5 426,634.6 426.4,634.3 426.8,634.4 427.2,634.1 427.6,634 428,634.1 428.4,634 428.8,634.4 429.2,634.6 429.6,634.4 430,634.3 430.4,634.7 430.8,634.6 431.2,634.2 431.6,634.3 432,634.3 432.4,633.9 432.8,634.4 433.2,634.4 433.6,634.1 434,634.4 434.4,634.3 434.8,634.6 435.2,635.1 435.6,634.8 436,634 436.4,634 436.8,634 437.2,634 437.6,634.6 438,634.5 438.4,634.6 438.8,634.6 439.2,634.1 439.6,634 440,634.4 440.4,634 440.8,633.8 441.2,634 441.6,634.4 442,634.4 442.4,633.4 442.8,633.9 443.2,634.6 443.6,634.2 444,634 444.4,633.8 444.8,633.8 445.2,634.3 445.6,634.4 446,634.2 446.4,634 446.8,634.3 447.2,634.8 447.6,634.9 448,634.2 448.4,634 448.8,634.1 449.2,634 449.6,634.2 450,634.9 450.4,634.9 450.8,634.3 451.2,634.1 451.6,634.3 452,634 452.4,634 452.8,634.6 453.2,634.2 453.6,634.4 454,635.1 454.4,634.6 454.8,634.3 455.2,634.3 455.6,634 456,634.3 456.4,634.5 456.8,634 457.2,633.6 457.6,634 458,634 458.4,633.6 458.8,633.9 459.2,634.1 459.6,634.2 460,634.8 460.4,634.4 460.8,634.3 461.2,634.3 461.6,633.9 462,634.5 462.4,635 462.8,634.4 463.2,634.2 463.6,634.6 464,634.3 464.4,634.4 464.8,634.8 465.2,635.2 465.6,634.9 466,634.2 466.4,633.9 466.8,633.6 467.2,633.4 467.6,634.1 468,634.1 468.4,633.6 468.8,633.8 469.2,633.9 469.6,633.9 470,633.8 470.4,633.9 470.8,634.4 471.2,634.7 471.6,634.4 472,634.1 472.4,634.1 472.8,634.3 473.2,634.1 473.6,633.8 474,632.7 474.4,631.5 474.8,629.9 475.2,629.8 475.6,629.6 476,629.2 476.4,629.3 476.8,629.3 477.2,628.5 477.6,628.1 478,627.9 478.4,627.3 478.8,625.9 479.2,624.8 479.6,624.1 480,623.2 480.4,622.3 480.8,621.2 481.2,619.4 481.6,617.9 482,616.1 482.4,614.6 482.8,612.7 483.2,612.4 483.6,612.5 484,611.4 484.4,610.7 484.8,608.6 485.2,607.9 485.6,608.1 486,607.6 486.4,607 486.8,606.4 487.2,605.3 487.6,603.2 488,602.9 488.4,602.7 488.8,602.5 489.2,602.7 489.6,602.5 490,601.9 490.4,601.6 490.8,601.6 491.2,600.9 491.6,600.1 492,599.4 492.4,599.2 492.8,598.2 493.2,595.7 493.6,594.6 494,596.4 494.4,594.7 494.8,593.1 495.2,593.4 495.6,593.6 496,595.3 496.4,595.3 496.8,596.1 497.2,596.2 497.6,598.3 498,600.7 498.4,599.8 498.8,599.9 499.2,601.7 499.6,602.6 500,602.6 500.4,604.5 500.8,606.3 501.2,607.5 501.6,609.6 502,610.4 502.4,612.3 502.8,614.3 503.2,615.2 503.6,617.6 504,621.9 504.4,626.3 504.8,628.6 505.2,630.8 505.6,632.5 506,633.1 506.4,633.9 506.8,634.7 507.2,635 507.6,634.5 508,634.1 508.4,634.1 508.8,634.1 509.2,634.2 509.6,634.5 510,634.8 510.4,634.3 510.8,634.4 511.2,634.4 511.6,634.1 512,634.4 512.4,634.3 512.8,634 513.2,634.2 513.6,634.5 514,634.4 514.4,634.6 514.8,634.8 515.2,634.3 515.6,634.3 516,634.4 516.4,634.3 516.8,634.5 517.2,634.5 517.6,634.7 518,634.6 518.4,634.4 518.8,634.3 519.2,633.9 519.6,633.8 520,634.2 520.4,633.7" fill="none" stroke="#000" stroke-width="1.2" stroke-linejoin="round"/>
<polyline points="55,695.2 55.4,695.8 55.8,695.9 56.2,695.6 56.6,694.8 57,694.8 57.4,695.9 57.8,696.1 58.2,696.9 58.6,696.1 59,696.5 59.4,696 59.8,695.8 60.2,696.3 60.6,697.7 61,697.3 61.4,696.5 61.8,695.6 62.2,696.8 62.6,697.3 63,697.8 63.4,697.4 63.8,696.7 64.2,696.4 64.6,697.2 65,698 65.4,697.7 65.8,697.9 66.2,698.1 66.6,699.1 67,699.2 67.4,698.5 67.8,697.6 68.2,695.3 68.6,695.9 69,696.9 69.4,698.7 69.8,699 70.2,699.5 70.6,699.8 71,700 71.4,699.6 71.8,699.4 72.2,700 72.6,700.2 73,700.2 73.4,699.5 73.8,699.4 74.2,699.5 74.6,699.7 75,699.6 75.4,699.2 75.8,698.2 76.2,698.6 76.6,698.6 77,699.8 77.4,700.6 77.8,701.6 78.2,701.4 78.6,701.2 79,700.9 79.4,701.1 79.8,701.4 80.2,701.9 80.6,704.1 81,703.2 81.4,703.3 81.8,702.3 82.2,703.7 82.6,703.5 83,703.8 83.4,702.7 83.8,702 84.2,700.9 84.6,701 85,701.8 85.4,702.2 85.8,702.5 86.2,702.5 86.6,701.9 87,701.3 87.4,698.7 87.8,696.2 88.2,694.9 88.6,694.3 89,693.9 89.4,691.2 89.8,689.9 90.2,688.5 90.6,687.7 91,686.9 91.4,685.4 91.8,684.3 92.2,681.8 92.6,681.5 93,680 93.4,681 93.8,679.2 94.2,679.6 94.6,677.1 95,675.8 95.4,673.8 95.8,673.1 96.2,672.3 96.6,670.5 97,668.3 97.4,668.2 97.8,668.9 98.2,669.2 98.6,669.3 99,669.7 99.4,669.2 99.8,668.9 100.2,667.8 100.6,667.9 101,667.4 101.4,665.4 101.8,664.8 102.2,664.1 102.6,661.9 103,658.2 103.4,653.2 103.8,657.5 104.2,662.2 104.6,667 105,670.2 105.4,670.5 105.8,672.7 106.2,673 106.6,674.4 107,673.4 107.4,675.3 107.8,675.2 108.2,677.3 108.6,677.6 109,678.1 109.4,677.7 109.8,677.5 110.2,679.5 110.6,681.2 111,682 111.4,680.7 111.8,680.4 112.2,680.6 112.6,680.9 113,680.5 113.4,681 113.8,681.5 114.2,682.3 114.6,682.5 115,683.3 115.4,683.1 115.8,683.9 116.2,684.1 116.6,684.3 117,684.1 117.4,684.1 117.8,684.5 118.2,685.2 118.6,686.4 119,686.2 119.4,686.3 119.8,686 120.2,686.4 120.6,686.6 121,686.4 121.4,686.6 121.8,685.7 122.2,685.4 122.6,686.3 123,688.6 123.4,689.4 123.8,688.4 124.2,688.2 124.6,688.5 125,690.2 125.4,689.3 125.8,689.9 126.2,689.8 126.6,689.8 127,689.5 127.4,689.5 127.8,689.7 128.2,690.4 128.6,690.1 129,690.9 129.4,690.1 129.8,690.5 130.2,690.3 130.6,689.4 131,689 131.4,689.2 131.8,690.2 132.2,691.2 132.6,691.7 133,691.6 133.4,691 133.8,690.7 134.2,690.8 134.6,691.7 135,692 135.4,692.5 135.8,691.3 136.2,690.5 136.6,690.1 137,691 137.4,691.1 137.8,692.2 138.2,693.2 138.6,693.1 139,692.4 139.4,691.9 139.8,693 140.2,693.3 140.6,693.1 141,693.5 141.4,695 141.8,695.1 142.2,695.4 142.6,695.1 143,695.6 143.4,695.4 143.8,694.5 144.2,693.3 144.6,693.7 145,694 145.4,694.7 145.8,694.1 146.2,694.6 146.6,695.2 147,695.1 147.4,695.3 147.8,694.8 148.2,694.8 148.6,693.7 149,693.2 149.4,693.7 149.8,694.3 150.2,694.7 150.6,694.4 151,694.3 151.4,694.5 151.8,695.2 152.2,695.8 152.6,696 153,696.7 153.4,698 153.8,699 154.2,698.2 154.6,698.4 155,698.6 155.4,698.3 155.8,697.4 156.2,696.8 156.6,696.9 157,698.4 157.4,700.2 157.8,700.4 158.2,700 158.6,699.1 159,700.1 159.4,699.9 159.8,700.2 160.2,699.9 160.6,699.2 161,699.3 161.4,700.6 161.8,700.8 162.2,700.7 162.6,700.1 163,700.5 163.4,700.8 163.8,701.4 164.2,702.1 164.6,702.3 165,702 165.4,701.6 165.8,702.1 166.2,701.8 166.6,701.3 167,700.3 167.4,700.3 167.8,701.4 168.2,701.6 168.6,701.2 169,701.3 169.4,701.1 169.8,701.7 170.2,700.5 170.6,700.5 171,699 171.4,698.7 171.8,698.1 172.2,698.1 172.6,697.8 173,697.1 173.4,696.8 173.8,696.2 174.2,694.3 174.6,693.5 175,691.3 175.4,690.6 175.8,689.4 176.2,689 176.6,687.6 177,686.2 177.4,685.3 177.8,685.9 178.2,685.4 178.6,684.2 179,681.9 179.4,680.5 179.8,680 180.2,680.2 180.6,679.7 181,678.4 181.4,677.2 181.8,675.5 182.2,674.3 182.6,673.4 183,673.3 183.4,672 183.8,670.7 184.2,669.6 184.6,670.1 185,670 185.4,670.9 185.8,670.1 186.2,669 186.6,666.8 187,665.5 187.4,664.9 187.8,665.8 188.2,668 188.6,670 189,670.2 189.4,667.7 189.8,666 190.2,665 190.6,666.3 191,667.1 191.4,668.2 191.8,668.9 192.2,667.7 192.6,666.7 193,664.7 193.4,666.7 193.8,667.6 194.2,669.3 194.6,669.7 195,671.7 195.4,672.1 195.8,673.6 196.2,675.2 196.6,676.6 197,678.2 197.4,677.8 197.8,678.4 198.2,677.6 198.6,678.5 199,679.3 199.4,680.7 199.8,681.8 200.2,682.1 200.6,683.6 201,683.8 201.4,683.9 201.8,683 202.2,683 202.6,683.1 203,683 203.4,684.2 203.8,685.4 204.2,686.7 204.6,687.1 205,687.3 205.4,686.5 205.8,685.8 206.2,685.1 206.6,686.1 207,685.9 207.4,686.8 207.8,685.8 208.2,684.8 208.6,684.7 209,685.9 209.4,687.3 209.8,687.3 210.2,687.1 210.6,687.1 211,687.8 211.4,687.6 211.8,687.9 212.2,688.2 212.6,689.2 213,689.4 213.4,689.4 213.8,690.3 214.2,691.5 214.6,691.3" fill="none" stroke="#000" stroke-width="1.4" stroke-linejoin="round"/>
<polyline points="360,695.7 360.4,695 360.8,693.9 361.2,694.1 361.6,693.9 362,692.9 362.4,691.8 362.8,691 363.2,693 363.6,694 364,694.6 364.4,694.4 364.8,695.1 365.2,696.3 365.6,697.4 366,697.3 366.4,696.9 366.8,695.6 367.2,695.7 367.6,696.2 368,697 368.4,697 368.8,697.2 369.2,697.4 369.6,698.2 370,697.6 370.4,698 370.8,696.8 371.2,696.9 371.6,697.3 372,697 372.4,697.6 372.8,695.8 373.2,696.5 373.6,696.1 374,697 374.4,697.4 374.8,697.9 375.2,698.4 375.6,697.1 376,696.6 376.4,696.6 376.8,697.4 377.2,696.7 377.6,696 378,695 378.4,694.7 378.8,695.4 379.2,696.6 379.6,697 380,695.9 380.4,695.3 380.8,695.3 381.2,695.8 381.6,696 382,695.5 382.4,696 382.8,696 383.2,696.4 383.6,696.8 384,696.4 384.4,696.8 384.8,695.9 385.2,695.8 385.6,695.2 386,695.7 386.4,698.1 386.8,699.5 387.2,701.4 387.6,700.5 388,699.6 388.4,698.1 388.8,699 389.2,698.9 389.6,698.4 390,696.7 390.4,696.9 390.8,695.5 391.2,695 391.6,692.8 392,693 392.4,691.4 392.8,691.1 393.2,689.6 393.6,688.8 394,686.7 394.4,685.9 394.8,685.2 395.2,685.2 395.6,684 396,684 396.4,684.1 396.8,684.3 397.2,684.1 397.6,683 398,681.1 398.4,680.4 398.8,678.9 399.2,679.4 399.6,678.5 400,678 400.4,676.9 400.8,674.8 401.2,674.1 401.6,673.1 402,673.1 402.4,672.3 402.8,670.9 403.2,670.7 403.6,670.5 404,670.3 404.4,668.2 404.8,667.9 405.2,667.7 405.6,668.1 406,666.4 406.4,665.2 406.8,664 407.2,663.6 407.6,663.5 408,663.1 408.4,662.1 408.8,661.6 409.2,660.7 409.6,659.9 410,659.8 410.4,661.4 410.8,664.5 411.2,666.8 411.6,671 412,673.7 412.4,677.6 412.8,678.6 413.2,675.3 413.6,670.6 414,666.3 414.4,665.8 414.8,668.9 415.2,671.9 415.6,673.4 416,674.2 416.4,675.6 416.8,678 417.2,679.2 417.6,680.5 418,680.7 418.4,681.1 418.8,682.5 419.2,683 419.6,683.7 420,683.9 420.4,684.7 420.8,685.1 421.2,684.1 421.6,683.3 422,683.2 422.4,684.2 422.8,684.6 423.2,685.8 423.6,685.4 424,686.3 424.4,685.3 424.8,685.6 425.2,685.3 425.6,686 426,686.3 426.4,686.5 426.8,686.9 427.2,688.2 427.6,688.7 428,689.5 428.4,689.3 428.8,689.4 429.2,689.4 429.6,689 430,689.1 430.4,688.7 430.8,688.6 431.2,688.8 431.6,690.4 432,691.3 432.4,692 432.8,691.6 433.2,690 433.6,690 434,689.5 434.4,691 434.8,690.5 435.2,690.2 435.6,690.9 436,692.3 436.4,693.4 436.8,693.4 437.2,693.1 437.6,692.9 438,692.3 438.4,692.3 438.8,691.7 439.2,691.2 439.6,690.9 440,691.3 440.4,692.4 440.8,692.9 441.2,693 441.6,693.4 442,693.7 442.4,693.8 442.8,694.3 443.2,695 443.6,695.7 444,695.5 444.4,695.2 444.8,695.6 445.2,695.3 445.6,695.3 446,694.8 446.4,694.4 446.8,693.8 447.2,693.2 447.6,693.4 448,694 448.4,695.7 448.8,696.1 449.2,695.7 449.6,696 450,696.1 450.4,697.3 450.8,696.9 451.2,697.8 451.6,697.7 452,697.2 452.4,697.6 452.8,697.6 453.2,697.7 453.6,697.2 454,696.5 454.4,697.8 454.8,697.5 455.2,697 455.6,695.5 456,694.7 456.4,694.5 456.8,694.1 457.2,694.5 457.6,695.3 458,696 458.4,696.1 458.8,696.3 459.2,696.8 459.6,696.5 460,696.9 460.4,697.1 460.8,696.9 461.2,696.5 461.6,696 462,697 462.4,698 462.8,698.7 463.2,697.9 463.6,697.1 464,696.4 464.4,697.5 464.8,697.2 465.2,697 465.6,696.4 466,696.7 466.4,696.6 466.8,696.4 467.2,696.1 467.6,696 468,695.6 468.4,695.9 468.8,696.3 469.2,697.4 469.6,696.7 470,696.3 470.4,695.4 470.8,697 471.2,697.5 471.6,698.8 472,696.7 472.4,696.4 472.8,696.7 473.2,697.7 473.6,698.6 474,697 474.4,696.7 474.8,696.5 475.2,697 475.6,697.8 476,698.6 476.4,697.9 476.8,697.6 477.2,696.7 477.6,697.1 478,695.7 478.4,694.2 478.8,692.5 479.2,691.2 479.6,690.5 480,689.5 480.4,689.4 480.8,688.1 481.2,687.9 481.6,686.4 482,685.8 482.4,684.2 482.8,683.6 483.2,682.3 483.6,681.9 484,682 484.4,681.1 484.8,680.8 485.2,680.3 485.6,679.8 486,679.4 486.4,678.9 486.8,678.1 487.2,677.6 487.6,677.1 488,675.1 488.4,673.3 488.8,671 489.2,670.9 489.6,671 490,671 490.4,670.9 490.8,669.8 491.2,668.9 491.6,667.5 492,666.5 492.4,667 492.8,667.5 493.2,667.7 493.6,666.6 494,665.3 494.4,663.6 494.8,663.5 495.2,664.1 495.6,665.5 496,665.5 496.4,665 496.8,664.3 497.2,662.2 497.6,661.3 498,660.8 498.4,661.2 498.8,662.1 499.2,662.4 499.6,664.2 500,665.4 500.4,666.3 500.8,667 501.2,667.7 501.6,668.5 502,670.2 502.4,669.5 502.8,669 503.2,667.9 503.6,668.7 504,670.6 504.4,672.7 504.8,673.3 505.2,674.8 505.6,675.7 506,677.7 506.4,678.8 506.8,679 507.2,679.9 507.6,681.9 508,683.4 508.4,683.7 508.8,683.4 509.2,682.8 509.6,682.1 510,683 510.4,683.3 510.8,683.7 511.2,683.3 511.6,684.1 512,683.8 512.4,683.7 512.8,683.1 513.2,684.8 513.6,685.6 514,686.6 514.4,687.1 514.8,687.6 515.2,688.4 515.6,688.9 516,689.9 516.4,690.9 516.8,690.1 517.2,689.6 517.6,689.1 518,690 518.4,689.6 518.8,689.4 519.2,690 519.6,690.9" fill="none" stroke="#000" stroke-width="1.4" stroke-linejoin="round"/>
<path d="M85.8 711.3L88.8 722.6H82.8Z" fill="none" stroke="#222" stroke-width="0.9"/>
<path d="M392 711.3L395 722.6H389Z" fill="none" stroke="#222" stroke-width="0.9"/>
<path d="M186.8 716.2V713H202.8V716.2" fill="none" stroke="#333" stroke-width="1"/>
<text x="186.3" y="728.8" font-size="12.3" textLength="17.5" lengthAdjust="spacingAndGlyphs">1 s</text>
<path d="M494.4 716.2V713H510.8V716.2" fill="none" stroke="#333" stroke-width="1"/>
<text x="494" y="728.8" font-size="12.3" textLength="17.5" lengthAdjust="spacingAndGlyphs">1 s</text>
<text x="1.4" y="757.3" font-size="18.5">d</text>
<text x="46.5" y="770.5" font-size="12.6" textLength="111.3" lengthAdjust="spacingAndGlyphs">Amplitude of <tspan font-family="'Liberation Serif', serif" font-weight="normal" stroke-width="0.15" dy="-1">∫</tspan><tspan dy="1" dx="0.3">PNA</tspan></text>
<rect x="139.1" y="776.2" width="25.8" height="130.1" fill="#c8c8c8"/>
<line x1="46.6" y1="813.8" x2="374.2" y2="813.8" stroke="#333" stroke-width="1.2"/>
<line x1="46.6" y1="875.7" x2="374.2" y2="875.7" stroke="#c4c4c4" stroke-width="1"/>
<line x1="200.5" y1="776.2" x2="200.5" y2="906.3" stroke="#222" stroke-width="1.1" stroke-dasharray="2.8 5.4" stroke-dashoffset="1.6"/>
<line x1="46.6" y1="776.2" x2="46.6" y2="906.8" stroke="#333" stroke-width="1"/>
<line x1="46.1" y1="906.3" x2="374.2" y2="906.3" stroke="#555" stroke-width="1"/>
<line x1="149.2" y1="906.3" x2="149.2" y2="903.7" stroke="#777" stroke-width="0.8"/>
<line x1="251.7" y1="906.3" x2="251.7" y2="903.7" stroke="#777" stroke-width="0.8"/>
<line x1="354.2" y1="906.3" x2="354.2" y2="903.7" stroke="#777" stroke-width="0.8"/>
<text x="46.5" y="920.8" font-size="11.9" text-anchor="middle">0</text>
<text x="148.9" y="920.8" font-size="11.9" text-anchor="middle">200</text>
<text x="251.4" y="920.8" font-size="11.9" text-anchor="middle">400</text>
<text x="353.9" y="920.8" font-size="11.9" text-anchor="middle">600</text>
<text x="131" y="935.9" font-size="12.3" textLength="157" lengthAdjust="spacingAndGlyphs">Time after the injection [s]</text>
<text x="41.7" y="817.1" font-size="11.9" text-anchor="end">100</text>
<text x="41.7" y="879" font-size="11.9" text-anchor="end">50</text>
<text x="12.4" y="841.3" font-size="12.4" transform="rotate(-90 12.4 841.3)" text-anchor="middle">[%]</text>
<path d="M51.8 811.2V826.8M57 808.6V823.6M62.1 812.4V826.8M67.2 817V831.4M72.3 819.3V833.1M77.5 821.6V834.8M82.6 823.9V837.1M87.7 824.2V836.8M92.8 824.7V836.3M97.9 825.3V836.3M103.1 826.2V836.5M108.2 827.9V837.7M113.3 827.6V834.5M118.5 824.7V834M123.6 825.6V833.7M128.7 827.6V836.8M133.8 827.3V836M138.9 825.3V835.7M144.1 825V835.4M149.2 825.9V835.7M154.3 827.9V836.5M159.4 828.5V837.1M164.6 827V835.7M169.7 825.6V834.2M174.8 827.9V834.8M179.9 828.2V835.1M185.1 827.9V834.8M190.2 828.2V835.1M195.3 827V834.5M200.4 825.6V834.2M205.6 825.3V833.4M210.7 827.9V834.8M215.8 828.5V838.3M220.9 827.3V834.8M226.1 821.3V834M231.2 823.9V834.2M236.3 825.6V836.5M241.4 824.7V834M246.6 824.5V833.1M251.7 826.8V831.4M256.8 828.2V832.8M261.9 829.3V834M267.1 829.6V834.8M272.2 828.5V834.2M277.3 831.4V835.4M282.4 831.9V836.5M287.6 830.2V834.2M292.7 830.8V834.8M297.8 831.9V836M302.9 832.8V837.4M308.1 832.2V836.8M313.2 830.8V834.8M318.3 829.3V833.4M323.4 827V831.7M328.6 828.2V832.8M333.7 830.5V837.4M338.8 831.7V840.3M343.9 831.4V840.6M349.1 830.8V839.4M354.2 829.3V839.1" fill="none" stroke="#000" stroke-width="1.4"/>
<polyline points="46.7,813.8 51.8,819 57,816.1 62.1,819.6 67.2,824.2 72.3,826.2 77.5,828.2 82.6,830.5 87.7,830.5 92.8,830.5 97.9,830.8 103.1,831.4 108.2,832.8 113.3,831.1 118.5,829.3 123.6,829.6 128.7,832.2 133.8,831.7 138.9,830.5 144.1,830.2 149.2,830.8 154.3,832.2 159.4,832.8 164.6,831.4 169.7,829.9 174.8,831.4 179.9,831.7 185.1,831.4 190.2,831.7 195.3,830.8 200.4,829.9 205.6,829.3 210.7,831.4 215.8,833.4 220.9,831.1 226.1,827.6 231.2,829.1 236.3,831.1 241.4,829.3 246.6,828.8 251.7,829.1 256.8,830.5 261.9,831.7 267.1,832.2 272.2,831.4 277.3,833.4 282.4,834.2 287.6,832.2 292.7,832.8 297.8,834 302.9,835.1 308.1,834.5 313.2,832.8 318.3,831.4 323.4,829.3 328.6,830.5 333.7,834 338.8,836 343.9,836 349.1,835.1 354.2,834.2" fill="none" stroke="#000" stroke-width="2.6" stroke-linejoin="round"/>
<text x="2" y="968.9" font-size="18.5">f</text>
<text x="46.5" y="981.9" font-size="12.6" textLength="135.8" lengthAdjust="spacingAndGlyphs">Respiratory frequency</text>
<rect x="139.1" y="987" width="25.8" height="131.2" fill="#c8c8c8"/>
<line x1="46.6" y1="994.3" x2="374.2" y2="994.3" stroke="#c4c4c4" stroke-width="1"/>
<line x1="46.6" y1="1035.8" x2="374.2" y2="1035.8" stroke="#c4c4c4" stroke-width="1"/>
<line x1="46.6" y1="1077.2" x2="374.2" y2="1077.2" stroke="#333" stroke-width="1.2"/>
<line x1="200.5" y1="987" x2="200.5" y2="1118.2" stroke="#222" stroke-width="1.1" stroke-dasharray="2.8 5.4" stroke-dashoffset="1.6"/>
<line x1="46.6" y1="987" x2="46.6" y2="1118.7" stroke="#333" stroke-width="1"/>
<line x1="46.1" y1="1118.2" x2="374.2" y2="1118.2" stroke="#555" stroke-width="1"/>
<line x1="149.2" y1="1118.2" x2="149.2" y2="1115.6" stroke="#777" stroke-width="0.8"/>
<line x1="251.7" y1="1118.2" x2="251.7" y2="1115.6" stroke="#777" stroke-width="0.8"/>
<line x1="354.2" y1="1118.2" x2="354.2" y2="1115.6" stroke="#777" stroke-width="0.8"/>
<text x="46.5" y="1132.2" font-size="11.9" text-anchor="middle">0</text>
<text x="148.9" y="1132.2" font-size="11.9" text-anchor="middle">200</text>
<text x="251.4" y="1132.2" font-size="11.9" text-anchor="middle">400</text>
<text x="353.9" y="1132.2" font-size="11.9" text-anchor="middle">600</text>
<text x="131" y="1147.7" font-size="12.3" textLength="157" lengthAdjust="spacingAndGlyphs">Time after the injection [s]</text>
<text x="41.7" y="996.9" font-size="11.9" text-anchor="end">200</text>
<text x="41.7" y="1038.3" font-size="11.9" text-anchor="end">150</text>
<text x="41.7" y="1079.8" font-size="11.9" text-anchor="end">100</text>
<text x="41.7" y="1121.2" font-size="11.9" text-anchor="end">50</text>
<text x="12.4" y="1053.5" font-size="12.4" transform="rotate(-90 12.4 1053.5)" text-anchor="middle">[%]</text>
<path d="M51.8 1062.7V1075.5M57 1061.5V1074.3M62.1 1061.3V1074M67.2 1061.8V1074.6M72.3 1060.4V1074.3M77.5 1063.3V1076M82.6 1067.9V1081.8M87.7 1067.9V1080.7M92.8 1067.9V1080.7M97.9 1069.1V1081.8M103.1 1068.5V1080.1M108.2 1066.2V1080.1M113.3 1070.2V1081.8M118.5 1072.3V1082.7M123.6 1074V1084.4M128.7 1074V1084.4M133.8 1074V1084.4M138.9 1074.3V1084.7M144.1 1074.3V1084.7M149.2 1076.6V1084.7M154.3 1077.2V1085.3M159.4 1077.5V1085.6M164.6 1077.8V1085.9M169.7 1078.1V1085M174.8 1078.1V1085M179.9 1078.4V1085.3M185.1 1081.3V1087.1M190.2 1080.7V1088.8M195.3 1078.9V1085.9M200.4 1079.2V1086.2M205.6 1079.2V1085M210.7 1080.1V1085.9M215.8 1080.7V1088.8M220.9 1078.9V1088.2M226.1 1079.5V1086.5M231.2 1079.2V1086.2M236.3 1079.2V1086.2M241.4 1078.9V1085.9M246.6 1078.4V1085.3M251.7 1077.8V1084.7M256.8 1077.8V1084.7M261.9 1077.8V1084.7M267.1 1077.5V1084.4M272.2 1078.4V1086.5M277.3 1077.8V1084.7M282.4 1077.2V1084.2M287.6 1077.8V1084.7M292.7 1078.4V1085.3M297.8 1078.6V1085.6M302.9 1077.8V1084.7M308.1 1077.8V1084.7M313.2 1078.4V1085.3M318.3 1078.9V1085.9M323.4 1078.4V1084.2M328.6 1078.1V1083.9M333.7 1076.6V1081.3M338.8 1078.4V1084.2M343.9 1078.4V1085.3M349.1 1078.4V1085.3M354.2 1077.2V1086.5" fill="none" stroke="#000" stroke-width="1.4"/>
<polyline points="46.7,1077.2 51.8,1069.1 57,1067.9 62.1,1067.6 67.2,1068.2 72.3,1067.3 77.5,1069.7 82.6,1074.9 87.7,1074.3 92.8,1074.3 97.9,1075.5 103.1,1074.3 108.2,1073.1 113.3,1076 118.5,1077.5 123.6,1079.2 128.7,1079.2 133.8,1079.2 138.9,1079.5 144.1,1079.5 149.2,1080.7 154.3,1081.3 159.4,1081.5 164.6,1081.8 169.7,1081.5 174.8,1081.5 179.9,1081.8 185.1,1084.2 190.2,1084.7 195.3,1082.4 200.4,1082.7 205.6,1082.1 210.7,1083 215.8,1084.7 220.9,1083.6 226.1,1083 231.2,1082.7 236.3,1082.7 241.4,1082.4 246.6,1081.8 251.7,1081.3 256.8,1081.3 261.9,1081.3 267.1,1081 272.2,1082.4 277.3,1081.3 282.4,1080.7 287.6,1081.3 292.7,1081.8 297.8,1082.1 302.9,1081.3 308.1,1081.3 313.2,1081.8 318.3,1082.4 323.4,1081.3 328.6,1081 333.7,1078.9 338.8,1081.3 343.9,1081.8 349.1,1081.8 354.2,1081.8" fill="none" stroke="#000" stroke-width="2.6" stroke-linejoin="round"/>
<text x="1.5" y="1180" font-size="18.5">h</text>
<text x="46.5" y="1193.7" font-size="12.6" textLength="178.9" lengthAdjust="spacingAndGlyphs">Duration of respiratory phase</text>
<rect x="138.4" y="1199.6" width="25.8" height="130.2" fill="#c8c8c8"/>
<line x1="46.6" y1="1205.9" x2="374.2" y2="1205.9" stroke="#c4c4c4" stroke-width="1"/>
<line x1="46.6" y1="1255.5" x2="374.2" y2="1255.5" stroke="#333" stroke-width="1.2"/>
<line x1="46.6" y1="1305.1" x2="374.2" y2="1305.1" stroke="#c4c4c4" stroke-width="1"/>
<line x1="199.8" y1="1199.6" x2="199.8" y2="1329.8" stroke="#222" stroke-width="1.1" stroke-dasharray="2.8 5.4" stroke-dashoffset="1.6"/>
<line x1="46.6" y1="1199.6" x2="46.6" y2="1330.3" stroke="#333" stroke-width="1"/>
<line x1="46.1" y1="1329.8" x2="374.2" y2="1329.8" stroke="#555" stroke-width="1"/>
<line x1="149.2" y1="1329.8" x2="149.2" y2="1327.2" stroke="#777" stroke-width="0.8"/>
<line x1="251.7" y1="1329.8" x2="251.7" y2="1327.2" stroke="#777" stroke-width="0.8"/>
<line x1="354.2" y1="1329.8" x2="354.2" y2="1327.2" stroke="#777" stroke-width="0.8"/>
<text x="46.5" y="1343.6" font-size="11.9" text-anchor="middle">0</text>
<text x="148.9" y="1343.6" font-size="11.9" text-anchor="middle">200</text>
<text x="251.4" y="1343.6" font-size="11.9" text-anchor="middle">400</text>
<text x="353.9" y="1343.6" font-size="11.9" text-anchor="middle">600</text>
<text x="131" y="1359.4" font-size="12.3" textLength="157" lengthAdjust="spacingAndGlyphs">Time after the injection [s]</text>
<text x="41.7" y="1208.5" font-size="11.9" text-anchor="end">150</text>
<text x="41.7" y="1258.1" font-size="11.9" text-anchor="end">100</text>
<text x="41.7" y="1307.7" font-size="11.9" text-anchor="end">50</text>
<text x="12.4" y="1264.8" font-size="12.4" transform="rotate(-90 12.4 1264.8)" text-anchor="middle">[%]</text>
<path d="M51.8 1254.6V1266.2M57 1257.2V1273.4M62.1 1258.4V1276.9M67.2 1257.2V1278.1M72.3 1256.7V1278.6M77.5 1254.9V1275.7M82.6 1249.1V1268.8M87.7 1247.7V1267.4M92.8 1247.7V1267.4M97.9 1248.6V1268.2M103.1 1248.6V1269.4M108.2 1248.6V1269.4M113.3 1249.1V1268.8M118.5 1248.8V1266.2M123.6 1246V1263.3M128.7 1245.7V1261.9M133.8 1245.7V1261.9M138.9 1243.6V1259.8M144.1 1243.9V1261.3M149.2 1244.5V1261.9M154.3 1243.6V1259.8M159.4 1242.2V1258.4M164.6 1239.3V1255.5M169.7 1241.3V1256.4M174.8 1242.8V1257.8M179.9 1242.8V1256.7M185.1 1236.1V1250M190.2 1239.6V1252.3M195.3 1241V1253.8M200.4 1242.5V1255.2M205.6 1241.6V1253.2M210.7 1243.1V1254.6M215.8 1243.9V1255.5M220.9 1244.5V1256.1M226.1 1243.9V1254.3M231.2 1243.4V1253.8M236.3 1244.5V1254.9M241.4 1245.1V1255.5M246.6 1244.5V1254.9M251.7 1244.5V1253.8M256.8 1245.7V1254.9M261.9 1246.2V1255.5M267.1 1245.1V1254.3M272.2 1244.2V1253.5M277.3 1245.1V1254.3M282.4 1245.7V1254.9M287.6 1246.2V1255.5M292.7 1245.1V1254.3M297.8 1244.5V1253.8M302.9 1245.1V1254.3M308.1 1245.7V1254.9M313.2 1244.5V1253.8M318.3 1245.1V1254.3M323.4 1245.7V1254.9M328.6 1246.2V1255.5M333.7 1246.8V1256.1M338.8 1245.7V1254.9M343.9 1245.1V1254.3M349.1 1245.7V1254.9M354.2 1246.2V1255.5" fill="none" stroke="#000" stroke-width="1.4"/>
<polyline points="46.7,1255.5 51.8,1260.4 57,1265.3 62.1,1267.6 67.2,1267.6 72.3,1267.6 77.5,1265.3 82.6,1259 87.7,1257.5 92.8,1257.5 97.9,1258.4 103.1,1259 108.2,1259 113.3,1259 118.5,1257.5 123.6,1254.6 128.7,1253.8 133.8,1253.8 138.9,1251.7 144.1,1252.6 149.2,1253.2 154.3,1251.7 159.4,1250.3 164.6,1247.4 169.7,1248.8 174.8,1250.3 179.9,1249.7 185.1,1243.1 190.2,1246 195.3,1247.4 200.4,1248.8 205.6,1247.4 210.7,1248.8 215.8,1249.7 220.9,1250.3 226.1,1249.1 231.2,1248.6 236.3,1249.7 241.4,1250.3 246.6,1249.7 251.7,1249.1 256.8,1250.3 261.9,1250.9 267.1,1249.7 272.2,1248.8 277.3,1249.7 282.4,1250.3 287.6,1250.9 292.7,1249.7 297.8,1249.1 302.9,1249.7 308.1,1250.3 313.2,1249.1 318.3,1249.7 323.4,1250.3 328.6,1250.9 333.7,1251.5 338.8,1250.3 343.9,1249.7 349.1,1250.3 354.2,1250.9" fill="none" stroke="#000" stroke-width="2" stroke-linejoin="round" stroke-dasharray="3 2.2" stroke-dashoffset="1.5"/>
<path d="M51.8 1254.3V1260.1M57 1247.7V1255.8M62.1 1240.8V1251.2M67.2 1239.6V1250.6M72.3 1239.6V1250.6M77.5 1239.3V1250.9M82.6 1241V1253.8M87.7 1236.7V1249.4M92.8 1228.9V1242.8M97.9 1231.2V1247.4M103.1 1231.8V1250.3M108.2 1232.4V1249.7M113.3 1230V1248.6M118.5 1231.8V1251.5M123.6 1234.7V1254.3M128.7 1228.9V1249.7M133.8 1230.6V1248M138.9 1232.4V1250.9M144.1 1236.7V1255.2M149.2 1225.7V1248.8M154.3 1226.9V1247.7M159.4 1234.7V1254.3M164.6 1233.2V1252.9M169.7 1231.2V1250.9M174.8 1231.2V1252M179.9 1234.1V1253.8M185.1 1240.2V1257.5M190.2 1235.3V1253.8M195.3 1232.4V1252M200.4 1232.4V1252M205.6 1230.6V1251.5M210.7 1231.2V1250.9M215.8 1235.3V1254.9M220.9 1237.6V1256.1M226.1 1232.4V1252M231.2 1237.3V1260.4M236.3 1232.7V1253.5M241.4 1233.2V1252.9M246.6 1235.3V1254.9M251.7 1238.7V1256.1M256.8 1239.6V1258.1M261.9 1239.6V1259.3M267.1 1236.7V1255.2M272.2 1234.1V1253.8M277.3 1234.7V1254.3M282.4 1235.5V1256.4M287.6 1238.1V1261.3M292.7 1239V1258.7M297.8 1239.6V1258.1M302.9 1239.6V1259.3M308.1 1236.7V1255.2M313.2 1237.6V1256.1M318.3 1234.7V1254.3M323.4 1231.2V1253.2M328.6 1235.3V1254.9M333.7 1239V1258.7M338.8 1239.6V1259.3M343.9 1239.6V1256.9M349.1 1239.9V1259.5M354.2 1240.2V1262.2" fill="none" stroke="#000" stroke-width="1.4"/>
<polyline points="46.7,1255.5 51.8,1257.2 57,1251.7 62.1,1246 67.2,1245.1 72.3,1245.1 77.5,1245.1 82.6,1247.4 87.7,1243.1 92.8,1235.8 97.9,1239.3 103.1,1241 108.2,1241 113.3,1239.3 118.5,1241.6 123.6,1244.5 128.7,1239.3 133.8,1239.3 138.9,1241.6 144.1,1246 149.2,1237.3 154.3,1237.3 159.4,1244.5 164.6,1243.1 169.7,1241 174.8,1241.6 179.9,1243.9 185.1,1248.8 190.2,1244.5 195.3,1242.2 200.4,1242.2 205.6,1241 210.7,1241 215.8,1245.1 220.9,1246.8 226.1,1242.2 231.2,1248.8 236.3,1243.1 241.4,1243.1 246.6,1245.1 251.7,1247.4 256.8,1248.8 261.9,1249.4 267.1,1246 272.2,1243.9 277.3,1244.5 282.4,1246 287.6,1249.7 292.7,1248.8 297.8,1248.8 302.9,1249.4 308.1,1246 313.2,1246.8 318.3,1244.5 323.4,1242.2 328.6,1245.1 333.7,1248.8 338.8,1249.4 343.9,1248.3 349.1,1249.7 354.2,1251.2" fill="none" stroke="#000" stroke-width="2.6" stroke-linejoin="round"/>
<text x="1" y="1393.2" font-size="18.5">j</text>
<text x="46.5" y="1405.1" font-size="12.6" textLength="166.3" lengthAdjust="spacingAndGlyphs">Inspiration/respiration ratio</text>
<rect x="138.6" y="1411" width="25.8" height="130.5" fill="#c8c8c8"/>
<line x1="46.6" y1="1417.6" x2="374.2" y2="1417.6" stroke="#c4c4c4" stroke-width="1"/>
<line x1="46.6" y1="1458.9" x2="374.2" y2="1458.9" stroke="#c4c4c4" stroke-width="1"/>
<line x1="46.6" y1="1500.2" x2="374.2" y2="1500.2" stroke="#333" stroke-width="1.2"/>
<line x1="200" y1="1411" x2="200" y2="1541.5" stroke="#222" stroke-width="1.1" stroke-dasharray="2.8 5.4" stroke-dashoffset="1.6"/>
<line x1="46.6" y1="1411" x2="46.6" y2="1542" stroke="#333" stroke-width="1"/>
<line x1="46.1" y1="1541.5" x2="374.2" y2="1541.5" stroke="#555" stroke-width="1"/>
<line x1="149.2" y1="1541.5" x2="149.2" y2="1538.9" stroke="#777" stroke-width="0.8"/>
<line x1="251.7" y1="1541.5" x2="251.7" y2="1538.9" stroke="#777" stroke-width="0.8"/>
<line x1="354.2" y1="1541.5" x2="354.2" y2="1538.9" stroke="#777" stroke-width="0.8"/>
<text x="46.5" y="1555.8" font-size="11.9" text-anchor="middle">0</text>
<text x="148.9" y="1555.8" font-size="11.9" text-anchor="middle">200</text>
<text x="251.4" y="1555.8" font-size="11.9" text-anchor="middle">400</text>
<text x="353.9" y="1555.8" font-size="11.9" text-anchor="middle">600</text>
<text x="131" y="1571.5" font-size="12.3" textLength="157" lengthAdjust="spacingAndGlyphs">Time after the injection [s]</text>
<text x="41.7" y="1420.2" font-size="11.9" text-anchor="end">200</text>
<text x="41.7" y="1461.5" font-size="11.9" text-anchor="end">150</text>
<text x="41.7" y="1502.8" font-size="11.9" text-anchor="end">100</text>
<text x="41.7" y="1544.1" font-size="11.9" text-anchor="end">50</text>
<text x="12.4" y="1476.2" font-size="12.4" transform="rotate(-90 12.4 1476.2)" text-anchor="middle">[%]</text>
<path d="M51.8 1499V1507.1M57 1495.3V1503.4M62.1 1490.4V1499.6M67.2 1486.9V1498.5M72.3 1486.3V1497.9M77.5 1489.8V1501.4M82.6 1493.8V1508.9M87.7 1491.5V1504.2M92.8 1485.2V1500.2M97.9 1488.6V1502.5M103.1 1487.5V1502.5M108.2 1486.9V1500.8M113.3 1489.2V1501.9M118.5 1492.1V1504.8M123.6 1495.3V1509.2M128.7 1491.8V1506.8M133.8 1490.4V1506.6M138.9 1492.7V1508.9M144.1 1493.8V1511.2M149.2 1491.5V1508.9M154.3 1491V1508.3M159.4 1496.2V1512.3M164.6 1496.2V1512.3M169.7 1494.4V1510.6M174.8 1493.3V1510.6M179.9 1496.2V1512.3M185.1 1503.7V1519.8M190.2 1502.2V1519.6M195.3 1495V1511.2M200.4 1495V1511.2M205.6 1493.3V1510.6M210.7 1493V1511.5M215.8 1498.2V1517.8M220.9 1497.9V1518.7M226.1 1495.6V1512.9M231.2 1499.6V1519.3M236.3 1494.4V1515.2M241.4 1494.4V1514.1M246.6 1495.6V1512.9M251.7 1498.5V1515.8M256.8 1498.8V1517.2M261.9 1499.6V1518.1M267.1 1499.6V1517M272.2 1495V1513.5M277.3 1495V1513.5M282.4 1495V1514.6M287.6 1497.9V1519.8M292.7 1498.2V1517.8M297.8 1498.5V1517M302.9 1500.2V1518.7M308.1 1496.7V1515.2M313.2 1497.3V1515.8M318.3 1497.9V1516.4M323.4 1493V1512.6M328.6 1496.2V1513.5M333.7 1496.2V1513.5M338.8 1497.9V1517.5M343.9 1496.7V1516.4M349.1 1498.5V1518.1M354.2 1497.9V1519.8" fill="none" stroke="#000" stroke-width="1.4"/>
<polyline points="46.7,1500.2 51.8,1503.1 57,1499.3 62.1,1495 67.2,1492.7 72.3,1492.1 77.5,1495.6 82.6,1501.4 87.7,1497.9 92.8,1492.7 97.9,1495.6 103.1,1495 108.2,1493.8 113.3,1495.6 118.5,1498.5 123.6,1502.2 128.7,1499.3 133.8,1498.5 138.9,1500.8 144.1,1502.5 149.2,1500.2 154.3,1499.6 159.4,1504.2 164.6,1504.2 169.7,1502.5 174.8,1501.9 179.9,1504.2 185.1,1511.8 190.2,1510.9 195.3,1503.1 200.4,1503.1 205.6,1501.9 210.7,1502.2 215.8,1508 220.9,1508.3 226.1,1504.2 231.2,1509.4 236.3,1504.8 241.4,1504.2 246.6,1504.2 251.7,1507.1 256.8,1508 261.9,1508.9 267.1,1508.3 272.2,1504.2 277.3,1504.2 282.4,1504.8 287.6,1508.9 292.7,1508 297.8,1507.7 302.9,1509.4 308.1,1506 313.2,1506.6 318.3,1507.1 323.4,1502.8 328.6,1504.8 333.7,1504.8 338.8,1507.7 343.9,1506.6 349.1,1508.3 354.2,1508.9" fill="none" stroke="#000" stroke-width="2.6" stroke-linejoin="round"/>
<text x="423.5" y="757.2" font-size="18.5">e</text>
<line x1="464.8" y1="782.3" x2="625" y2="782.3" stroke="#c4c4c4" stroke-width="1"/>
<line x1="464.8" y1="865.5" x2="625" y2="865.5" stroke="#c4c4c4" stroke-width="1"/>
<rect x="497.5" y="823.9" width="29.2" height="82.5" fill="#000"/>
<rect x="563" y="835.9" width="29.2" height="70.5" fill="#000"/>
<line x1="464.8" y1="823.9" x2="625" y2="823.9" stroke="#2a2a2a" stroke-width="1"/>
<line x1="464.8" y1="776.3" x2="464.8" y2="906.9" stroke="#333" stroke-width="1"/>
<line x1="464.3" y1="906.4" x2="625" y2="906.4" stroke="#555" stroke-width="1"/>
<circle cx="512.1" cy="823.9" r="1.85" fill="#8a8a8a"/>
<path d="M577.6 835.9V832.4M572.3 832.4H582.9" fill="none" stroke="#7c7c7c" stroke-width="1.3"/>
<circle cx="577.6" cy="827.9" r="1.85" fill="#8a8a8a"/>
<circle cx="577.6" cy="832.9" r="1.85" fill="#8a8a8a"/>
<circle cx="577.6" cy="840" r="1.85" fill="#8a8a8a"/>
<circle cx="577.6" cy="846" r="1.85" fill="#8a8a8a"/>
<text x="512.1" y="920.6" font-size="12.4" textLength="45" lengthAdjust="spacingAndGlyphs" text-anchor="middle">Control</text>
<text x="577.6" y="920.6" font-size="12.4" textLength="24" lengthAdjust="spacingAndGlyphs" text-anchor="middle">B+S</text>
<text x="460.8" y="827.3" font-size="11.7" text-anchor="end">100</text>
<text x="460.8" y="907.8" font-size="11.7" text-anchor="end">0</text>
<text x="430.3" y="841" font-size="12.4" transform="rotate(-90 430.3 841)" text-anchor="middle">[%]</text>
<path d="M512.2 812.4V805.8H577.7V812.4" fill="none" stroke="#333" stroke-width="1"/>
<text x="544.8" y="806.3" font-size="11" text-anchor="middle">*</text>
<text x="423.5" y="968" font-size="18.5">g</text>
<line x1="464.8" y1="994" x2="625" y2="994" stroke="#c4c4c4" stroke-width="1"/>
<line x1="464.8" y1="1077.2" x2="625" y2="1077.2" stroke="#c4c4c4" stroke-width="1"/>
<rect x="497.5" y="1035.6" width="29.2" height="82.5" fill="#000"/>
<rect x="563" y="1038.8" width="29.2" height="79.3" fill="#000"/>
<line x1="464.8" y1="1035.6" x2="625" y2="1035.6" stroke="#2a2a2a" stroke-width="1"/>
<line x1="464.8" y1="988" x2="464.8" y2="1118.6" stroke="#333" stroke-width="1"/>
<line x1="464.3" y1="1118.1" x2="625" y2="1118.1" stroke="#555" stroke-width="1"/>
<circle cx="512.1" cy="1035.6" r="1.85" fill="#8a8a8a"/>
<path d="M577.6 1038.8V1034.5M572.3 1034.5H582.9" fill="none" stroke="#7c7c7c" stroke-width="1.3"/>
<circle cx="577.6" cy="1025.4" r="1.85" fill="#8a8a8a"/>
<circle cx="577.6" cy="1028.6" r="1.85" fill="#8a8a8a"/>
<circle cx="577.6" cy="1039.8" r="1.85" fill="#8a8a8a"/>
<circle cx="577.6" cy="1049" r="1.85" fill="#8a8a8a"/>
<circle cx="577.6" cy="1051.6" r="1.85" fill="#8a8a8a"/>
<text x="512.1" y="1131.9" font-size="12.4" textLength="45" lengthAdjust="spacingAndGlyphs" text-anchor="middle">Control</text>
<text x="577.6" y="1131.9" font-size="12.4" textLength="24" lengthAdjust="spacingAndGlyphs" text-anchor="middle">B+S</text>
<text x="460.8" y="1039" font-size="11.7" text-anchor="end">100</text>
<text x="460.8" y="1119.5" font-size="11.7" text-anchor="end">0</text>
<text x="430.3" y="1052" font-size="12.4" transform="rotate(-90 430.3 1052)" text-anchor="middle">[%]</text>
<text x="423.6" y="1180.6" font-size="18.5">i</text>
<line x1="464.8" y1="1205.6" x2="625" y2="1205.6" stroke="#c4c4c4" stroke-width="1"/>
<line x1="464.8" y1="1288.8" x2="625" y2="1288.8" stroke="#c4c4c4" stroke-width="1"/>
<rect x="483.2" y="1247.2" width="28.8" height="82.5" fill="#000"/>
<rect x="530.3" y="1236.4" width="28.8" height="93.3" fill="#000"/>
<rect x="577.5" y="1244" width="28.8" height="85.7" fill="#000"/>
<line x1="464.8" y1="1247.2" x2="625" y2="1247.2" stroke="#2a2a2a" stroke-width="1"/>
<line x1="464.8" y1="1199.6" x2="464.8" y2="1330.2" stroke="#333" stroke-width="1"/>
<line x1="464.3" y1="1329.7" x2="625" y2="1329.7" stroke="#555" stroke-width="1"/>
<circle cx="497.6" cy="1247.2" r="1.85" fill="#8a8a8a"/>
<path d="M544.7 1236.4V1229.6M539.4 1229.6H550" fill="none" stroke="#7c7c7c" stroke-width="1.3"/>
<circle cx="544.7" cy="1222.7" r="1.85" fill="#8a8a8a"/>
<circle cx="544.7" cy="1225.6" r="1.85" fill="#8a8a8a"/>
<circle cx="544.7" cy="1232" r="1.85" fill="#8a8a8a"/>
<circle cx="544.7" cy="1235" r="1.85" fill="#8a8a8a"/>
<circle cx="544.7" cy="1267" r="1.85" fill="#8a8a8a"/>
<path d="M591.9 1244V1236.8M586.6 1236.8H597.2" fill="none" stroke="#7c7c7c" stroke-width="1.3"/>
<circle cx="591.9" cy="1224.2" r="1.85" fill="#8a8a8a"/>
<circle cx="591.9" cy="1244.7" r="1.85" fill="#8a8a8a"/>
<circle cx="591.9" cy="1249.4" r="1.85" fill="#8a8a8a"/>
<circle cx="591.9" cy="1258" r="1.85" fill="#8a8a8a"/>
<circle cx="591.9" cy="1260.5" r="1.85" fill="#8a8a8a"/>
<text x="497.3" y="1343.8" font-size="12.4" textLength="44.6" lengthAdjust="spacingAndGlyphs" text-anchor="middle">Control</text>
<text x="568.3" y="1343.8" font-size="12.4" textLength="23.5" lengthAdjust="spacingAndGlyphs" text-anchor="middle">B+S</text>
<text x="545.1" y="1359" font-size="12.4" textLength="25.2" lengthAdjust="spacingAndGlyphs" text-anchor="middle">Insp</text>
<text x="591.7" y="1359" font-size="12.4" textLength="23.4" lengthAdjust="spacingAndGlyphs" text-anchor="middle">Exp</text>
<text x="460.8" y="1250.6" font-size="11.7" text-anchor="end">100</text>
<text x="460.8" y="1331.1" font-size="11.7" text-anchor="end">0</text>
<text x="430.3" y="1263" font-size="12.4" transform="rotate(-90 430.3 1263)" text-anchor="middle">[%]</text>
<text x="423.5" y="1392.4" font-size="18.5">k</text>
<line x1="464.8" y1="1417.3" x2="625" y2="1417.3" stroke="#c4c4c4" stroke-width="1"/>
<line x1="464.8" y1="1500.5" x2="625" y2="1500.5" stroke="#c4c4c4" stroke-width="1"/>
<rect x="497.5" y="1458.9" width="29.2" height="82.5" fill="#000"/>
<rect x="563" y="1450.5" width="29.2" height="90.9" fill="#000"/>
<line x1="464.8" y1="1458.9" x2="625" y2="1458.9" stroke="#2a2a2a" stroke-width="1"/>
<line x1="464.8" y1="1411.3" x2="464.8" y2="1541.9" stroke="#333" stroke-width="1"/>
<line x1="464.3" y1="1541.4" x2="625" y2="1541.4" stroke="#555" stroke-width="1"/>
<circle cx="512.1" cy="1458.9" r="1.85" fill="#8a8a8a"/>
<path d="M577.6 1450.5V1440.7M572.3 1440.7H582.9" fill="none" stroke="#7c7c7c" stroke-width="1.3"/>
<circle cx="577.6" cy="1426.2" r="1.85" fill="#8a8a8a"/>
<circle cx="577.6" cy="1432.7" r="1.85" fill="#8a8a8a"/>
<circle cx="577.6" cy="1451.4" r="1.85" fill="#8a8a8a"/>
<circle cx="577.6" cy="1463.3" r="1.85" fill="#8a8a8a"/>
<circle cx="577.6" cy="1489.6" r="1.85" fill="#8a8a8a"/>
<text x="512.1" y="1555.3" font-size="12.4" textLength="45" lengthAdjust="spacingAndGlyphs" text-anchor="middle">Control</text>
<text x="577.6" y="1555.3" font-size="12.4" textLength="24" lengthAdjust="spacingAndGlyphs" text-anchor="middle">B+S</text>
<text x="460.8" y="1462.3" font-size="11.7" text-anchor="end">100</text>
<text x="460.8" y="1542.8" font-size="11.7" text-anchor="end">0</text>
<text x="430.3" y="1475" font-size="12.4" transform="rotate(-90 430.3 1475)" text-anchor="middle">[%]</text>
</svg>
</body>
</html>
